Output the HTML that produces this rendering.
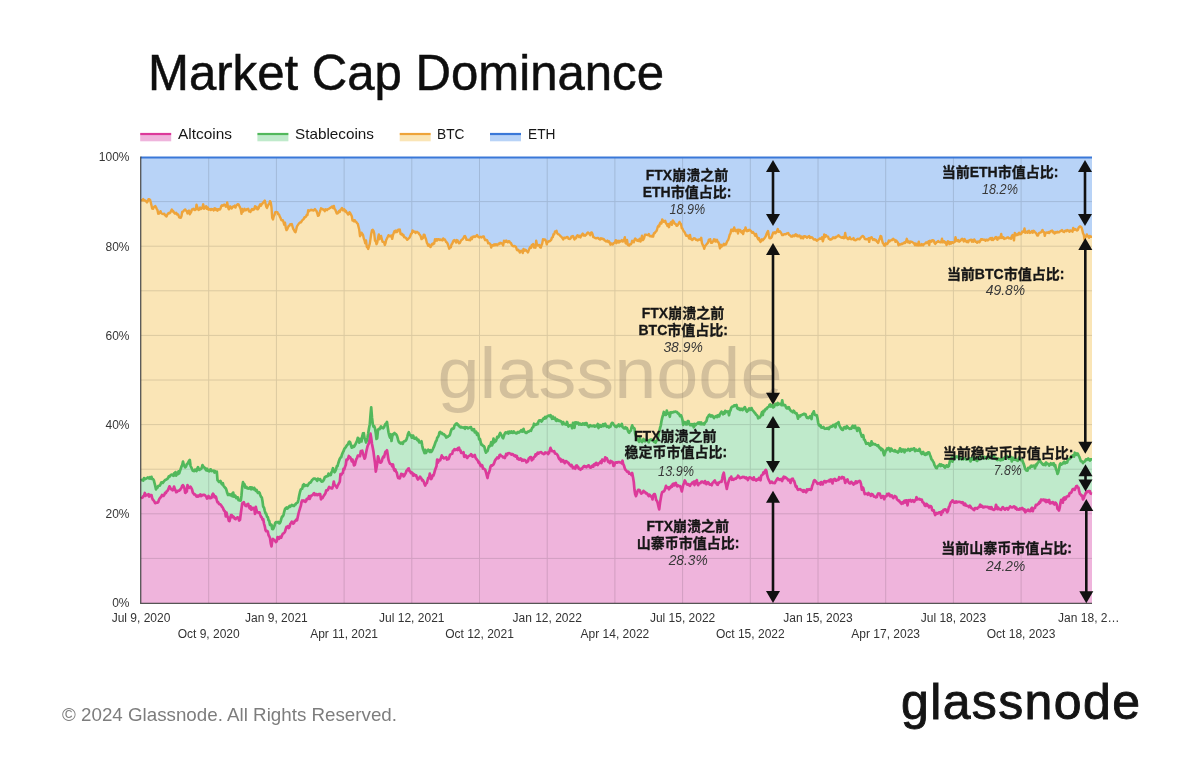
<!DOCTYPE html>
<html><head><meta charset="utf-8"><title>Market Cap Dominance</title>
<style>html,body{margin:0;padding:0;background:#fff;}svg{display:block;}</style></head>
<body><svg width="1200" height="761" viewBox="0 0 1200 761">
<rect width="1200" height="761" fill="#fff"/>
<polygon fill="#b8d3f7" points="141,157 1092,157 1092,236.7 1091.2,236.7 1090.5,236.8 1089.8,235.9 1089,237.8 1088.2,235.9 1087.5,236.3 1086.8,234.4 1086,236.7 1085.2,237.1 1084.5,239.9 1083.8,234.9 1083,233.3 1082.2,229.8 1081.5,227.5 1080.8,226.7 1080,226.3 1079.2,227 1078.5,228 1077.8,230 1077,230.5 1076.2,230 1075.5,229.1 1074.8,229 1074,229.9 1073.2,227.9 1072.5,231.7 1071.8,230.6 1071,231.1 1070.2,230.4 1069.5,231.8 1068.8,230.7 1068,230.4 1067.2,230 1066.5,231.2 1065.8,230.5 1065,230.9 1064.2,232 1063.5,231.9 1062.8,231.3 1062,230 1061.2,230.8 1060.5,231 1059.8,231.6 1059,232.2 1058.2,232.3 1057.5,231.7 1056.8,232.6 1056,232.1 1055.2,233.1 1054.5,233.6 1053.8,232 1053,232.4 1052.2,230.5 1051.5,231.2 1050.8,231 1050,231.9 1049.2,233 1048.5,232.1 1047.8,232.8 1047,232.6 1046.2,232.5 1045.5,233.3 1044.8,235.9 1044,232.1 1043.2,231.9 1042.5,230 1041.8,231.1 1041,232.4 1040.2,232.6 1039.5,232.9 1038.8,233.3 1038,235.6 1037.2,235.5 1036.5,234 1035.8,232.8 1035,232.4 1034.2,231.3 1033.5,230.8 1032.8,232.7 1032,231.1 1031.2,232.4 1030.5,232.4 1029.8,232.9 1029,230.7 1028.2,231.1 1027.5,232.7 1026.8,232.2 1026,231.5 1025.2,232.8 1024.5,228.5 1023.8,231.6 1023,232.1 1022.2,231.6 1021.5,233.4 1020.8,234.2 1020,234.4 1019.2,232.7 1018.5,233.3 1017.8,234.9 1017,234.4 1016.2,235.3 1015.5,234 1014.8,232.9 1014,240.4 1013.2,236.7 1012.5,235 1011.8,236.2 1011,238.7 1010.2,238.1 1009.5,238.3 1008.8,238.2 1008,237.3 1007.2,237.6 1006.5,238.1 1005.8,238.3 1005,238.5 1004.2,238.9 1003.5,237.4 1002.8,237 1002,238 1001.2,234 1000.5,236.9 999.8,238.3 999,237.6 998.2,237.5 997.5,239.8 996.8,239.2 996,237 995.2,237.5 994.5,238.8 993.8,239.1 993,240.1 992.2,238 991.5,239.9 990.8,238.1 990,238.4 989.2,239.2 988.5,239.7 987.8,240.5 987,239.7 986.2,239.7 985.5,240.7 984.8,239.8 984,239.7 983.2,239.7 982.5,239.3 981.8,239.8 981,239.2 980.2,240.9 979.5,242.2 978.8,241.8 978,241.4 977.2,242.8 976.5,241.7 975.8,241.9 975,240.7 974.2,239.5 973.5,241.7 972.8,240 972,241.7 971.2,239.6 970.5,239.8 969.8,240.1 969,240.5 968.2,242.2 967.5,240.9 966.8,242.1 966,241.4 965.2,240 964.5,239.1 963.8,241.4 963,239.7 962.2,238.8 961.5,239.3 960.8,240.3 960,241 959.2,241.7 958.5,240.1 957.8,241 957,241 956.2,239.5 955.5,237.3 954.8,241.9 954,242.3 953.2,242.9 952.5,242.1 951.8,242.2 951,243.6 950.2,242.2 949.5,244.1 948.8,241.7 948,241.3 947.2,243.2 946.5,245 945.8,242.3 945,242.7 944.2,241.2 943.5,241.6 942.8,242.4 942,238.7 941.2,241.9 940.5,242.4 939.8,242.2 939,241.9 938.2,241 937.5,241.9 936.8,241.9 936,243.2 935.2,243.9 934.5,242.9 933.8,240.7 933,240.1 932.2,240.1 931.5,241.7 930.8,241.5 930,240.8 929.2,245.1 928.5,241.3 927.8,242.4 927,243.2 926.2,242.3 925.5,243.1 924.8,243.7 924,244.1 923.2,245.4 922.5,245.2 921.8,244 921,245.3 920.2,245.4 919.5,245.3 918.8,241.6 918,245.4 917.2,243.9 916.5,245.3 915.8,243.6 915,245.2 914.2,243.6 913.5,242.8 912.8,242.5 912,241.9 911.2,241.8 910.5,241.5 909.8,243 909,241.4 908.2,242.5 907.5,240.8 906.8,238.8 906,241.8 905.2,242.9 904.5,242.3 903.8,243.3 903,243.3 902.2,244 901.5,243.7 900.8,244.6 900,244.4 899.2,244.1 898.5,245.3 897.8,242.5 897,241.5 896.2,240.5 895.5,241.8 894.8,239.8 894,239.6 893.2,238.8 892.5,240.1 891.8,239.8 891,240.3 890.2,240.6 889.5,241.5 888.8,240.5 888,242.8 887.2,244.1 886.5,244 885.8,243.3 885,245.8 884.2,245.4 883.5,243.8 882.8,242.9 882,240.2 881.2,236.3 880.5,236 879.8,238.5 879,240.3 878.2,242.9 877.5,242 876.8,241.6 876,239.9 875.2,240.2 874.5,239.2 873.8,239.2 873,239.9 872.2,238.4 871.5,237.2 870.8,237.9 870,237.9 869.2,241.9 868.5,238.3 867.8,239.4 867,239.1 866.2,239.4 865.5,238.9 864.8,239 864,237.1 863.2,236.2 862.5,236 861.8,236.7 861,237.5 860.2,238.3 859.5,239.4 858.8,239.2 858,238.7 857.2,239.3 856.5,239.5 855.8,240.2 855,240.1 854.2,240.1 853.5,238.1 852.8,238.7 852,239.1 851.2,239.2 850.5,239 849.8,237.2 849,238.5 848.2,239.2 847.5,238.7 846.8,237.5 846,237.6 845.2,232.9 844.5,237.4 843.8,238.2 843,237 842.2,237.9 841.5,237.7 840.8,237.3 840,236.7 839.2,236.4 838.5,235.2 837.8,236.2 837,236.6 836.2,236.6 835.5,238 834.8,237.4 834,238.2 833.2,237.3 832.5,238.1 831.8,239.1 831,239.5 830.2,239.7 829.5,238.9 828.8,238.8 828,236.6 827.2,236.4 826.5,235.9 825.8,235.2 825,237.1 824.2,234.4 823.5,239.2 822.8,241.3 822,237.3 821.2,238.6 820.5,238.9 819.8,238.5 819,239.2 818.2,239.6 817.5,240.2 816.8,240.8 816,239.9 815.2,239.3 814.5,239.6 813.8,239.5 813,238.5 812.2,237.5 811.5,237.3 810.8,237.4 810,238 809.2,236 808.5,236.3 807.8,236.9 807,237.7 806.2,236.6 805.5,236.8 804.8,236.2 804,236.2 803.2,238.4 802.5,237.6 801.8,236.5 801,238.2 800.2,236.6 799.5,235.5 798.8,235.9 798,236.5 797.2,235.1 796.5,235.9 795.8,234.3 795,234.7 794.2,236.3 793.5,235.7 792.8,235.4 792,236.7 791.2,236.5 790.5,235.9 789.8,235.1 789,234.9 788.2,232.9 787.5,233.4 786.8,233.4 786,234.1 785.2,234.4 784.5,234.1 783.8,234.3 783,235 782.2,235.1 781.5,233.7 780.8,232.5 780,231.3 779.2,231.7 778.5,231.7 777.8,229 777,231.1 776.2,232.5 775.5,233.3 774.8,232.2 774,233.3 773.2,232.6 772.5,234.4 771.8,236.9 771,238 770.2,238.4 769.5,238.2 768.8,235.2 768,231 767.2,232.6 766.5,234 765.8,236.2 765,237.5 764.2,238.6 763.5,239.3 762.8,240.2 762,239.2 761.2,240.8 760.5,242 759.8,240.7 759,238.3 758.2,239.4 757.5,237.7 756.8,236.5 756,233.9 755.2,235.8 754.5,234.1 753.8,233.2 753,232.1 752.2,232.8 751.5,231.7 750.8,230.8 750,230 749.2,229.8 748.5,230.7 747.8,230.3 747,231.2 746.2,229.7 745.5,227.4 744.8,230.7 744,230.3 743.2,234.1 742.5,231.2 741.8,232.7 741,231.9 740.2,229.9 739.5,230.7 738.8,229.7 738,233.6 737.2,229.8 736.5,230.5 735.8,231.2 735,230.4 734.2,227.5 733.5,231.1 732.8,229.4 732,231.1 731.2,229.7 730.5,233.5 729.8,234.4 729,237.4 728.2,240 727.5,240.8 726.8,242.3 726,244.4 725.2,244 724.5,244.9 723.8,243.8 723,245.5 722.2,245.8 721.5,246.7 720.8,244.6 720,248.4 719.2,244.8 718.5,242.2 717.8,242.2 717,239.8 716.2,241.4 715.5,241.6 714.8,239.5 714,239.3 713.2,241.2 712.5,242.1 711.8,242.9 711,242.8 710.2,239.2 709.5,240.8 708.8,239.7 708,242.8 707.2,243.5 706.5,244.4 705.8,245.4 705,246.2 704.2,248.8 703.5,246.3 702.8,245.1 702,243.2 701.2,237.8 700.5,240 699.8,239.4 699,239.4 698.2,240.2 697.5,240.5 696.8,239.6 696,239.8 695.2,238.7 694.5,238.4 693.8,238.2 693,239.2 692.2,240.1 691.5,239.2 690.8,239 690,234.9 689.2,238.6 688.5,236.8 687.8,235.4 687,235.9 686.2,235.8 685.5,234.2 684.8,232.6 684,231.6 683.2,230.4 682.5,228.6 681.8,228.2 681,224.2 680.2,223.4 679.5,221.9 678.8,223.4 678,224.7 677.2,225.7 676.5,225.7 675.8,224.1 675,223.8 674.2,222.6 673.5,221.5 672.8,220.4 672,224.9 671.2,221.9 670.5,223 669.8,223.9 669,227.2 668.2,224.1 667.5,226 666.8,224.3 666,223.4 665.2,220.7 664.5,221.2 663.8,221.7 663,220.7 662.2,219.4 661.5,223.4 660.8,222.3 660,223.3 659.2,226.4 658.5,225.7 657.8,226.7 657,229.7 656.2,231.5 655.5,231.8 654.8,233.1 654,233.1 653.2,236.6 652.5,235.4 651.8,236.6 651,236.1 650.2,236.3 649.5,235.6 648.8,234.1 648,235.3 647.2,234.9 646.5,234.9 645.8,234.6 645,234.7 644.2,237.7 643.5,239.4 642.8,240.1 642,235.7 641.2,239.6 640.5,241.5 639.8,238.8 639,241.1 638.2,239.7 637.5,240.8 636.8,240.5 636,239.4 635.2,238.5 634.5,239.8 633.8,242.3 633,241.8 632.2,240.8 631.5,243.3 630.8,244.4 630,244.2 629.2,245.5 628.5,245.4 627.8,244.8 627,240 626.2,243.5 625.5,242.9 624.8,237.2 624,240.4 623.2,241.3 622.5,241.6 621.8,240.1 621,240.8 620.2,241.7 619.5,240.9 618.8,242.6 618,240.8 617.2,241.1 616.5,243.2 615.8,240.2 615,242.5 614.2,242.8 613.5,243.1 612.8,244.6 612,244.4 611.2,243.4 610.5,244.7 609.8,242.9 609,241.3 608.2,242 607.5,240.6 606.8,241.4 606,241.5 605.2,240.7 604.5,240.4 603.8,239.1 603,238.8 602.2,239.1 601.5,238.4 600.8,238.3 600,239.6 599.2,239.1 598.5,238.3 597.8,237.9 597,238 596.2,238.4 595.5,238.1 594.8,237.7 594,237.2 593.2,237.1 592.5,234 591.8,232.5 591,232.7 590.2,235.2 589.5,234.1 588.8,233.1 588,232.5 587.2,233.2 586.5,234.4 585.8,235.1 585,235.7 584.2,234.8 583.5,235.5 582.8,233.6 582,234.6 581.2,235.7 580.5,237.4 579.8,235.8 579,236.9 578.2,235.9 577.5,235.2 576.8,236.1 576,238.2 575.2,237.8 574.5,239.4 573.8,238.2 573,235.9 572.2,236.5 571.5,236.4 570.8,238.1 570,239 569.2,238.8 568.5,238.8 567.8,237.3 567,236.9 566.2,237.4 565.5,238.1 564.8,237.7 564,237.6 563.2,239.5 562.5,238.2 561.8,237.3 561,236.5 560.2,235.8 559.5,235 558.8,234.3 558,234.1 557.2,233.2 556.5,230.7 555.8,231.5 555,231.5 554.2,234.4 553.5,234.1 552.8,237.2 552,237.5 551.2,239.9 550.5,240.5 549.8,241.3 549,241.2 548.2,241.9 547.5,241.7 546.8,244.4 546,241.3 545.2,239.6 544.5,239.4 543.8,240.1 543,239.1 542.2,243.7 541.5,245.3 540.8,247.6 540,247.2 539.2,244.9 538.5,245.3 537.8,245.6 537,244.9 536.2,240.7 535.5,247.7 534.8,245.5 534,247.5 533.2,244 532.5,245.8 531.8,245 531,247.9 530.2,247 529.5,248.4 528.8,250.1 528,252.4 527.2,251.4 526.5,251.1 525.8,249.9 525,249.8 524.2,250.8 523.5,249 522.8,253 522,250.8 521.2,250.6 520.5,251.2 519.8,252.6 519,250.8 518.2,249.8 517.5,250.3 516.8,249.6 516,247 515.2,246.4 514.5,245.9 513.8,246.4 513,246.1 512.2,245.6 511.5,244.5 510.8,242.8 510,242.6 509.2,241.2 508.5,241.2 507.8,242.4 507,241.8 506.2,240.5 505.5,241.9 504.8,242.1 504,240.8 503.2,245.4 502.5,243.9 501.8,243.4 501,243 500.2,242.8 499.5,244 498.8,243.5 498,244.5 497.2,245.3 496.5,244.3 495.8,244.1 495,245.3 494.2,244.3 493.5,245.6 492.8,245.1 492,245.6 491.2,247.5 490.5,244.4 489.8,243.5 489,243.2 488.2,243.4 487.5,241.1 486.8,239.9 486,240 485.2,240.2 484.5,238.8 483.8,236.5 483,236.4 482.2,237 481.5,237.5 480.8,236.8 480,237.2 479.2,237.6 478.5,236.7 477.8,236.5 477,234.9 476.2,235.9 475.5,236.4 474.8,236.9 474,236.3 473.2,237.1 472.5,236.8 471.8,239.1 471,237.7 470.2,240.2 469.5,239.7 468.8,240 468,239.9 467.2,239.6 466.5,239.8 465.8,237.6 465,236 464.2,236.4 463.5,238.1 462.8,239 462,239.7 461.2,240.2 460.5,241.5 459.8,243.1 459,243.2 458.2,242.1 457.5,240.3 456.8,240.1 456,242.6 455.2,240.8 454.5,240 453.8,240.3 453,241.7 452.2,243.8 451.5,244.4 450.8,247.4 450,247.6 449.2,248.7 448.5,246.4 447.8,244.1 447,242.6 446.2,242.1 445.5,240.7 444.8,239.4 444,239.5 443.2,238.4 442.5,240.5 441.8,239.8 441,240.1 440.2,239.4 439.5,239.9 438.8,239.2 438,239.1 437.2,240.4 436.5,239.2 435.8,240.7 435,239.2 434.2,243.6 433.5,243 432.8,244.4 432,244 431.2,245.8 430.5,247.1 429.8,246 429,244.6 428.2,245.8 427.5,243.9 426.8,242.6 426,239.2 425.2,237.2 424.5,234.9 423.8,234.6 423,238 422.2,238.7 421.5,239.1 420.8,236.6 420,234.9 419.2,234.3 418.5,232.9 417.8,232.5 417,231.8 416.2,232.2 415.5,232.9 414.8,231.5 414,231.8 413.2,231.5 412.5,230.4 411.8,233.4 411,234 410.2,236.3 409.5,237.8 408.8,238.2 408,239.1 407.2,239.8 406.5,238.8 405.8,237.8 405,237.4 404.2,237.3 403.5,235 402.8,235.6 402,233.7 401.2,234.4 400.5,233.8 399.8,229.5 399,229.8 398.2,229.7 397.5,231.5 396.8,232.1 396,230.6 395.2,232.2 394.5,231.1 393.8,232.8 393,235.1 392.2,238.9 391.5,235.5 390.8,235.6 390,236.5 389.2,235.7 388.5,235.2 387.8,236.8 387,238.4 386.2,240.1 385.5,243.3 384.8,244.9 384,242.2 383.2,241.8 382.5,241.8 381.8,239 381,235.9 380.2,237.3 379.5,239.2 378.8,234.4 378,238.1 377.2,242.8 376.5,244.2 375.8,241.4 375,240.6 374.2,233.4 373.5,230.9 372.8,229.8 372,230.3 371.2,234 370.5,238.9 369.8,243.7 369,246.4 368.2,249 367.5,247.5 366.8,246.8 366,240.4 365.2,243.2 364.5,240.2 363.8,238.5 363,234.9 362.2,233.7 361.5,232.7 360.8,234.9 360,236.2 359.2,229.5 358.5,226.7 357.8,223.8 357,223.1 356.2,221.8 355.5,221.6 354.8,220.2 354,221.3 353.2,219.9 352.5,220.5 351.8,216.3 351,214.5 350.2,213.1 349.5,212.2 348.8,214.2 348,214.6 347.2,212.9 346.5,212.5 345.8,210.8 345,211.4 344.2,209.2 343.5,210.4 342.8,210.3 342,208 341.2,209.3 340.5,209.7 339.8,211.9 339,211 338.2,212.6 337.5,213.4 336.8,213.6 336,211.5 335.2,209.5 334.5,208.8 333.8,205.9 333,208 332.2,206.4 331.5,207.1 330.8,207.3 330,208.1 329.2,208.6 328.5,208.9 327.8,209.1 327,210.2 326.2,209.5 325.5,209.3 324.8,211.2 324,209.8 323.2,209.7 322.5,208.9 321.8,208.9 321,208.3 320.2,211 319.5,212.9 318.8,215.5 318,215.8 317.2,213.1 316.5,211 315.8,210.4 315,209.1 314.2,210 313.5,210.5 312.8,209.9 312,210.4 311.2,209.8 310.5,210 309.8,210.6 309,211.2 308.2,210.3 307.5,214.9 306.8,214.7 306,216.6 305.2,217.3 304.5,217.2 303.8,218.8 303,219.6 302.2,220.3 301.5,221.6 300.8,222.5 300,222.5 299.2,223.1 298.5,224.1 297.8,225.1 297,226.3 296.2,229.6 295.5,232.2 294.8,231.8 294,230 293.2,228.8 292.5,226.5 291.8,224.1 291,224.4 290.2,224.3 289.5,225.8 288.8,225.8 288,227.6 287.2,229.3 286.5,230.1 285.8,227.9 285,222.7 284.2,224.7 283.5,222.1 282.8,220.2 282,220.4 281.2,219.9 280.5,217.9 279.8,216.6 279,214.5 278.2,214.4 277.5,212.4 276.8,212.1 276,212 275.2,212.4 274.5,215 273.8,216.3 273,219.5 272.2,217.8 271.5,207.5 270.8,202.6 270,201.1 269.2,204.1 268.5,204.6 267.8,205.8 267,207.9 266.2,206.6 265.5,203.6 264.8,200.6 264,201.5 263.2,202.5 262.5,203.5 261.8,204.1 261,205.8 260.2,204.3 259.5,205.5 258.8,207.8 258,209.2 257.2,209.2 256.5,206.9 255.8,208.2 255,206.2 254.2,209.4 253.5,209.1 252.8,210.1 252,209 251.2,210.1 250.5,211.9 249.8,211.4 249,211.4 248.2,208.7 247.5,209.2 246.8,209.3 246,210.3 245.2,210.4 244.5,208.8 243.8,210.1 243,211.7 242.2,209 241.5,213.8 240.8,209.5 240,207.4 239.2,205.8 238.5,204.3 237.8,204.1 237,205 236.2,205.7 235.5,207.6 234.8,205.6 234,206.7 233.2,206.5 232.5,207.1 231.8,208.4 231,207.4 230.2,206.3 229.5,208.6 228.8,209.3 228,207.2 227.2,202.4 226.5,206.4 225.8,206.7 225,205.4 224.2,204.5 223.5,205.2 222.8,205.8 222,205.2 221.2,206.2 220.5,208.6 219.8,209.6 219,209.2 218.2,209.3 217.5,210.7 216.8,209.1 216,210 215.2,208.5 214.5,208.3 213.8,210.4 213,209.4 212.2,209.6 211.5,208.9 210.8,210 210,209 209.2,209.5 208.5,209.7 207.8,207.6 207,208.8 206.2,206.3 205.5,206.8 204.8,208.3 204,208.8 203.2,204.3 202.5,207.2 201.8,208.4 201,209 200.2,207.5 199.5,209.2 198.8,210 198,209.3 197.2,207 196.5,204.6 195.8,209.6 195,210.1 194.2,209.9 193.5,208.7 192.8,209.1 192,209.3 191.2,211.9 190.5,213 189.8,214.3 189,210.6 188.2,211.5 187.5,213.4 186.8,211.1 186,210.7 185.2,209.4 184.5,210 183.8,210.6 183,211.7 182.2,211.9 181.5,216 180.8,217.7 180,217.6 179.2,217.5 178.5,215.3 177.8,214.3 177,214.6 176.2,212.8 175.5,213.3 174.8,213.6 174,212.5 173.2,211 172.5,211.4 171.8,209.5 171,211 170.2,212.7 169.5,213.3 168.8,212.9 168,213.7 167.2,214.8 166.5,216.5 165.8,215.9 165,215.1 164.2,213.7 163.5,213.9 162.8,214 162,213.7 161.2,212.8 160.5,211.2 159.8,212.8 159,213.5 158.2,213.7 157.5,210.2 156.8,209.1 156,207.3 155.2,206 154.5,206.8 153.8,207.3 153,208.9 152.2,208.7 151.5,205.6 150.8,202.5 150,199.7 149.2,199.2 148.5,199.3 147.8,201.1 147,202.4 146.2,201.5 145.5,200.6 144.8,200.3 144,200.5 143.2,199.1 142.5,200.3 141.8,200.3 141,200.3"/>
<polygon fill="#fae5b6" points="141,200.3 141.8,200.3 142.5,200.3 143.2,199.1 144,200.5 144.8,200.3 145.5,200.6 146.2,201.5 147,202.4 147.8,201.1 148.5,199.3 149.2,199.2 150,199.7 150.8,202.5 151.5,205.6 152.2,208.7 153,208.9 153.8,207.3 154.5,206.8 155.2,206 156,207.3 156.8,209.1 157.5,210.2 158.2,213.7 159,213.5 159.8,212.8 160.5,211.2 161.2,212.8 162,213.7 162.8,214 163.5,213.9 164.2,213.7 165,215.1 165.8,215.9 166.5,216.5 167.2,214.8 168,213.7 168.8,212.9 169.5,213.3 170.2,212.7 171,211 171.8,209.5 172.5,211.4 173.2,211 174,212.5 174.8,213.6 175.5,213.3 176.2,212.8 177,214.6 177.8,214.3 178.5,215.3 179.2,217.5 180,217.6 180.8,217.7 181.5,216 182.2,211.9 183,211.7 183.8,210.6 184.5,210 185.2,209.4 186,210.7 186.8,211.1 187.5,213.4 188.2,211.5 189,210.6 189.8,214.3 190.5,213 191.2,211.9 192,209.3 192.8,209.1 193.5,208.7 194.2,209.9 195,210.1 195.8,209.6 196.5,204.6 197.2,207 198,209.3 198.8,210 199.5,209.2 200.2,207.5 201,209 201.8,208.4 202.5,207.2 203.2,204.3 204,208.8 204.8,208.3 205.5,206.8 206.2,206.3 207,208.8 207.8,207.6 208.5,209.7 209.2,209.5 210,209 210.8,210 211.5,208.9 212.2,209.6 213,209.4 213.8,210.4 214.5,208.3 215.2,208.5 216,210 216.8,209.1 217.5,210.7 218.2,209.3 219,209.2 219.8,209.6 220.5,208.6 221.2,206.2 222,205.2 222.8,205.8 223.5,205.2 224.2,204.5 225,205.4 225.8,206.7 226.5,206.4 227.2,202.4 228,207.2 228.8,209.3 229.5,208.6 230.2,206.3 231,207.4 231.8,208.4 232.5,207.1 233.2,206.5 234,206.7 234.8,205.6 235.5,207.6 236.2,205.7 237,205 237.8,204.1 238.5,204.3 239.2,205.8 240,207.4 240.8,209.5 241.5,213.8 242.2,209 243,211.7 243.8,210.1 244.5,208.8 245.2,210.4 246,210.3 246.8,209.3 247.5,209.2 248.2,208.7 249,211.4 249.8,211.4 250.5,211.9 251.2,210.1 252,209 252.8,210.1 253.5,209.1 254.2,209.4 255,206.2 255.8,208.2 256.5,206.9 257.2,209.2 258,209.2 258.8,207.8 259.5,205.5 260.2,204.3 261,205.8 261.8,204.1 262.5,203.5 263.2,202.5 264,201.5 264.8,200.6 265.5,203.6 266.2,206.6 267,207.9 267.8,205.8 268.5,204.6 269.2,204.1 270,201.1 270.8,202.6 271.5,207.5 272.2,217.8 273,219.5 273.8,216.3 274.5,215 275.2,212.4 276,212 276.8,212.1 277.5,212.4 278.2,214.4 279,214.5 279.8,216.6 280.5,217.9 281.2,219.9 282,220.4 282.8,220.2 283.5,222.1 284.2,224.7 285,222.7 285.8,227.9 286.5,230.1 287.2,229.3 288,227.6 288.8,225.8 289.5,225.8 290.2,224.3 291,224.4 291.8,224.1 292.5,226.5 293.2,228.8 294,230 294.8,231.8 295.5,232.2 296.2,229.6 297,226.3 297.8,225.1 298.5,224.1 299.2,223.1 300,222.5 300.8,222.5 301.5,221.6 302.2,220.3 303,219.6 303.8,218.8 304.5,217.2 305.2,217.3 306,216.6 306.8,214.7 307.5,214.9 308.2,210.3 309,211.2 309.8,210.6 310.5,210 311.2,209.8 312,210.4 312.8,209.9 313.5,210.5 314.2,210 315,209.1 315.8,210.4 316.5,211 317.2,213.1 318,215.8 318.8,215.5 319.5,212.9 320.2,211 321,208.3 321.8,208.9 322.5,208.9 323.2,209.7 324,209.8 324.8,211.2 325.5,209.3 326.2,209.5 327,210.2 327.8,209.1 328.5,208.9 329.2,208.6 330,208.1 330.8,207.3 331.5,207.1 332.2,206.4 333,208 333.8,205.9 334.5,208.8 335.2,209.5 336,211.5 336.8,213.6 337.5,213.4 338.2,212.6 339,211 339.8,211.9 340.5,209.7 341.2,209.3 342,208 342.8,210.3 343.5,210.4 344.2,209.2 345,211.4 345.8,210.8 346.5,212.5 347.2,212.9 348,214.6 348.8,214.2 349.5,212.2 350.2,213.1 351,214.5 351.8,216.3 352.5,220.5 353.2,219.9 354,221.3 354.8,220.2 355.5,221.6 356.2,221.8 357,223.1 357.8,223.8 358.5,226.7 359.2,229.5 360,236.2 360.8,234.9 361.5,232.7 362.2,233.7 363,234.9 363.8,238.5 364.5,240.2 365.2,243.2 366,240.4 366.8,246.8 367.5,247.5 368.2,249 369,246.4 369.8,243.7 370.5,238.9 371.2,234 372,230.3 372.8,229.8 373.5,230.9 374.2,233.4 375,240.6 375.8,241.4 376.5,244.2 377.2,242.8 378,238.1 378.8,234.4 379.5,239.2 380.2,237.3 381,235.9 381.8,239 382.5,241.8 383.2,241.8 384,242.2 384.8,244.9 385.5,243.3 386.2,240.1 387,238.4 387.8,236.8 388.5,235.2 389.2,235.7 390,236.5 390.8,235.6 391.5,235.5 392.2,238.9 393,235.1 393.8,232.8 394.5,231.1 395.2,232.2 396,230.6 396.8,232.1 397.5,231.5 398.2,229.7 399,229.8 399.8,229.5 400.5,233.8 401.2,234.4 402,233.7 402.8,235.6 403.5,235 404.2,237.3 405,237.4 405.8,237.8 406.5,238.8 407.2,239.8 408,239.1 408.8,238.2 409.5,237.8 410.2,236.3 411,234 411.8,233.4 412.5,230.4 413.2,231.5 414,231.8 414.8,231.5 415.5,232.9 416.2,232.2 417,231.8 417.8,232.5 418.5,232.9 419.2,234.3 420,234.9 420.8,236.6 421.5,239.1 422.2,238.7 423,238 423.8,234.6 424.5,234.9 425.2,237.2 426,239.2 426.8,242.6 427.5,243.9 428.2,245.8 429,244.6 429.8,246 430.5,247.1 431.2,245.8 432,244 432.8,244.4 433.5,243 434.2,243.6 435,239.2 435.8,240.7 436.5,239.2 437.2,240.4 438,239.1 438.8,239.2 439.5,239.9 440.2,239.4 441,240.1 441.8,239.8 442.5,240.5 443.2,238.4 444,239.5 444.8,239.4 445.5,240.7 446.2,242.1 447,242.6 447.8,244.1 448.5,246.4 449.2,248.7 450,247.6 450.8,247.4 451.5,244.4 452.2,243.8 453,241.7 453.8,240.3 454.5,240 455.2,240.8 456,242.6 456.8,240.1 457.5,240.3 458.2,242.1 459,243.2 459.8,243.1 460.5,241.5 461.2,240.2 462,239.7 462.8,239 463.5,238.1 464.2,236.4 465,236 465.8,237.6 466.5,239.8 467.2,239.6 468,239.9 468.8,240 469.5,239.7 470.2,240.2 471,237.7 471.8,239.1 472.5,236.8 473.2,237.1 474,236.3 474.8,236.9 475.5,236.4 476.2,235.9 477,234.9 477.8,236.5 478.5,236.7 479.2,237.6 480,237.2 480.8,236.8 481.5,237.5 482.2,237 483,236.4 483.8,236.5 484.5,238.8 485.2,240.2 486,240 486.8,239.9 487.5,241.1 488.2,243.4 489,243.2 489.8,243.5 490.5,244.4 491.2,247.5 492,245.6 492.8,245.1 493.5,245.6 494.2,244.3 495,245.3 495.8,244.1 496.5,244.3 497.2,245.3 498,244.5 498.8,243.5 499.5,244 500.2,242.8 501,243 501.8,243.4 502.5,243.9 503.2,245.4 504,240.8 504.8,242.1 505.5,241.9 506.2,240.5 507,241.8 507.8,242.4 508.5,241.2 509.2,241.2 510,242.6 510.8,242.8 511.5,244.5 512.2,245.6 513,246.1 513.8,246.4 514.5,245.9 515.2,246.4 516,247 516.8,249.6 517.5,250.3 518.2,249.8 519,250.8 519.8,252.6 520.5,251.2 521.2,250.6 522,250.8 522.8,253 523.5,249 524.2,250.8 525,249.8 525.8,249.9 526.5,251.1 527.2,251.4 528,252.4 528.8,250.1 529.5,248.4 530.2,247 531,247.9 531.8,245 532.5,245.8 533.2,244 534,247.5 534.8,245.5 535.5,247.7 536.2,240.7 537,244.9 537.8,245.6 538.5,245.3 539.2,244.9 540,247.2 540.8,247.6 541.5,245.3 542.2,243.7 543,239.1 543.8,240.1 544.5,239.4 545.2,239.6 546,241.3 546.8,244.4 547.5,241.7 548.2,241.9 549,241.2 549.8,241.3 550.5,240.5 551.2,239.9 552,237.5 552.8,237.2 553.5,234.1 554.2,234.4 555,231.5 555.8,231.5 556.5,230.7 557.2,233.2 558,234.1 558.8,234.3 559.5,235 560.2,235.8 561,236.5 561.8,237.3 562.5,238.2 563.2,239.5 564,237.6 564.8,237.7 565.5,238.1 566.2,237.4 567,236.9 567.8,237.3 568.5,238.8 569.2,238.8 570,239 570.8,238.1 571.5,236.4 572.2,236.5 573,235.9 573.8,238.2 574.5,239.4 575.2,237.8 576,238.2 576.8,236.1 577.5,235.2 578.2,235.9 579,236.9 579.8,235.8 580.5,237.4 581.2,235.7 582,234.6 582.8,233.6 583.5,235.5 584.2,234.8 585,235.7 585.8,235.1 586.5,234.4 587.2,233.2 588,232.5 588.8,233.1 589.5,234.1 590.2,235.2 591,232.7 591.8,232.5 592.5,234 593.2,237.1 594,237.2 594.8,237.7 595.5,238.1 596.2,238.4 597,238 597.8,237.9 598.5,238.3 599.2,239.1 600,239.6 600.8,238.3 601.5,238.4 602.2,239.1 603,238.8 603.8,239.1 604.5,240.4 605.2,240.7 606,241.5 606.8,241.4 607.5,240.6 608.2,242 609,241.3 609.8,242.9 610.5,244.7 611.2,243.4 612,244.4 612.8,244.6 613.5,243.1 614.2,242.8 615,242.5 615.8,240.2 616.5,243.2 617.2,241.1 618,240.8 618.8,242.6 619.5,240.9 620.2,241.7 621,240.8 621.8,240.1 622.5,241.6 623.2,241.3 624,240.4 624.8,237.2 625.5,242.9 626.2,243.5 627,240 627.8,244.8 628.5,245.4 629.2,245.5 630,244.2 630.8,244.4 631.5,243.3 632.2,240.8 633,241.8 633.8,242.3 634.5,239.8 635.2,238.5 636,239.4 636.8,240.5 637.5,240.8 638.2,239.7 639,241.1 639.8,238.8 640.5,241.5 641.2,239.6 642,235.7 642.8,240.1 643.5,239.4 644.2,237.7 645,234.7 645.8,234.6 646.5,234.9 647.2,234.9 648,235.3 648.8,234.1 649.5,235.6 650.2,236.3 651,236.1 651.8,236.6 652.5,235.4 653.2,236.6 654,233.1 654.8,233.1 655.5,231.8 656.2,231.5 657,229.7 657.8,226.7 658.5,225.7 659.2,226.4 660,223.3 660.8,222.3 661.5,223.4 662.2,219.4 663,220.7 663.8,221.7 664.5,221.2 665.2,220.7 666,223.4 666.8,224.3 667.5,226 668.2,224.1 669,227.2 669.8,223.9 670.5,223 671.2,221.9 672,224.9 672.8,220.4 673.5,221.5 674.2,222.6 675,223.8 675.8,224.1 676.5,225.7 677.2,225.7 678,224.7 678.8,223.4 679.5,221.9 680.2,223.4 681,224.2 681.8,228.2 682.5,228.6 683.2,230.4 684,231.6 684.8,232.6 685.5,234.2 686.2,235.8 687,235.9 687.8,235.4 688.5,236.8 689.2,238.6 690,234.9 690.8,239 691.5,239.2 692.2,240.1 693,239.2 693.8,238.2 694.5,238.4 695.2,238.7 696,239.8 696.8,239.6 697.5,240.5 698.2,240.2 699,239.4 699.8,239.4 700.5,240 701.2,237.8 702,243.2 702.8,245.1 703.5,246.3 704.2,248.8 705,246.2 705.8,245.4 706.5,244.4 707.2,243.5 708,242.8 708.8,239.7 709.5,240.8 710.2,239.2 711,242.8 711.8,242.9 712.5,242.1 713.2,241.2 714,239.3 714.8,239.5 715.5,241.6 716.2,241.4 717,239.8 717.8,242.2 718.5,242.2 719.2,244.8 720,248.4 720.8,244.6 721.5,246.7 722.2,245.8 723,245.5 723.8,243.8 724.5,244.9 725.2,244 726,244.4 726.8,242.3 727.5,240.8 728.2,240 729,237.4 729.8,234.4 730.5,233.5 731.2,229.7 732,231.1 732.8,229.4 733.5,231.1 734.2,227.5 735,230.4 735.8,231.2 736.5,230.5 737.2,229.8 738,233.6 738.8,229.7 739.5,230.7 740.2,229.9 741,231.9 741.8,232.7 742.5,231.2 743.2,234.1 744,230.3 744.8,230.7 745.5,227.4 746.2,229.7 747,231.2 747.8,230.3 748.5,230.7 749.2,229.8 750,230 750.8,230.8 751.5,231.7 752.2,232.8 753,232.1 753.8,233.2 754.5,234.1 755.2,235.8 756,233.9 756.8,236.5 757.5,237.7 758.2,239.4 759,238.3 759.8,240.7 760.5,242 761.2,240.8 762,239.2 762.8,240.2 763.5,239.3 764.2,238.6 765,237.5 765.8,236.2 766.5,234 767.2,232.6 768,231 768.8,235.2 769.5,238.2 770.2,238.4 771,238 771.8,236.9 772.5,234.4 773.2,232.6 774,233.3 774.8,232.2 775.5,233.3 776.2,232.5 777,231.1 777.8,229 778.5,231.7 779.2,231.7 780,231.3 780.8,232.5 781.5,233.7 782.2,235.1 783,235 783.8,234.3 784.5,234.1 785.2,234.4 786,234.1 786.8,233.4 787.5,233.4 788.2,232.9 789,234.9 789.8,235.1 790.5,235.9 791.2,236.5 792,236.7 792.8,235.4 793.5,235.7 794.2,236.3 795,234.7 795.8,234.3 796.5,235.9 797.2,235.1 798,236.5 798.8,235.9 799.5,235.5 800.2,236.6 801,238.2 801.8,236.5 802.5,237.6 803.2,238.4 804,236.2 804.8,236.2 805.5,236.8 806.2,236.6 807,237.7 807.8,236.9 808.5,236.3 809.2,236 810,238 810.8,237.4 811.5,237.3 812.2,237.5 813,238.5 813.8,239.5 814.5,239.6 815.2,239.3 816,239.9 816.8,240.8 817.5,240.2 818.2,239.6 819,239.2 819.8,238.5 820.5,238.9 821.2,238.6 822,237.3 822.8,241.3 823.5,239.2 824.2,234.4 825,237.1 825.8,235.2 826.5,235.9 827.2,236.4 828,236.6 828.8,238.8 829.5,238.9 830.2,239.7 831,239.5 831.8,239.1 832.5,238.1 833.2,237.3 834,238.2 834.8,237.4 835.5,238 836.2,236.6 837,236.6 837.8,236.2 838.5,235.2 839.2,236.4 840,236.7 840.8,237.3 841.5,237.7 842.2,237.9 843,237 843.8,238.2 844.5,237.4 845.2,232.9 846,237.6 846.8,237.5 847.5,238.7 848.2,239.2 849,238.5 849.8,237.2 850.5,239 851.2,239.2 852,239.1 852.8,238.7 853.5,238.1 854.2,240.1 855,240.1 855.8,240.2 856.5,239.5 857.2,239.3 858,238.7 858.8,239.2 859.5,239.4 860.2,238.3 861,237.5 861.8,236.7 862.5,236 863.2,236.2 864,237.1 864.8,239 865.5,238.9 866.2,239.4 867,239.1 867.8,239.4 868.5,238.3 869.2,241.9 870,237.9 870.8,237.9 871.5,237.2 872.2,238.4 873,239.9 873.8,239.2 874.5,239.2 875.2,240.2 876,239.9 876.8,241.6 877.5,242 878.2,242.9 879,240.3 879.8,238.5 880.5,236 881.2,236.3 882,240.2 882.8,242.9 883.5,243.8 884.2,245.4 885,245.8 885.8,243.3 886.5,244 887.2,244.1 888,242.8 888.8,240.5 889.5,241.5 890.2,240.6 891,240.3 891.8,239.8 892.5,240.1 893.2,238.8 894,239.6 894.8,239.8 895.5,241.8 896.2,240.5 897,241.5 897.8,242.5 898.5,245.3 899.2,244.1 900,244.4 900.8,244.6 901.5,243.7 902.2,244 903,243.3 903.8,243.3 904.5,242.3 905.2,242.9 906,241.8 906.8,238.8 907.5,240.8 908.2,242.5 909,241.4 909.8,243 910.5,241.5 911.2,241.8 912,241.9 912.8,242.5 913.5,242.8 914.2,243.6 915,245.2 915.8,243.6 916.5,245.3 917.2,243.9 918,245.4 918.8,241.6 919.5,245.3 920.2,245.4 921,245.3 921.8,244 922.5,245.2 923.2,245.4 924,244.1 924.8,243.7 925.5,243.1 926.2,242.3 927,243.2 927.8,242.4 928.5,241.3 929.2,245.1 930,240.8 930.8,241.5 931.5,241.7 932.2,240.1 933,240.1 933.8,240.7 934.5,242.9 935.2,243.9 936,243.2 936.8,241.9 937.5,241.9 938.2,241 939,241.9 939.8,242.2 940.5,242.4 941.2,241.9 942,238.7 942.8,242.4 943.5,241.6 944.2,241.2 945,242.7 945.8,242.3 946.5,245 947.2,243.2 948,241.3 948.8,241.7 949.5,244.1 950.2,242.2 951,243.6 951.8,242.2 952.5,242.1 953.2,242.9 954,242.3 954.8,241.9 955.5,237.3 956.2,239.5 957,241 957.8,241 958.5,240.1 959.2,241.7 960,241 960.8,240.3 961.5,239.3 962.2,238.8 963,239.7 963.8,241.4 964.5,239.1 965.2,240 966,241.4 966.8,242.1 967.5,240.9 968.2,242.2 969,240.5 969.8,240.1 970.5,239.8 971.2,239.6 972,241.7 972.8,240 973.5,241.7 974.2,239.5 975,240.7 975.8,241.9 976.5,241.7 977.2,242.8 978,241.4 978.8,241.8 979.5,242.2 980.2,240.9 981,239.2 981.8,239.8 982.5,239.3 983.2,239.7 984,239.7 984.8,239.8 985.5,240.7 986.2,239.7 987,239.7 987.8,240.5 988.5,239.7 989.2,239.2 990,238.4 990.8,238.1 991.5,239.9 992.2,238 993,240.1 993.8,239.1 994.5,238.8 995.2,237.5 996,237 996.8,239.2 997.5,239.8 998.2,237.5 999,237.6 999.8,238.3 1000.5,236.9 1001.2,234 1002,238 1002.8,237 1003.5,237.4 1004.2,238.9 1005,238.5 1005.8,238.3 1006.5,238.1 1007.2,237.6 1008,237.3 1008.8,238.2 1009.5,238.3 1010.2,238.1 1011,238.7 1011.8,236.2 1012.5,235 1013.2,236.7 1014,240.4 1014.8,232.9 1015.5,234 1016.2,235.3 1017,234.4 1017.8,234.9 1018.5,233.3 1019.2,232.7 1020,234.4 1020.8,234.2 1021.5,233.4 1022.2,231.6 1023,232.1 1023.8,231.6 1024.5,228.5 1025.2,232.8 1026,231.5 1026.8,232.2 1027.5,232.7 1028.2,231.1 1029,230.7 1029.8,232.9 1030.5,232.4 1031.2,232.4 1032,231.1 1032.8,232.7 1033.5,230.8 1034.2,231.3 1035,232.4 1035.8,232.8 1036.5,234 1037.2,235.5 1038,235.6 1038.8,233.3 1039.5,232.9 1040.2,232.6 1041,232.4 1041.8,231.1 1042.5,230 1043.2,231.9 1044,232.1 1044.8,235.9 1045.5,233.3 1046.2,232.5 1047,232.6 1047.8,232.8 1048.5,232.1 1049.2,233 1050,231.9 1050.8,231 1051.5,231.2 1052.2,230.5 1053,232.4 1053.8,232 1054.5,233.6 1055.2,233.1 1056,232.1 1056.8,232.6 1057.5,231.7 1058.2,232.3 1059,232.2 1059.8,231.6 1060.5,231 1061.2,230.8 1062,230 1062.8,231.3 1063.5,231.9 1064.2,232 1065,230.9 1065.8,230.5 1066.5,231.2 1067.2,230 1068,230.4 1068.8,230.7 1069.5,231.8 1070.2,230.4 1071,231.1 1071.8,230.6 1072.5,231.7 1073.2,227.9 1074,229.9 1074.8,229 1075.5,229.1 1076.2,230 1077,230.5 1077.8,230 1078.5,228 1079.2,227 1080,226.3 1080.8,226.7 1081.5,227.5 1082.2,229.8 1083,233.3 1083.8,234.9 1084.5,239.9 1085.2,237.1 1086,236.7 1086.8,234.4 1087.5,236.3 1088.2,235.9 1089,237.8 1089.8,235.9 1090.5,236.8 1091.2,236.7 1092,236.7 1092,459.3 1091.2,459.3 1090.5,459.3 1089.8,460.5 1089,459.8 1088.2,458.5 1087.5,459.4 1086.8,459.8 1086,459.3 1085.2,460.8 1084.5,461.7 1083.8,461.8 1083,463.1 1082.2,461.7 1081.5,461.1 1080.8,461.2 1080,458.7 1079.2,456.6 1078.5,455.5 1077.8,453.8 1077,453.4 1076.2,454.8 1075.5,454.4 1074.8,452.7 1074,456.7 1073.2,455.2 1072.5,455.7 1071.8,456.6 1071,456.5 1070.2,458.4 1069.5,459.1 1068.8,459 1068,459.4 1067.2,462.4 1066.5,462.7 1065.8,462.3 1065,463.4 1064.2,461.7 1063.5,462.4 1062.8,463.7 1062,464.1 1061.2,464.7 1060.5,463.4 1059.8,464.7 1059,468.9 1058.2,472.5 1057.5,474 1056.8,471 1056,469.2 1055.2,465.1 1054.5,466.1 1053.8,463.4 1053,463.4 1052.2,464.6 1051.5,464.5 1050.8,463.3 1050,464.4 1049.2,465.6 1048.5,464.4 1047.8,463.7 1047,463.7 1046.2,462.5 1045.5,465.2 1044.8,463.6 1044,464.6 1043.2,464.9 1042.5,464.1 1041.8,463.2 1041,462.4 1040.2,460.9 1039.5,459.5 1038.8,461.7 1038,462.6 1037.2,463.8 1036.5,465.3 1035.8,464.7 1035,468.3 1034.2,465.9 1033.5,465.7 1032.8,465.8 1032,466.6 1031.2,465.6 1030.5,466.4 1029.8,468.1 1029,467.8 1028.2,467.8 1027.5,470.6 1026.8,470.6 1026,470.2 1025.2,468.8 1024.5,466.5 1023.8,464.1 1023,462.3 1022.2,459.6 1021.5,459.6 1020.8,460.1 1020,459.2 1019.2,457.5 1018.5,459 1017.8,460.8 1017,460.4 1016.2,460.1 1015.5,458.9 1014.8,459.5 1014,459.7 1013.2,457.9 1012.5,457.9 1011.8,461.5 1011,457 1010.2,458.6 1009.5,458.3 1008.8,458.7 1008,457.7 1007.2,455.9 1006.5,456.7 1005.8,456.8 1005,457.4 1004.2,457.7 1003.5,458.5 1002.8,459.7 1002,459.9 1001.2,459.1 1000.5,460.4 999.8,459.9 999,459 998.2,458.6 997.5,460.1 996.8,459.8 996,458 995.2,458 994.5,457.9 993.8,455.9 993,455.4 992.2,455.6 991.5,456.4 990.8,456.9 990,457.6 989.2,457.4 988.5,458.5 987.8,456.7 987,457.1 986.2,457.5 985.5,457.5 984.8,456.9 984,458.6 983.2,457.4 982.5,456.7 981.8,456.7 981,458.4 980.2,457.4 979.5,459 978.8,457.4 978,458.9 977.2,460.9 976.5,460.7 975.8,458 975,459.6 974.2,457.5 973.5,457.7 972.8,459.5 972,458 971.2,459.5 970.5,461.5 969.8,458.2 969,459.1 968.2,458.9 967.5,459.2 966.8,459.4 966,459.3 965.2,458.8 964.5,458.1 963.8,458.3 963,459.3 962.2,459 961.5,459.3 960.8,457.6 960,458.5 959.2,457.1 958.5,457.7 957.8,456.7 957,456.8 956.2,456.4 955.5,457.1 954.8,458.7 954,456.7 953.2,458.1 952.5,461.7 951.8,457.6 951,459.7 950.2,460.2 949.5,462.9 948.8,466.1 948,466.8 947.2,466.5 946.5,465.3 945.8,466.7 945,467.7 944.2,466.8 943.5,465.4 942.8,465.2 942,465.7 941.2,464.5 940.5,466.1 939.8,464.3 939,465.4 938.2,465.8 937.5,466.4 936.8,468.2 936,468 935.2,466.2 934.5,465.1 933.8,462.7 933,461.3 932.2,459.8 931.5,459.4 930.8,457 930,454.9 929.2,452.6 928.5,452.4 927.8,452.6 927,454.2 926.2,453.3 925.5,454.9 924.8,454.7 924,453.9 923.2,451.9 922.5,452.7 921.8,454 921,452.8 920.2,450.9 919.5,448.9 918.8,450.4 918,450.7 917.2,450.6 916.5,449.8 915.8,450.7 915,451.2 914.2,448.3 913.5,448.5 912.8,449 912,449.7 911.2,448.9 910.5,450.3 909.8,450.9 909,449.4 908.2,449 907.5,450.1 906.8,450.5 906,450.2 905.2,449.7 904.5,452.3 903.8,450.4 903,449.4 902.2,450.2 901.5,451.7 900.8,449.1 900,448.3 899.2,451.4 898.5,450.9 897.8,452.5 897,451.8 896.2,451.7 895.5,450.6 894.8,450.2 894,451.3 893.2,450.6 892.5,450.7 891.8,449.3 891,448.6 890.2,451.4 889.5,448.9 888.8,448 888,449.2 887.2,448.5 886.5,450.3 885.8,450.4 885,453.1 884.2,455.2 883.5,453.2 882.8,449.8 882,448.8 881.2,450 880.5,448 879.8,448.4 879,447 878.2,445.3 877.5,446 876.8,445.3 876,444.9 875.2,444.2 874.5,444.4 873.8,444 873,443.4 872.2,444.6 871.5,441.4 870.8,445.3 870,445.7 869.2,444.6 868.5,443.2 867.8,443.6 867,443.1 866.2,443.8 865.5,441.9 864.8,440.1 864,439.4 863.2,435.1 862.5,436.6 861.8,436.6 861,434.1 860.2,431.9 859.5,428.9 858.8,428 858,427.9 857.2,431 856.5,428 855.8,428.1 855,425.8 854.2,427.9 853.5,427.5 852.8,425.8 852,426.7 851.2,428.7 850.5,428.5 849.8,428.9 849,428.4 848.2,427.7 847.5,427 846.8,426.1 846,428.5 845.2,427.4 844.5,427 843.8,427.5 843,429.9 842.2,429.9 841.5,429.1 840.8,428.2 840,426.7 839.2,425 838.5,422.1 837.8,423.5 837,423.4 836.2,423.8 835.5,427.3 834.8,424.6 834,426 833.2,425 832.5,426 831.8,426.6 831,426.4 830.2,427.3 829.5,427.1 828.8,429 828,428.7 827.2,427.9 826.5,428.7 825.8,428.6 825,428.8 824.2,428.4 823.5,427 822.8,427.7 822,427.7 821.2,427.5 820.5,425.2 819.8,426 819,425.3 818.2,422.8 817.5,418.3 816.8,415.3 816,415.1 815.2,415.1 814.5,414.4 813.8,411.3 813,413.2 812.2,414.2 811.5,419 810.8,417.4 810,416.3 809.2,417.3 808.5,418.1 807.8,417.3 807,417.8 806.2,416.3 805.5,414.2 804.8,414.5 804,413.7 803.2,414.4 802.5,414.4 801.8,415 801,415 800.2,416.4 799.5,415.8 798.8,415.7 798,418.7 797.2,415.3 796.5,413.2 795.8,413.4 795,412.9 794.2,411.3 793.5,410.7 792.8,412.2 792,411.5 791.2,411.3 790.5,410.3 789.8,409.4 789,407.4 788.2,407.2 787.5,408.5 786.8,408.4 786,407.4 785.2,405.2 784.5,404.9 783.8,405.2 783,405.2 782.2,400.3 781.5,405.1 780.8,404.2 780,403.8 779.2,403.9 778.5,404.6 777.8,403 777,405.1 776.2,403.8 775.5,403.8 774.8,404.9 774,406.9 773.2,407.4 772.5,405.7 771.8,405.2 771,406.5 770.2,404.5 769.5,404.9 768.8,406.9 768,407 767.2,407.9 766.5,409.2 765.8,408.9 765,409.9 764.2,411.6 763.5,410.8 762.8,415 762,412.2 761.2,414.8 760.5,416.4 759.8,417.5 759,417.3 758.2,418.3 757.5,415.9 756.8,415.2 756,414.7 755.2,413.2 754.5,412.6 753.8,411.6 753,410.7 752.2,409.8 751.5,408.1 750.8,409.7 750,408.9 749.2,408.5 748.5,410.4 747.8,409.9 747,411.7 746.2,410.7 745.5,408.8 744.8,407.1 744,408.1 743.2,409.4 742.5,410.2 741.8,408.9 741,408.7 740.2,409.9 739.5,409.6 738.8,408.2 738,408.8 737.2,408.2 736.5,405 735.8,405.7 735,405.3 734.2,405.3 733.5,406.5 732.8,406.4 732,406.7 731.2,407.8 730.5,410.3 729.8,411.5 729,415.3 728.2,411.4 727.5,412.1 726.8,411.4 726,412.2 725.2,410.8 724.5,413.6 723.8,412.4 723,414.3 722.2,412.7 721.5,411.6 720.8,412.7 720,413.8 719.2,416.3 718.5,416.2 717.8,415.3 717,417.1 716.2,415.9 715.5,416.5 714.8,416.9 714,418.1 713.2,416.9 712.5,415.7 711.8,415.4 711,416.5 710.2,416.1 709.5,414.7 708.8,415.3 708,416.8 707.2,417.9 706.5,421 705.8,421.7 705,422.8 704.2,424.5 703.5,423.5 702.8,424.1 702,424.3 701.2,422.5 700.5,424.2 699.8,422.5 699,423.7 698.2,422.5 697.5,423.4 696.8,423.7 696,424.7 695.2,425.3 694.5,423.9 693.8,427.3 693,424.1 692.2,425.3 691.5,424.2 690.8,425.1 690,425.2 689.2,423.6 688.5,421 687.8,421.1 687,424.5 686.2,424.5 685.5,422.6 684.8,422.1 684,422 683.2,424.9 682.5,420 681.8,417.3 681,415.3 680.2,416.2 679.5,415 678.8,413.5 678,413.4 677.2,412.2 676.5,412.1 675.8,411.7 675,411.7 674.2,412 673.5,411.9 672.8,412.5 672,412.2 671.2,413 670.5,412.3 669.8,416.8 669,413.2 668.2,413.7 667.5,412.7 666.8,410.6 666,415 665.2,415 664.5,414 663.8,412 663,415.1 662.2,417.9 661.5,421 660.8,425.3 660,428.2 659.2,431.5 658.5,434.8 657.8,438.2 657,440.1 656.2,441.2 655.5,442.7 654.8,441.2 654,441.9 653.2,440.4 652.5,440.3 651.8,439.7 651,439.7 650.2,439.7 649.5,440.3 648.8,442.2 648,441.4 647.2,439.8 646.5,439.6 645.8,440 645,441.3 644.2,440.5 643.5,439 642.8,440.9 642,442 641.2,441.3 640.5,439.8 639.8,437.9 639,441.8 638.2,440.1 637.5,439.5 636.8,439 636,436.3 635.2,433.8 634.5,428.5 633.8,427.9 633,427.7 632.2,425.4 631.5,427.5 630.8,430.6 630,431.1 629.2,432.8 628.5,432.1 627.8,430.4 627,428.2 626.2,428.4 625.5,427.1 624.8,428.5 624,428.4 623.2,427.5 622.5,426.9 621.8,423.9 621,425.3 620.2,425.7 619.5,426.3 618.8,424.5 618,425.4 617.2,425.7 616.5,427.1 615.8,426.8 615,426.3 614.2,425.1 613.5,424.4 612.8,423 612,422.8 611.2,424.2 610.5,426.7 609.8,426.7 609,427.5 608.2,426.4 607.5,426.4 606.8,426.9 606,425.6 605.2,423.8 604.5,424.5 603.8,426 603,424.2 602.2,425.3 601.5,426.6 600.8,426.7 600,425 599.2,426.2 598.5,428.1 597.8,424 597,426.2 596.2,425.6 595.5,426 594.8,426.7 594,425.5 593.2,426.1 592.5,425.9 591.8,426.2 591,426 590.2,425.1 589.5,426.4 588.8,427 588,425.6 587.2,425.2 586.5,423 585.8,423 585,424.7 584.2,423.4 583.5,424.2 582.8,423.5 582,424.6 581.2,424.7 580.5,423.7 579.8,423.5 579,424.5 578.2,422.7 577.5,423.3 576.8,422.3 576,423.6 575.2,422.3 574.5,427.7 573.8,427.1 573,422.9 572.2,428.2 571.5,426.1 570.8,425.1 570,425.3 569.2,425.6 568.5,426.6 567.8,424.7 567,422 566.2,424.6 565.5,424.5 564.8,423.8 564,423.8 563.2,422.1 562.5,424.3 561.8,422.5 561,421.4 560.2,421.2 559.5,420.5 558.8,420.8 558,420.3 557.2,419.5 556.5,420.9 555.8,420.4 555,417.8 554.2,418.6 553.5,418.7 552.8,416.6 552,418.8 551.2,416.8 550.5,415.1 549.8,416.2 549,415.5 548.2,415.8 547.5,416.2 546.8,416.8 546,418.1 545.2,417 544.5,418.6 543.8,418.1 543,419 542.2,420.6 541.5,421.5 540.8,420.3 540,420.7 539.2,420.4 538.5,421.5 537.8,424.1 537,423.6 536.2,424.7 535.5,424.8 534.8,424.8 534,423.7 533.2,427.1 532.5,427.4 531.8,428.6 531,430.8 530.2,430.6 529.5,430.9 528.8,431.7 528,431.5 527.2,432.3 526.5,432.9 525.8,432.8 525,431.8 524.2,431.8 523.5,428.9 522.8,429.9 522,431.7 521.2,430.1 520.5,431.2 519.8,431.7 519,432.5 518.2,432 517.5,432.1 516.8,433.4 516,433.3 515.2,432.9 514.5,432.4 513.8,431.4 513,432.9 512.2,432.7 511.5,431.4 510.8,432.7 510,431.7 509.2,431.5 508.5,433.5 507.8,432 507,433.1 506.2,432.5 505.5,432.4 504.8,433.4 504,435.7 503.2,438.2 502.5,437.5 501.8,435.5 501,434.5 500.2,433 499.5,434.3 498.8,436.7 498,437.5 497.2,436.8 496.5,439.5 495.8,441.2 495,440.2 494.2,442.5 493.5,438.6 492.8,443.5 492,445.5 491.2,442.1 490.5,445 489.8,446.3 489,446.1 488.2,448.6 487.5,451.1 486.8,451 486,452.6 485.2,450.8 484.5,447.2 483.8,446 483,445.9 482.2,444.6 481.5,444.8 480.8,442.8 480,439 479.2,439.4 478.5,435.4 477.8,433.4 477,434.8 476.2,431.8 475.5,432.3 474.8,432.5 474,429.1 473.2,429.7 472.5,430.4 471.8,429.7 471,427.1 470.2,427.4 469.5,427.6 468.8,427.9 468,428.4 467.2,427.4 466.5,427.7 465.8,427.1 465,428.8 464.2,427.1 463.5,427.8 462.8,427.5 462,427.4 461.2,426.8 460.5,427.3 459.8,426.5 459,426.2 458.2,424.7 457.5,424.9 456.8,423.4 456,423.8 455.2,424.6 454.5,425.5 453.8,428.4 453,428.8 452.2,428.7 451.5,429.5 450.8,431.5 450,434.5 449.2,435.8 448.5,436 447.8,436.7 447,437.1 446.2,437.6 445.5,435.6 444.8,435.5 444,434.3 443.2,434 442.5,434.2 441.8,432.8 441,433.2 440.2,432 439.5,432.4 438.8,435.2 438,437 437.2,437.8 436.5,440.7 435.8,441.5 435,443.7 434.2,446.1 433.5,447.6 432.8,449.3 432,451 431.2,451.9 430.5,450.2 429.8,451.9 429,450.9 428.2,449.6 427.5,450.8 426.8,451.3 426,453 425.2,449.8 424.5,453 423.8,451.1 423,449.1 422.2,445.5 421.5,441.3 420.8,441.9 420,442.3 419.2,442.4 418.5,439.8 417.8,440.4 417,439.7 416.2,437.7 415.5,438.1 414.8,438.7 414,438.3 413.2,435.6 412.5,435.6 411.8,437.7 411,435.3 410.2,435.2 409.5,434.1 408.8,432.2 408,434 407.2,437.1 406.5,439.3 405.8,440.6 405,441.1 404.2,441.3 403.5,441.8 402.8,443.8 402,443.3 401.2,442.7 400.5,443.5 399.8,442.6 399,442.4 398.2,440.2 397.5,437.5 396.8,435.4 396,434.1 395.2,434.2 394.5,433 393.8,433.7 393,434.2 392.2,436.5 391.5,441 390.8,434.2 390,437.5 389.2,435.3 388.5,432.2 387.8,427.7 387,421.9 386.2,423.6 385.5,424 384.8,425.3 384,427.3 383.2,428.2 382.5,427.6 381.8,427.8 381,426.5 380.2,428 379.5,429.2 378.8,428.9 378,429.7 377.2,438.1 376.5,439 375.8,433.2 375,428.5 374.2,426.1 373.5,426.7 372.8,424.2 372,417.7 371.2,407.4 370.5,415.1 369.8,424.2 369,428.2 368.2,433.5 367.5,437.5 366.8,440.8 366,442.5 365.2,439.6 364.5,437.9 363.8,433.2 363,433.4 362.2,436.5 361.5,441.5 360.8,441.4 360,438.9 359.2,442.6 358.5,439.3 357.8,437.8 357,440.8 356.2,442.5 355.5,444.2 354.8,445.5 354,446.7 353.2,445.9 352.5,447.3 351.8,447.7 351,445.5 350.2,442.4 349.5,441.6 348.8,442.1 348,444.3 347.2,445 346.5,445.8 345.8,447.2 345,447.9 344.2,449.2 343.5,451.3 342.8,452.4 342,454.4 341.2,457.3 340.5,457.6 339.8,458.7 339,461 338.2,463.5 337.5,466.2 336.8,466.2 336,469.5 335.2,471.3 334.5,472.2 333.8,471.4 333,468.2 332.2,470.7 331.5,472.2 330.8,474.9 330,475.1 329.2,475.1 328.5,473.6 327.8,476 327,476.4 326.2,476.3 325.5,477 324.8,477.1 324,479.5 323.2,480.8 322.5,481.5 321.8,481.6 321,481.1 320.2,479.2 319.5,479.6 318.8,479.1 318,478.7 317.2,480.9 316.5,479.7 315.8,479.1 315,478.5 314.2,478.8 313.5,478.7 312.8,479.4 312,480.1 311.2,481.5 310.5,482.6 309.8,482.7 309,483.3 308.2,484.7 307.5,485.8 306.8,485.4 306,485.1 305.2,485.7 304.5,486.1 303.8,484.3 303,485.2 302.2,488.7 301.5,488.9 300.8,489.5 300,492 299.2,495.6 298.5,499.3 297.8,502.2 297,502.8 296.2,503.3 295.5,504.5 294.8,504.6 294,506 293.2,505.9 292.5,505.4 291.8,504.9 291,505.9 290.2,506.7 289.5,505.9 288.8,506.9 288,508 287.2,508.7 286.5,507.5 285.8,508 285,509.1 284.2,511.8 283.5,515 282.8,516.5 282,516.6 281.2,519.1 280.5,521.8 279.8,523.3 279,523.2 278.2,522 277.5,522.4 276.8,522.3 276,522 275.2,523.1 274.5,525.8 273.8,527.6 273,529.2 272.2,529 271.5,524.7 270.8,525.2 270,524.9 269.2,520.7 268.5,520.3 267.8,517.1 267,516.7 266.2,513.7 265.5,513.3 264.8,510.8 264,507.6 263.2,506.6 262.5,501.3 261.8,497.5 261,496.8 260.2,494.7 259.5,492.7 258.8,492.1 258,492.9 257.2,491.7 256.5,489.8 255.8,490.9 255,489.4 254.2,487.8 253.5,489.3 252.8,488.7 252,487.4 251.2,489.3 250.5,487.4 249.8,487.3 249,488.7 248.2,488.5 247.5,488.5 246.8,487.3 246,486.7 245.2,487.7 244.5,484.4 243.8,483.9 243,482.2 242.2,487 241.5,495.2 240.8,500.4 240,500.7 239.2,499.8 238.5,500.1 237.8,497.3 237,497.4 236.2,498.2 235.5,496 234.8,495.3 234,496.7 233.2,492.5 232.5,496.3 231.8,494 231,495.4 230.2,495.2 229.5,494.2 228.8,494.8 228,494.9 227.2,492.8 226.5,490.2 225.8,488.3 225,487.7 224.2,486.7 223.5,485.7 222.8,483.2 222,484.3 221.2,483 220.5,481 219.8,481.8 219,482 218.2,480.7 217.5,480.1 216.8,471.7 216,471.9 215.2,471.2 214.5,472.5 213.8,470.6 213,471 212.2,470.7 211.5,471 210.8,469.3 210,469.7 209.2,471.3 208.5,470.9 207.8,470.7 207,468.6 206.2,470.3 205.5,469.2 204.8,467.7 204,467.4 203.2,466.3 202.5,465.1 201.8,467.7 201,468.9 200.2,468.9 199.5,469.9 198.8,469.7 198,467.1 197.2,468.8 196.5,471.1 195.8,469.8 195,469.7 194.2,471.1 193.5,471 192.8,470.8 192,468.9 191.2,467.2 190.5,465.7 189.8,460 189,460.9 188.2,462.3 187.5,463.9 186.8,464.2 186,466.5 185.2,467.3 184.5,466 183.8,465 183,461.6 182.2,465.2 181.5,466.5 180.8,468.6 180,470.9 179.2,473.4 178.5,471.3 177.8,474.1 177,473.5 176.2,475.6 175.5,472 174.8,475.4 174,473.5 173.2,475.7 172.5,475.2 171.8,474.7 171,474.8 170.2,475.7 169.5,476.7 168.8,476.3 168,478.2 167.2,478.9 166.5,479.4 165.8,479.7 165,480.2 164.2,480.9 163.5,482 162.8,482.9 162,482.3 161.2,482.5 160.5,484.4 159.8,485.6 159,485.8 158.2,486 157.5,487.6 156.8,487.7 156,489.4 155.2,485.6 154.5,483 153.8,480.2 153,479.1 152.2,479 151.5,476.8 150.8,478.6 150,477.2 149.2,478.5 148.5,477.8 147.8,477.4 147,478.1 146.2,478.5 145.5,478.9 144.8,479.1 144,478.1 143.2,480.6 142.5,479.6 141.8,480 141,480.5"/>
<polygon fill="#bfeacb" points="141,480.5 141.8,480 142.5,479.6 143.2,480.6 144,478.1 144.8,479.1 145.5,478.9 146.2,478.5 147,478.1 147.8,477.4 148.5,477.8 149.2,478.5 150,477.2 150.8,478.6 151.5,476.8 152.2,479 153,479.1 153.8,480.2 154.5,483 155.2,485.6 156,489.4 156.8,487.7 157.5,487.6 158.2,486 159,485.8 159.8,485.6 160.5,484.4 161.2,482.5 162,482.3 162.8,482.9 163.5,482 164.2,480.9 165,480.2 165.8,479.7 166.5,479.4 167.2,478.9 168,478.2 168.8,476.3 169.5,476.7 170.2,475.7 171,474.8 171.8,474.7 172.5,475.2 173.2,475.7 174,473.5 174.8,475.4 175.5,472 176.2,475.6 177,473.5 177.8,474.1 178.5,471.3 179.2,473.4 180,470.9 180.8,468.6 181.5,466.5 182.2,465.2 183,461.6 183.8,465 184.5,466 185.2,467.3 186,466.5 186.8,464.2 187.5,463.9 188.2,462.3 189,460.9 189.8,460 190.5,465.7 191.2,467.2 192,468.9 192.8,470.8 193.5,471 194.2,471.1 195,469.7 195.8,469.8 196.5,471.1 197.2,468.8 198,467.1 198.8,469.7 199.5,469.9 200.2,468.9 201,468.9 201.8,467.7 202.5,465.1 203.2,466.3 204,467.4 204.8,467.7 205.5,469.2 206.2,470.3 207,468.6 207.8,470.7 208.5,470.9 209.2,471.3 210,469.7 210.8,469.3 211.5,471 212.2,470.7 213,471 213.8,470.6 214.5,472.5 215.2,471.2 216,471.9 216.8,471.7 217.5,480.1 218.2,480.7 219,482 219.8,481.8 220.5,481 221.2,483 222,484.3 222.8,483.2 223.5,485.7 224.2,486.7 225,487.7 225.8,488.3 226.5,490.2 227.2,492.8 228,494.9 228.8,494.8 229.5,494.2 230.2,495.2 231,495.4 231.8,494 232.5,496.3 233.2,492.5 234,496.7 234.8,495.3 235.5,496 236.2,498.2 237,497.4 237.8,497.3 238.5,500.1 239.2,499.8 240,500.7 240.8,500.4 241.5,495.2 242.2,487 243,482.2 243.8,483.9 244.5,484.4 245.2,487.7 246,486.7 246.8,487.3 247.5,488.5 248.2,488.5 249,488.7 249.8,487.3 250.5,487.4 251.2,489.3 252,487.4 252.8,488.7 253.5,489.3 254.2,487.8 255,489.4 255.8,490.9 256.5,489.8 257.2,491.7 258,492.9 258.8,492.1 259.5,492.7 260.2,494.7 261,496.8 261.8,497.5 262.5,501.3 263.2,506.6 264,507.6 264.8,510.8 265.5,513.3 266.2,513.7 267,516.7 267.8,517.1 268.5,520.3 269.2,520.7 270,524.9 270.8,525.2 271.5,524.7 272.2,529 273,529.2 273.8,527.6 274.5,525.8 275.2,523.1 276,522 276.8,522.3 277.5,522.4 278.2,522 279,523.2 279.8,523.3 280.5,521.8 281.2,519.1 282,516.6 282.8,516.5 283.5,515 284.2,511.8 285,509.1 285.8,508 286.5,507.5 287.2,508.7 288,508 288.8,506.9 289.5,505.9 290.2,506.7 291,505.9 291.8,504.9 292.5,505.4 293.2,505.9 294,506 294.8,504.6 295.5,504.5 296.2,503.3 297,502.8 297.8,502.2 298.5,499.3 299.2,495.6 300,492 300.8,489.5 301.5,488.9 302.2,488.7 303,485.2 303.8,484.3 304.5,486.1 305.2,485.7 306,485.1 306.8,485.4 307.5,485.8 308.2,484.7 309,483.3 309.8,482.7 310.5,482.6 311.2,481.5 312,480.1 312.8,479.4 313.5,478.7 314.2,478.8 315,478.5 315.8,479.1 316.5,479.7 317.2,480.9 318,478.7 318.8,479.1 319.5,479.6 320.2,479.2 321,481.1 321.8,481.6 322.5,481.5 323.2,480.8 324,479.5 324.8,477.1 325.5,477 326.2,476.3 327,476.4 327.8,476 328.5,473.6 329.2,475.1 330,475.1 330.8,474.9 331.5,472.2 332.2,470.7 333,468.2 333.8,471.4 334.5,472.2 335.2,471.3 336,469.5 336.8,466.2 337.5,466.2 338.2,463.5 339,461 339.8,458.7 340.5,457.6 341.2,457.3 342,454.4 342.8,452.4 343.5,451.3 344.2,449.2 345,447.9 345.8,447.2 346.5,445.8 347.2,445 348,444.3 348.8,442.1 349.5,441.6 350.2,442.4 351,445.5 351.8,447.7 352.5,447.3 353.2,445.9 354,446.7 354.8,445.5 355.5,444.2 356.2,442.5 357,440.8 357.8,437.8 358.5,439.3 359.2,442.6 360,438.9 360.8,441.4 361.5,441.5 362.2,436.5 363,433.4 363.8,433.2 364.5,437.9 365.2,439.6 366,442.5 366.8,440.8 367.5,437.5 368.2,433.5 369,428.2 369.8,424.2 370.5,415.1 371.2,407.4 372,417.7 372.8,424.2 373.5,426.7 374.2,426.1 375,428.5 375.8,433.2 376.5,439 377.2,438.1 378,429.7 378.8,428.9 379.5,429.2 380.2,428 381,426.5 381.8,427.8 382.5,427.6 383.2,428.2 384,427.3 384.8,425.3 385.5,424 386.2,423.6 387,421.9 387.8,427.7 388.5,432.2 389.2,435.3 390,437.5 390.8,434.2 391.5,441 392.2,436.5 393,434.2 393.8,433.7 394.5,433 395.2,434.2 396,434.1 396.8,435.4 397.5,437.5 398.2,440.2 399,442.4 399.8,442.6 400.5,443.5 401.2,442.7 402,443.3 402.8,443.8 403.5,441.8 404.2,441.3 405,441.1 405.8,440.6 406.5,439.3 407.2,437.1 408,434 408.8,432.2 409.5,434.1 410.2,435.2 411,435.3 411.8,437.7 412.5,435.6 413.2,435.6 414,438.3 414.8,438.7 415.5,438.1 416.2,437.7 417,439.7 417.8,440.4 418.5,439.8 419.2,442.4 420,442.3 420.8,441.9 421.5,441.3 422.2,445.5 423,449.1 423.8,451.1 424.5,453 425.2,449.8 426,453 426.8,451.3 427.5,450.8 428.2,449.6 429,450.9 429.8,451.9 430.5,450.2 431.2,451.9 432,451 432.8,449.3 433.5,447.6 434.2,446.1 435,443.7 435.8,441.5 436.5,440.7 437.2,437.8 438,437 438.8,435.2 439.5,432.4 440.2,432 441,433.2 441.8,432.8 442.5,434.2 443.2,434 444,434.3 444.8,435.5 445.5,435.6 446.2,437.6 447,437.1 447.8,436.7 448.5,436 449.2,435.8 450,434.5 450.8,431.5 451.5,429.5 452.2,428.7 453,428.8 453.8,428.4 454.5,425.5 455.2,424.6 456,423.8 456.8,423.4 457.5,424.9 458.2,424.7 459,426.2 459.8,426.5 460.5,427.3 461.2,426.8 462,427.4 462.8,427.5 463.5,427.8 464.2,427.1 465,428.8 465.8,427.1 466.5,427.7 467.2,427.4 468,428.4 468.8,427.9 469.5,427.6 470.2,427.4 471,427.1 471.8,429.7 472.5,430.4 473.2,429.7 474,429.1 474.8,432.5 475.5,432.3 476.2,431.8 477,434.8 477.8,433.4 478.5,435.4 479.2,439.4 480,439 480.8,442.8 481.5,444.8 482.2,444.6 483,445.9 483.8,446 484.5,447.2 485.2,450.8 486,452.6 486.8,451 487.5,451.1 488.2,448.6 489,446.1 489.8,446.3 490.5,445 491.2,442.1 492,445.5 492.8,443.5 493.5,438.6 494.2,442.5 495,440.2 495.8,441.2 496.5,439.5 497.2,436.8 498,437.5 498.8,436.7 499.5,434.3 500.2,433 501,434.5 501.8,435.5 502.5,437.5 503.2,438.2 504,435.7 504.8,433.4 505.5,432.4 506.2,432.5 507,433.1 507.8,432 508.5,433.5 509.2,431.5 510,431.7 510.8,432.7 511.5,431.4 512.2,432.7 513,432.9 513.8,431.4 514.5,432.4 515.2,432.9 516,433.3 516.8,433.4 517.5,432.1 518.2,432 519,432.5 519.8,431.7 520.5,431.2 521.2,430.1 522,431.7 522.8,429.9 523.5,428.9 524.2,431.8 525,431.8 525.8,432.8 526.5,432.9 527.2,432.3 528,431.5 528.8,431.7 529.5,430.9 530.2,430.6 531,430.8 531.8,428.6 532.5,427.4 533.2,427.1 534,423.7 534.8,424.8 535.5,424.8 536.2,424.7 537,423.6 537.8,424.1 538.5,421.5 539.2,420.4 540,420.7 540.8,420.3 541.5,421.5 542.2,420.6 543,419 543.8,418.1 544.5,418.6 545.2,417 546,418.1 546.8,416.8 547.5,416.2 548.2,415.8 549,415.5 549.8,416.2 550.5,415.1 551.2,416.8 552,418.8 552.8,416.6 553.5,418.7 554.2,418.6 555,417.8 555.8,420.4 556.5,420.9 557.2,419.5 558,420.3 558.8,420.8 559.5,420.5 560.2,421.2 561,421.4 561.8,422.5 562.5,424.3 563.2,422.1 564,423.8 564.8,423.8 565.5,424.5 566.2,424.6 567,422 567.8,424.7 568.5,426.6 569.2,425.6 570,425.3 570.8,425.1 571.5,426.1 572.2,428.2 573,422.9 573.8,427.1 574.5,427.7 575.2,422.3 576,423.6 576.8,422.3 577.5,423.3 578.2,422.7 579,424.5 579.8,423.5 580.5,423.7 581.2,424.7 582,424.6 582.8,423.5 583.5,424.2 584.2,423.4 585,424.7 585.8,423 586.5,423 587.2,425.2 588,425.6 588.8,427 589.5,426.4 590.2,425.1 591,426 591.8,426.2 592.5,425.9 593.2,426.1 594,425.5 594.8,426.7 595.5,426 596.2,425.6 597,426.2 597.8,424 598.5,428.1 599.2,426.2 600,425 600.8,426.7 601.5,426.6 602.2,425.3 603,424.2 603.8,426 604.5,424.5 605.2,423.8 606,425.6 606.8,426.9 607.5,426.4 608.2,426.4 609,427.5 609.8,426.7 610.5,426.7 611.2,424.2 612,422.8 612.8,423 613.5,424.4 614.2,425.1 615,426.3 615.8,426.8 616.5,427.1 617.2,425.7 618,425.4 618.8,424.5 619.5,426.3 620.2,425.7 621,425.3 621.8,423.9 622.5,426.9 623.2,427.5 624,428.4 624.8,428.5 625.5,427.1 626.2,428.4 627,428.2 627.8,430.4 628.5,432.1 629.2,432.8 630,431.1 630.8,430.6 631.5,427.5 632.2,425.4 633,427.7 633.8,427.9 634.5,428.5 635.2,433.8 636,436.3 636.8,439 637.5,439.5 638.2,440.1 639,441.8 639.8,437.9 640.5,439.8 641.2,441.3 642,442 642.8,440.9 643.5,439 644.2,440.5 645,441.3 645.8,440 646.5,439.6 647.2,439.8 648,441.4 648.8,442.2 649.5,440.3 650.2,439.7 651,439.7 651.8,439.7 652.5,440.3 653.2,440.4 654,441.9 654.8,441.2 655.5,442.7 656.2,441.2 657,440.1 657.8,438.2 658.5,434.8 659.2,431.5 660,428.2 660.8,425.3 661.5,421 662.2,417.9 663,415.1 663.8,412 664.5,414 665.2,415 666,415 666.8,410.6 667.5,412.7 668.2,413.7 669,413.2 669.8,416.8 670.5,412.3 671.2,413 672,412.2 672.8,412.5 673.5,411.9 674.2,412 675,411.7 675.8,411.7 676.5,412.1 677.2,412.2 678,413.4 678.8,413.5 679.5,415 680.2,416.2 681,415.3 681.8,417.3 682.5,420 683.2,424.9 684,422 684.8,422.1 685.5,422.6 686.2,424.5 687,424.5 687.8,421.1 688.5,421 689.2,423.6 690,425.2 690.8,425.1 691.5,424.2 692.2,425.3 693,424.1 693.8,427.3 694.5,423.9 695.2,425.3 696,424.7 696.8,423.7 697.5,423.4 698.2,422.5 699,423.7 699.8,422.5 700.5,424.2 701.2,422.5 702,424.3 702.8,424.1 703.5,423.5 704.2,424.5 705,422.8 705.8,421.7 706.5,421 707.2,417.9 708,416.8 708.8,415.3 709.5,414.7 710.2,416.1 711,416.5 711.8,415.4 712.5,415.7 713.2,416.9 714,418.1 714.8,416.9 715.5,416.5 716.2,415.9 717,417.1 717.8,415.3 718.5,416.2 719.2,416.3 720,413.8 720.8,412.7 721.5,411.6 722.2,412.7 723,414.3 723.8,412.4 724.5,413.6 725.2,410.8 726,412.2 726.8,411.4 727.5,412.1 728.2,411.4 729,415.3 729.8,411.5 730.5,410.3 731.2,407.8 732,406.7 732.8,406.4 733.5,406.5 734.2,405.3 735,405.3 735.8,405.7 736.5,405 737.2,408.2 738,408.8 738.8,408.2 739.5,409.6 740.2,409.9 741,408.7 741.8,408.9 742.5,410.2 743.2,409.4 744,408.1 744.8,407.1 745.5,408.8 746.2,410.7 747,411.7 747.8,409.9 748.5,410.4 749.2,408.5 750,408.9 750.8,409.7 751.5,408.1 752.2,409.8 753,410.7 753.8,411.6 754.5,412.6 755.2,413.2 756,414.7 756.8,415.2 757.5,415.9 758.2,418.3 759,417.3 759.8,417.5 760.5,416.4 761.2,414.8 762,412.2 762.8,415 763.5,410.8 764.2,411.6 765,409.9 765.8,408.9 766.5,409.2 767.2,407.9 768,407 768.8,406.9 769.5,404.9 770.2,404.5 771,406.5 771.8,405.2 772.5,405.7 773.2,407.4 774,406.9 774.8,404.9 775.5,403.8 776.2,403.8 777,405.1 777.8,403 778.5,404.6 779.2,403.9 780,403.8 780.8,404.2 781.5,405.1 782.2,400.3 783,405.2 783.8,405.2 784.5,404.9 785.2,405.2 786,407.4 786.8,408.4 787.5,408.5 788.2,407.2 789,407.4 789.8,409.4 790.5,410.3 791.2,411.3 792,411.5 792.8,412.2 793.5,410.7 794.2,411.3 795,412.9 795.8,413.4 796.5,413.2 797.2,415.3 798,418.7 798.8,415.7 799.5,415.8 800.2,416.4 801,415 801.8,415 802.5,414.4 803.2,414.4 804,413.7 804.8,414.5 805.5,414.2 806.2,416.3 807,417.8 807.8,417.3 808.5,418.1 809.2,417.3 810,416.3 810.8,417.4 811.5,419 812.2,414.2 813,413.2 813.8,411.3 814.5,414.4 815.2,415.1 816,415.1 816.8,415.3 817.5,418.3 818.2,422.8 819,425.3 819.8,426 820.5,425.2 821.2,427.5 822,427.7 822.8,427.7 823.5,427 824.2,428.4 825,428.8 825.8,428.6 826.5,428.7 827.2,427.9 828,428.7 828.8,429 829.5,427.1 830.2,427.3 831,426.4 831.8,426.6 832.5,426 833.2,425 834,426 834.8,424.6 835.5,427.3 836.2,423.8 837,423.4 837.8,423.5 838.5,422.1 839.2,425 840,426.7 840.8,428.2 841.5,429.1 842.2,429.9 843,429.9 843.8,427.5 844.5,427 845.2,427.4 846,428.5 846.8,426.1 847.5,427 848.2,427.7 849,428.4 849.8,428.9 850.5,428.5 851.2,428.7 852,426.7 852.8,425.8 853.5,427.5 854.2,427.9 855,425.8 855.8,428.1 856.5,428 857.2,431 858,427.9 858.8,428 859.5,428.9 860.2,431.9 861,434.1 861.8,436.6 862.5,436.6 863.2,435.1 864,439.4 864.8,440.1 865.5,441.9 866.2,443.8 867,443.1 867.8,443.6 868.5,443.2 869.2,444.6 870,445.7 870.8,445.3 871.5,441.4 872.2,444.6 873,443.4 873.8,444 874.5,444.4 875.2,444.2 876,444.9 876.8,445.3 877.5,446 878.2,445.3 879,447 879.8,448.4 880.5,448 881.2,450 882,448.8 882.8,449.8 883.5,453.2 884.2,455.2 885,453.1 885.8,450.4 886.5,450.3 887.2,448.5 888,449.2 888.8,448 889.5,448.9 890.2,451.4 891,448.6 891.8,449.3 892.5,450.7 893.2,450.6 894,451.3 894.8,450.2 895.5,450.6 896.2,451.7 897,451.8 897.8,452.5 898.5,450.9 899.2,451.4 900,448.3 900.8,449.1 901.5,451.7 902.2,450.2 903,449.4 903.8,450.4 904.5,452.3 905.2,449.7 906,450.2 906.8,450.5 907.5,450.1 908.2,449 909,449.4 909.8,450.9 910.5,450.3 911.2,448.9 912,449.7 912.8,449 913.5,448.5 914.2,448.3 915,451.2 915.8,450.7 916.5,449.8 917.2,450.6 918,450.7 918.8,450.4 919.5,448.9 920.2,450.9 921,452.8 921.8,454 922.5,452.7 923.2,451.9 924,453.9 924.8,454.7 925.5,454.9 926.2,453.3 927,454.2 927.8,452.6 928.5,452.4 929.2,452.6 930,454.9 930.8,457 931.5,459.4 932.2,459.8 933,461.3 933.8,462.7 934.5,465.1 935.2,466.2 936,468 936.8,468.2 937.5,466.4 938.2,465.8 939,465.4 939.8,464.3 940.5,466.1 941.2,464.5 942,465.7 942.8,465.2 943.5,465.4 944.2,466.8 945,467.7 945.8,466.7 946.5,465.3 947.2,466.5 948,466.8 948.8,466.1 949.5,462.9 950.2,460.2 951,459.7 951.8,457.6 952.5,461.7 953.2,458.1 954,456.7 954.8,458.7 955.5,457.1 956.2,456.4 957,456.8 957.8,456.7 958.5,457.7 959.2,457.1 960,458.5 960.8,457.6 961.5,459.3 962.2,459 963,459.3 963.8,458.3 964.5,458.1 965.2,458.8 966,459.3 966.8,459.4 967.5,459.2 968.2,458.9 969,459.1 969.8,458.2 970.5,461.5 971.2,459.5 972,458 972.8,459.5 973.5,457.7 974.2,457.5 975,459.6 975.8,458 976.5,460.7 977.2,460.9 978,458.9 978.8,457.4 979.5,459 980.2,457.4 981,458.4 981.8,456.7 982.5,456.7 983.2,457.4 984,458.6 984.8,456.9 985.5,457.5 986.2,457.5 987,457.1 987.8,456.7 988.5,458.5 989.2,457.4 990,457.6 990.8,456.9 991.5,456.4 992.2,455.6 993,455.4 993.8,455.9 994.5,457.9 995.2,458 996,458 996.8,459.8 997.5,460.1 998.2,458.6 999,459 999.8,459.9 1000.5,460.4 1001.2,459.1 1002,459.9 1002.8,459.7 1003.5,458.5 1004.2,457.7 1005,457.4 1005.8,456.8 1006.5,456.7 1007.2,455.9 1008,457.7 1008.8,458.7 1009.5,458.3 1010.2,458.6 1011,457 1011.8,461.5 1012.5,457.9 1013.2,457.9 1014,459.7 1014.8,459.5 1015.5,458.9 1016.2,460.1 1017,460.4 1017.8,460.8 1018.5,459 1019.2,457.5 1020,459.2 1020.8,460.1 1021.5,459.6 1022.2,459.6 1023,462.3 1023.8,464.1 1024.5,466.5 1025.2,468.8 1026,470.2 1026.8,470.6 1027.5,470.6 1028.2,467.8 1029,467.8 1029.8,468.1 1030.5,466.4 1031.2,465.6 1032,466.6 1032.8,465.8 1033.5,465.7 1034.2,465.9 1035,468.3 1035.8,464.7 1036.5,465.3 1037.2,463.8 1038,462.6 1038.8,461.7 1039.5,459.5 1040.2,460.9 1041,462.4 1041.8,463.2 1042.5,464.1 1043.2,464.9 1044,464.6 1044.8,463.6 1045.5,465.2 1046.2,462.5 1047,463.7 1047.8,463.7 1048.5,464.4 1049.2,465.6 1050,464.4 1050.8,463.3 1051.5,464.5 1052.2,464.6 1053,463.4 1053.8,463.4 1054.5,466.1 1055.2,465.1 1056,469.2 1056.8,471 1057.5,474 1058.2,472.5 1059,468.9 1059.8,464.7 1060.5,463.4 1061.2,464.7 1062,464.1 1062.8,463.7 1063.5,462.4 1064.2,461.7 1065,463.4 1065.8,462.3 1066.5,462.7 1067.2,462.4 1068,459.4 1068.8,459 1069.5,459.1 1070.2,458.4 1071,456.5 1071.8,456.6 1072.5,455.7 1073.2,455.2 1074,456.7 1074.8,452.7 1075.5,454.4 1076.2,454.8 1077,453.4 1077.8,453.8 1078.5,455.5 1079.2,456.6 1080,458.7 1080.8,461.2 1081.5,461.1 1082.2,461.7 1083,463.1 1083.8,461.8 1084.5,461.7 1085.2,460.8 1086,459.3 1086.8,459.8 1087.5,459.4 1088.2,458.5 1089,459.8 1089.8,460.5 1090.5,459.3 1091.2,459.3 1092,459.3 1092,493.9 1091.2,493.7 1090.5,493.4 1089.8,491 1089,491 1088.2,491.2 1087.5,492 1086.8,491.5 1086,492.5 1085.2,494.6 1084.5,495.7 1083.8,498 1083,499.4 1082.2,495.6 1081.5,495.7 1080.8,494.5 1080,494.1 1079.2,491.4 1078.5,487.6 1077.8,487.6 1077,485.9 1076.2,486.3 1075.5,488.1 1074.8,489.8 1074,489.3 1073.2,488.9 1072.5,489.5 1071.8,491.5 1071,492.9 1070.2,492.8 1069.5,493.3 1068.8,496.1 1068,495.8 1067.2,496.7 1066.5,496.7 1065.8,498.7 1065,499.5 1064.2,497.5 1063.5,498 1062.8,502.7 1062,500 1061.2,499.8 1060.5,502.6 1059.8,507.3 1059,510.5 1058.2,509.4 1057.5,508.9 1056.8,504.4 1056,503.2 1055.2,502.6 1054.5,504.6 1053.8,503.9 1053,502.2 1052.2,502.2 1051.5,503 1050.8,503.2 1050,503.5 1049.2,500 1048.5,502.1 1047.8,501.5 1047,500.2 1046.2,502 1045.5,500 1044.8,501.1 1044,499.6 1043.2,499.7 1042.5,500.2 1041.8,499.7 1041,499.5 1040.2,502.5 1039.5,501.8 1038.8,503.7 1038,503.7 1037.2,504.9 1036.5,505.2 1035.8,505 1035,507.8 1034.2,508.2 1033.5,508.5 1032.8,511.2 1032,507.8 1031.2,508.7 1030.5,511.1 1029.8,511.1 1029,511 1028.2,509.6 1027.5,510 1026.8,510.8 1026,511.4 1025.2,512.3 1024.5,509.3 1023.8,510.3 1023,508.8 1022.2,507.9 1021.5,508.6 1020.8,509.2 1020,508.3 1019.2,509.7 1018.5,509.4 1017.8,509.3 1017,509.6 1016.2,507.6 1015.5,508.5 1014.8,506.9 1014,506.3 1013.2,506.9 1012.5,507.5 1011.8,507.3 1011,507.2 1010.2,506.4 1009.5,507.3 1008.8,508.1 1008,509.6 1007.2,508.2 1006.5,508.2 1005.8,508.7 1005,509.6 1004.2,509 1003.5,507.9 1002.8,507.1 1002,508 1001.2,509.8 1000.5,509.3 999.8,509.4 999,509 998.2,507.6 997.5,509.2 996.8,507 996,504.8 995.2,509.1 994.5,509 993.8,509.9 993,509.5 992.2,509.1 991.5,507.2 990.8,508.8 990,507.1 989.2,508.3 988.5,507.9 987.8,506.8 987,507 986.2,506.9 985.5,506.9 984.8,506.6 984,507.4 983.2,507.5 982.5,506.3 981.8,505.7 981,506.7 980.2,504.7 979.5,506.1 978.8,507.3 978,507.5 977.2,508.7 976.5,508.3 975.8,508.1 975,508.2 974.2,510.1 973.5,509.7 972.8,508.8 972,508.4 971.2,507.9 970.5,506.4 969.8,505.7 969,507.1 968.2,506.2 967.5,505.8 966.8,505.8 966,505.6 965.2,503.7 964.5,505.2 963.8,504.8 963,502.5 962.2,502.1 961.5,502.9 960.8,502.1 960,502.1 959.2,501.8 958.5,501.9 957.8,501.8 957,502.3 956.2,501.3 955.5,502.5 954.8,502.7 954,502.4 953.2,500.9 952.5,500.4 951.8,501.8 951,502.1 950.2,503.6 949.5,506.4 948.8,507.2 948,510.9 947.2,512.3 946.5,510.7 945.8,509.6 945,509.3 944.2,510.1 943.5,509.9 942.8,512 942,511.3 941.2,514.8 940.5,512.2 939.8,512.7 939,512.3 938.2,513.3 937.5,513.6 936.8,512.9 936,513.8 935.2,515 934.5,513.1 933.8,510.3 933,510.7 932.2,510.1 931.5,507 930.8,506 930,506.1 929.2,507.4 928.5,505.7 927.8,505.9 927,504.2 926.2,503.8 925.5,505.9 924.8,505.6 924,503.5 923.2,502.3 922.5,502.1 921.8,499.5 921,499.5 920.2,499.7 919.5,498.8 918.8,499 918,499.3 917.2,499.5 916.5,497.2 915.8,499.8 915,500.4 914.2,501.8 913.5,501 912.8,500.2 912,501 911.2,501.5 910.5,500 909.8,500.9 909,500.2 908.2,500.8 907.5,505.4 906.8,500.4 906,500.4 905.2,502.6 904.5,500.7 903.8,501.5 903,503.4 902.2,502.5 901.5,503.9 900.8,502.5 900,502.3 899.2,500.7 898.5,500.6 897.8,500 897,499.4 896.2,496.8 895.5,496.7 894.8,496 894,497.1 893.2,498.1 892.5,497.1 891.8,495.4 891,496 890.2,496.3 889.5,494.5 888.8,493.7 888,495.1 887.2,494 886.5,496.2 885.8,496 885,497.2 884.2,499.3 883.5,496.3 882.8,496 882,496.2 881.2,497.8 880.5,495.9 879.8,493.6 879,493.8 878.2,493.5 877.5,494.6 876.8,497 876,497.4 875.2,496.7 874.5,496.7 873.8,496.4 873,494.8 872.2,494.2 871.5,493.9 870.8,495.8 870,494.2 869.2,494 868.5,492.9 867.8,494.7 867,493.8 866.2,494 865.5,493.4 864.8,494 864,491.4 863.2,487.9 862.5,487.3 861.8,489.6 861,483.9 860.2,481.5 859.5,480.8 858.8,481.2 858,481.5 857.2,482.7 856.5,483 855.8,481.3 855,483.4 854.2,483.2 853.5,484.6 852.8,483.5 852,482.6 851.2,481.8 850.5,483.3 849.8,483.4 849,482.8 848.2,481.7 847.5,479.5 846.8,479.9 846,480.7 845.2,483 844.5,479.8 843.8,477.5 843,477.9 842.2,477 841.5,478.4 840.8,477.9 840,478.4 839.2,477.2 838.5,479.8 837.8,479.8 837,479.9 836.2,480.7 835.5,480.6 834.8,478.8 834,480.1 833.2,479.6 832.5,483.4 831.8,480.8 831,479.5 830.2,481.4 829.5,479.9 828.8,481.3 828,481 827.2,481.4 826.5,481.4 825.8,482.4 825,481.2 824.2,481.2 823.5,482.2 822.8,484.4 822,484.1 821.2,482.1 820.5,484.5 819.8,482.9 819,483.4 818.2,483.3 817.5,483.8 816.8,482.6 816,481.6 815.2,480.7 814.5,480.1 813.8,481 813,484 812.2,485.7 811.5,488.9 810.8,489.8 810,489.7 809.2,489.2 808.5,489.6 807.8,490.2 807,489.3 806.2,492.3 805.5,491.8 804.8,491 804,490.1 803.2,491.7 802.5,491 801.8,490.1 801,490 800.2,489.1 799.5,489.4 798.8,489.4 798,489.8 797.2,488.6 796.5,486.1 795.8,486.5 795,483.9 794.2,481.1 793.5,480.6 792.8,478.7 792,478.9 791.2,479.9 790.5,483 789.8,480.1 789,479.9 788.2,480.4 787.5,479 786.8,478.4 786,477.8 785.2,477.1 784.5,478.1 783.8,476.6 783,478.2 782.2,481 781.5,479.2 780.8,479.2 780,479.8 779.2,479.7 778.5,479.2 777.8,478.2 777,479.2 776.2,480.6 775.5,481.5 774.8,483.1 774,482.9 773.2,482.9 772.5,482.9 771.8,481.6 771,482.2 770.2,482.9 769.5,481.3 768.8,480 768,478.2 767.2,475.7 766.5,471.4 765.8,469.8 765,471 764.2,473.4 763.5,472.3 762.8,474.4 762,475.1 761.2,475.6 760.5,480.3 759.8,479.6 759,478 758.2,479.5 757.5,479.9 756.8,479.4 756,480.5 755.2,479.8 754.5,479.6 753.8,477.4 753,479.8 752.2,479.1 751.5,478.5 750.8,477.7 750,477.4 749.2,477.6 748.5,478.7 747.8,480 747,478.2 746.2,477.3 745.5,478.3 744.8,477.7 744,476.9 743.2,477.2 742.5,476.9 741.8,477.7 741,477.7 740.2,478.2 739.5,477.5 738.8,476.5 738,475.7 737.2,477.6 736.5,477.7 735.8,478.8 735,478.6 734.2,479.1 733.5,479.7 732.8,478.8 732,479.8 731.2,476.6 730.5,478.5 729.8,478.1 729,480.4 728.2,482.8 727.5,485.6 726.8,489 726,484.7 725.2,482.2 724.5,477.1 723.8,472.7 723,474.7 722.2,478.7 721.5,481.8 720.8,481.6 720,482 719.2,482.6 718.5,482.7 717.8,484.8 717,484.5 716.2,482.5 715.5,482.7 714.8,480.5 714,481.2 713.2,482.4 712.5,482.9 711.8,485.2 711,484.3 710.2,484.6 709.5,484.4 708.8,483 708,482.2 707.2,482.5 706.5,484.2 705.8,483 705,481.1 704.2,483 703.5,482.7 702.8,481.9 702,481.5 701.2,481.7 700.5,483.2 699.8,483.1 699,483.5 698.2,485.1 697.5,484.2 696.8,480.1 696,483 695.2,481.3 694.5,485.1 693.8,481.7 693,483.2 692.2,482.7 691.5,484 690.8,484 690,485.8 689.2,485.4 688.5,484.2 687.8,484.7 687,484.4 686.2,483.2 685.5,481.7 684.8,480.5 684,483.2 683.2,485 682.5,488.3 681.8,491.4 681,488.3 680.2,486.1 679.5,486.1 678.8,486 678,485.4 677.2,486.4 676.5,485.1 675.8,482.8 675,483.3 674.2,485.4 673.5,483.7 672.8,484 672,486.6 671.2,486 670.5,487.7 669.8,487.1 669,489.3 668.2,487.4 667.5,488 666.8,487.7 666,485.8 665.2,488.6 664.5,490.4 663.8,491.4 663,491.6 662.2,492.1 661.5,494.4 660.8,498.3 660,503 659.2,509.4 658.5,506.6 657.8,503.4 657,500.8 656.2,500.2 655.5,496.5 654.8,494.1 654,494.2 653.2,495.3 652.5,499.5 651.8,496.5 651,496.6 650.2,495.4 649.5,494.7 648.8,496.1 648,495.2 647.2,493.7 646.5,493.2 645.8,493.4 645,492 644.2,491.6 643.5,490.8 642.8,492.6 642,493 641.2,493.5 640.5,492.4 639.8,490.4 639,489.8 638.2,489.9 637.5,491.1 636.8,493.9 636,496.1 635.2,494.3 634.5,490 633.8,482.1 633,477.2 632.2,473 631.5,475.1 630.8,473.9 630,473.6 629.2,473.7 628.5,471.6 627.8,472 627,471.7 626.2,470.3 625.5,469.9 624.8,468.4 624,465.6 623.2,464 622.5,460.7 621.8,463.4 621,462.5 620.2,462.5 619.5,462.2 618.8,462.2 618,462.1 617.2,462.6 616.5,462.4 615.8,462.3 615,462.9 614.2,465.5 613.5,466 612.8,462.3 612,461.6 611.2,462.2 610.5,460.9 609.8,463.1 609,461.7 608.2,461.8 607.5,459.9 606.8,458.3 606,457.9 605.2,457.3 604.5,461 603.8,460.6 603,459.9 602.2,459.6 601.5,463 600.8,461.3 600,462.5 599.2,463.3 598.5,463.6 597.8,465 597,464.6 596.2,462.8 595.5,465 594.8,464 594,464.5 593.2,466.7 592.5,465.6 591.8,466.1 591,467.5 590.2,467.7 589.5,466.9 588.8,465.4 588,465.6 587.2,466.4 586.5,467.2 585.8,466.4 585,466.9 584.2,466 583.5,466.6 582.8,467.4 582,468.7 581.2,468.5 580.5,469.7 579.8,468.8 579,468.9 578.2,467 577.5,467.4 576.8,465.4 576,465.7 575.2,468.7 574.5,467.9 573.8,467.5 573,468.2 572.2,466.1 571.5,464.9 570.8,466 570,464.5 569.2,464.5 568.5,462.9 567.8,462.5 567,462 566.2,461 565.5,461.2 564.8,463.1 564,462 563.2,460.2 562.5,461.4 561.8,459.9 561,461.5 560.2,458.7 559.5,459.4 558.8,458.2 558,456 557.2,454.6 556.5,453.8 555.8,453.7 555,453.5 554.2,451.2 553.5,451.4 552.8,451.2 552,451.1 551.2,449.7 550.5,447.9 549.8,450.3 549,453 548.2,454 547.5,452.7 546.8,452.8 546,452.8 545.2,452.5 544.5,453.8 543.8,454.2 543,453.6 542.2,453.3 541.5,452.4 540.8,452.1 540,452.5 539.2,452.6 538.5,453.7 537.8,452.6 537,453.8 536.2,455.4 535.5,454.4 534.8,456.8 534,457 533.2,459 532.5,458.6 531.8,460.3 531,457.1 530.2,457.1 529.5,458.1 528.8,458.4 528,461.2 527.2,461.8 526.5,462.4 525.8,460.9 525,460 524.2,459.9 523.5,460.6 522.8,459.6 522,460.8 521.2,458.9 520.5,458.5 519.8,459.5 519,459.7 518.2,458.3 517.5,459 516.8,455.9 516,456.7 515.2,455.5 514.5,456 513.8,455.4 513,454.3 512.2,454.1 511.5,454.7 510.8,453.7 510,453.5 509.2,453.1 508.5,453.3 507.8,453.3 507,455.2 506.2,454 505.5,456.3 504.8,458 504,457.2 503.2,457.5 502.5,456.5 501.8,456.1 501,455.7 500.2,454.6 499.5,455.3 498.8,457.8 498,458.3 497.2,457.5 496.5,458.5 495.8,459.4 495,460.5 494.2,462.9 493.5,464.4 492.8,465 492,465.7 491.2,465.3 490.5,466.6 489.8,469.9 489,472.6 488.2,474.2 487.5,478 486.8,475.4 486,472.2 485.2,469.8 484.5,469.2 483.8,468.7 483,468.6 482.2,465.4 481.5,465 480.8,466.1 480,464.7 479.2,462.2 478.5,462.5 477.8,460.6 477,459.7 476.2,458.7 475.5,457.6 474.8,455 474,455.6 473.2,456.4 472.5,456.6 471.8,455 471,454.1 470.2,455.4 469.5,455.8 468.8,456 468,456.6 467.2,458 466.5,457.1 465.8,455.4 465,456.1 464.2,456.9 463.5,452.3 462.8,452.8 462,453 461.2,452.9 460.5,450.3 459.8,450.3 459,447.7 458.2,448 457.5,450 456.8,449.1 456,449.8 455.2,450.1 454.5,449.1 453.8,450.5 453,450.7 452.2,453.8 451.5,454 450.8,454.2 450,455 449.2,457.5 448.5,459.1 447.8,459.1 447,459.5 446.2,457.1 445.5,457.8 444.8,458 444,458.4 443.2,457.2 442.5,457.6 441.8,455.5 441,457.9 440.2,460.2 439.5,460.5 438.8,460.1 438,462.7 437.2,459.5 436.5,466.2 435.8,468 435,470.2 434.2,473.4 433.5,475.4 432.8,475.1 432,477.5 431.2,479 430.5,478.2 429.8,473.7 429,478.3 428.2,477.9 427.5,480.5 426.8,483.1 426,483.6 425.2,485.6 424.5,483.9 423.8,481.9 423,480.2 422.2,480.4 421.5,478.7 420.8,477.8 420,476.6 419.2,478 418.5,478.9 417.8,479.5 417,477.9 416.2,475.3 415.5,475.6 414.8,475 414,474.1 413.2,475.6 412.5,473.2 411.8,472.4 411,473.2 410.2,471.5 409.5,471.1 408.8,468.5 408,468.8 407.2,470.2 406.5,470.8 405.8,472.9 405,474.4 404.2,475.8 403.5,476.4 402.8,474.3 402,474.9 401.2,473.9 400.5,476.3 399.8,478.3 399,478.2 398.2,477.9 397.5,476.1 396.8,472.6 396,471.6 395.2,469.3 394.5,470.5 393.8,468.9 393,464.5 392.2,466.3 391.5,464.3 390.8,464.1 390,463.8 389.2,461.9 388.5,459.8 387.8,455.2 387,450.3 386.2,451.4 385.5,451.7 384.8,454.2 384,457.3 383.2,456.7 382.5,458.3 381.8,461.2 381,462.4 380.2,462.7 379.5,461.9 378.8,458.6 378,456.3 377.2,463.8 376.5,467.7 375.8,471.6 375,463.1 374.2,457.4 373.5,451.8 372.8,447.9 372,443.9 371.2,437.8 370.5,433.7 369.8,438.1 369,443.2 368.2,444.5 367.5,446.5 366.8,449.3 366,453.2 365.2,457.6 364.5,458.7 363.8,456.3 363,453.7 362.2,450.6 361.5,451.4 360.8,451.2 360,456.2 359.2,455.5 358.5,455.9 357.8,455.6 357,458.2 356.2,459.3 355.5,462.1 354.8,464.9 354,465.4 353.2,461.8 352.5,459.6 351.8,461.4 351,458.9 350.2,457.3 349.5,457 348.8,456 348,458.8 347.2,459.8 346.5,459.5 345.8,464.7 345,466.9 344.2,469.6 343.5,468.9 342.8,473 342,473.6 341.2,475 340.5,474 339.8,481.6 339,483.3 338.2,484.6 337.5,486 336.8,487.8 336,486.1 335.2,485.5 334.5,484.7 333.8,481.6 333,485.8 332.2,488.3 331.5,488.4 330.8,487.8 330,487.9 329.2,486.9 328.5,488.3 327.8,489.9 327,490.6 326.2,490.3 325.5,493.1 324.8,494.4 324,495.4 323.2,496.7 322.5,498 321.8,498 321,499.4 320.2,494.1 319.5,494.2 318.8,494 318,494.9 317.2,495.2 316.5,494.2 315.8,494.1 315,495.1 314.2,493.2 313.5,493.7 312.8,494.7 312,495.4 311.2,495.5 310.5,496.9 309.8,498.9 309,496.1 308.2,498.5 307.5,499.1 306.8,498.8 306,501.2 305.2,501.9 304.5,501.2 303.8,500.5 303,501.2 302.2,500.4 301.5,502.1 300.8,505.9 300,508.3 299.2,511 298.5,513.5 297.8,516.8 297,520.4 296.2,519.6 295.5,521 294.8,521.1 294,523.1 293.2,523.6 292.5,523.1 291.8,521.6 291,522.9 290.2,524.1 289.5,526.9 288.8,528.1 288,526.1 287.2,527.6 286.5,526.8 285.8,529 285,531.7 284.2,532.8 283.5,533.3 282.8,533.7 282,535.5 281.2,537.6 280.5,537.1 279.8,536.8 279,538.9 278.2,538.5 277.5,537 276.8,541 276,542.1 275.2,541.2 274.5,540.4 273.8,539.7 273,538.9 272.2,540.6 271.5,546.4 270.8,543.5 270,538 269.2,536.2 268.5,535 267.8,531.5 267,530.9 266.2,531.2 265.5,530 264.8,526.3 264,523.5 263.2,519.1 262.5,519.6 261.8,517.4 261,516.8 260.2,514.6 259.5,512.4 258.8,512.6 258,512.4 257.2,512.2 256.5,510.2 255.8,506.8 255,513.8 254.2,508.1 253.5,508.7 252.8,507.8 252,509.3 251.2,509.7 250.5,506.3 249.8,508.4 249,507.3 248.2,503.8 247.5,504.2 246.8,504.8 246,506.1 245.2,505.4 244.5,504 243.8,502.2 243,502.6 242.2,503.5 241.5,508.5 240.8,513.5 240,519.8 239.2,520.5 238.5,518.8 237.8,517.3 237,517.7 236.2,518.1 235.5,519.2 234.8,518.8 234,517.3 233.2,516.5 232.5,517.2 231.8,515.1 231,515.2 230.2,517.7 229.5,521.2 228.8,520.8 228,517.5 227.2,515.8 226.5,512.6 225.8,516.5 225,511.3 224.2,510.7 223.5,509.5 222.8,507.6 222,506.8 221.2,505.4 220.5,504.6 219.8,504 219,504.1 218.2,502.2 217.5,502.2 216.8,500.2 216,497 215.2,496.2 214.5,497.3 213.8,495 213,493.6 212.2,495.2 211.5,497.8 210.8,498.1 210,498.2 209.2,497.2 208.5,496 207.8,498 207,498.5 206.2,496.6 205.5,495.9 204.8,495.1 204,494.9 203.2,494.8 202.5,495.4 201.8,495 201,496.1 200.2,494.5 199.5,495 198.8,496.2 198,496.6 197.2,495.6 196.5,496.5 195.8,495.5 195,494.4 194.2,494.5 193.5,493.4 192.8,492.6 192,489.3 191.2,487.8 190.5,486.7 189.8,487.2 189,487.8 188.2,487.5 187.5,485.2 186.8,491.6 186,492.3 185.2,492.9 184.5,488.4 183.8,486.4 183,485.2 182.2,485.8 181.5,487.9 180.8,488.6 180,490 179.2,490.6 178.5,490.6 177.8,490.9 177,492 176.2,492.2 175.5,490.2 174.8,489 174,486.5 173.2,490 172.5,490.3 171.8,489.3 171,489.1 170.2,487.6 169.5,486.3 168.8,488 168,490.1 167.2,491 166.5,491.6 165.8,493.1 165,492.9 164.2,495 163.5,495.9 162.8,495.8 162,495 161.2,496.6 160.5,497.5 159.8,498.3 159,499.6 158.2,502.2 157.5,502.7 156.8,502.7 156,502.8 155.2,503.2 154.5,501.7 153.8,500.6 153,499.8 152.2,498.3 151.5,495.1 150.8,495.2 150,495.1 149.2,496.5 148.5,494.2 147.8,494.8 147,495.2 146.2,494.8 145.5,495.9 144.8,493 144,495.9 143.2,496.3 142.5,497.5 141.8,497.9 141,498.3"/>
<polygon fill="#efb4dc" points="141,498.3 141.8,497.9 142.5,497.5 143.2,496.3 144,495.9 144.8,493 145.5,495.9 146.2,494.8 147,495.2 147.8,494.8 148.5,494.2 149.2,496.5 150,495.1 150.8,495.2 151.5,495.1 152.2,498.3 153,499.8 153.8,500.6 154.5,501.7 155.2,503.2 156,502.8 156.8,502.7 157.5,502.7 158.2,502.2 159,499.6 159.8,498.3 160.5,497.5 161.2,496.6 162,495 162.8,495.8 163.5,495.9 164.2,495 165,492.9 165.8,493.1 166.5,491.6 167.2,491 168,490.1 168.8,488 169.5,486.3 170.2,487.6 171,489.1 171.8,489.3 172.5,490.3 173.2,490 174,486.5 174.8,489 175.5,490.2 176.2,492.2 177,492 177.8,490.9 178.5,490.6 179.2,490.6 180,490 180.8,488.6 181.5,487.9 182.2,485.8 183,485.2 183.8,486.4 184.5,488.4 185.2,492.9 186,492.3 186.8,491.6 187.5,485.2 188.2,487.5 189,487.8 189.8,487.2 190.5,486.7 191.2,487.8 192,489.3 192.8,492.6 193.5,493.4 194.2,494.5 195,494.4 195.8,495.5 196.5,496.5 197.2,495.6 198,496.6 198.8,496.2 199.5,495 200.2,494.5 201,496.1 201.8,495 202.5,495.4 203.2,494.8 204,494.9 204.8,495.1 205.5,495.9 206.2,496.6 207,498.5 207.8,498 208.5,496 209.2,497.2 210,498.2 210.8,498.1 211.5,497.8 212.2,495.2 213,493.6 213.8,495 214.5,497.3 215.2,496.2 216,497 216.8,500.2 217.5,502.2 218.2,502.2 219,504.1 219.8,504 220.5,504.6 221.2,505.4 222,506.8 222.8,507.6 223.5,509.5 224.2,510.7 225,511.3 225.8,516.5 226.5,512.6 227.2,515.8 228,517.5 228.8,520.8 229.5,521.2 230.2,517.7 231,515.2 231.8,515.1 232.5,517.2 233.2,516.5 234,517.3 234.8,518.8 235.5,519.2 236.2,518.1 237,517.7 237.8,517.3 238.5,518.8 239.2,520.5 240,519.8 240.8,513.5 241.5,508.5 242.2,503.5 243,502.6 243.8,502.2 244.5,504 245.2,505.4 246,506.1 246.8,504.8 247.5,504.2 248.2,503.8 249,507.3 249.8,508.4 250.5,506.3 251.2,509.7 252,509.3 252.8,507.8 253.5,508.7 254.2,508.1 255,513.8 255.8,506.8 256.5,510.2 257.2,512.2 258,512.4 258.8,512.6 259.5,512.4 260.2,514.6 261,516.8 261.8,517.4 262.5,519.6 263.2,519.1 264,523.5 264.8,526.3 265.5,530 266.2,531.2 267,530.9 267.8,531.5 268.5,535 269.2,536.2 270,538 270.8,543.5 271.5,546.4 272.2,540.6 273,538.9 273.8,539.7 274.5,540.4 275.2,541.2 276,542.1 276.8,541 277.5,537 278.2,538.5 279,538.9 279.8,536.8 280.5,537.1 281.2,537.6 282,535.5 282.8,533.7 283.5,533.3 284.2,532.8 285,531.7 285.8,529 286.5,526.8 287.2,527.6 288,526.1 288.8,528.1 289.5,526.9 290.2,524.1 291,522.9 291.8,521.6 292.5,523.1 293.2,523.6 294,523.1 294.8,521.1 295.5,521 296.2,519.6 297,520.4 297.8,516.8 298.5,513.5 299.2,511 300,508.3 300.8,505.9 301.5,502.1 302.2,500.4 303,501.2 303.8,500.5 304.5,501.2 305.2,501.9 306,501.2 306.8,498.8 307.5,499.1 308.2,498.5 309,496.1 309.8,498.9 310.5,496.9 311.2,495.5 312,495.4 312.8,494.7 313.5,493.7 314.2,493.2 315,495.1 315.8,494.1 316.5,494.2 317.2,495.2 318,494.9 318.8,494 319.5,494.2 320.2,494.1 321,499.4 321.8,498 322.5,498 323.2,496.7 324,495.4 324.8,494.4 325.5,493.1 326.2,490.3 327,490.6 327.8,489.9 328.5,488.3 329.2,486.9 330,487.9 330.8,487.8 331.5,488.4 332.2,488.3 333,485.8 333.8,481.6 334.5,484.7 335.2,485.5 336,486.1 336.8,487.8 337.5,486 338.2,484.6 339,483.3 339.8,481.6 340.5,474 341.2,475 342,473.6 342.8,473 343.5,468.9 344.2,469.6 345,466.9 345.8,464.7 346.5,459.5 347.2,459.8 348,458.8 348.8,456 349.5,457 350.2,457.3 351,458.9 351.8,461.4 352.5,459.6 353.2,461.8 354,465.4 354.8,464.9 355.5,462.1 356.2,459.3 357,458.2 357.8,455.6 358.5,455.9 359.2,455.5 360,456.2 360.8,451.2 361.5,451.4 362.2,450.6 363,453.7 363.8,456.3 364.5,458.7 365.2,457.6 366,453.2 366.8,449.3 367.5,446.5 368.2,444.5 369,443.2 369.8,438.1 370.5,433.7 371.2,437.8 372,443.9 372.8,447.9 373.5,451.8 374.2,457.4 375,463.1 375.8,471.6 376.5,467.7 377.2,463.8 378,456.3 378.8,458.6 379.5,461.9 380.2,462.7 381,462.4 381.8,461.2 382.5,458.3 383.2,456.7 384,457.3 384.8,454.2 385.5,451.7 386.2,451.4 387,450.3 387.8,455.2 388.5,459.8 389.2,461.9 390,463.8 390.8,464.1 391.5,464.3 392.2,466.3 393,464.5 393.8,468.9 394.5,470.5 395.2,469.3 396,471.6 396.8,472.6 397.5,476.1 398.2,477.9 399,478.2 399.8,478.3 400.5,476.3 401.2,473.9 402,474.9 402.8,474.3 403.5,476.4 404.2,475.8 405,474.4 405.8,472.9 406.5,470.8 407.2,470.2 408,468.8 408.8,468.5 409.5,471.1 410.2,471.5 411,473.2 411.8,472.4 412.5,473.2 413.2,475.6 414,474.1 414.8,475 415.5,475.6 416.2,475.3 417,477.9 417.8,479.5 418.5,478.9 419.2,478 420,476.6 420.8,477.8 421.5,478.7 422.2,480.4 423,480.2 423.8,481.9 424.5,483.9 425.2,485.6 426,483.6 426.8,483.1 427.5,480.5 428.2,477.9 429,478.3 429.8,473.7 430.5,478.2 431.2,479 432,477.5 432.8,475.1 433.5,475.4 434.2,473.4 435,470.2 435.8,468 436.5,466.2 437.2,459.5 438,462.7 438.8,460.1 439.5,460.5 440.2,460.2 441,457.9 441.8,455.5 442.5,457.6 443.2,457.2 444,458.4 444.8,458 445.5,457.8 446.2,457.1 447,459.5 447.8,459.1 448.5,459.1 449.2,457.5 450,455 450.8,454.2 451.5,454 452.2,453.8 453,450.7 453.8,450.5 454.5,449.1 455.2,450.1 456,449.8 456.8,449.1 457.5,450 458.2,448 459,447.7 459.8,450.3 460.5,450.3 461.2,452.9 462,453 462.8,452.8 463.5,452.3 464.2,456.9 465,456.1 465.8,455.4 466.5,457.1 467.2,458 468,456.6 468.8,456 469.5,455.8 470.2,455.4 471,454.1 471.8,455 472.5,456.6 473.2,456.4 474,455.6 474.8,455 475.5,457.6 476.2,458.7 477,459.7 477.8,460.6 478.5,462.5 479.2,462.2 480,464.7 480.8,466.1 481.5,465 482.2,465.4 483,468.6 483.8,468.7 484.5,469.2 485.2,469.8 486,472.2 486.8,475.4 487.5,478 488.2,474.2 489,472.6 489.8,469.9 490.5,466.6 491.2,465.3 492,465.7 492.8,465 493.5,464.4 494.2,462.9 495,460.5 495.8,459.4 496.5,458.5 497.2,457.5 498,458.3 498.8,457.8 499.5,455.3 500.2,454.6 501,455.7 501.8,456.1 502.5,456.5 503.2,457.5 504,457.2 504.8,458 505.5,456.3 506.2,454 507,455.2 507.8,453.3 508.5,453.3 509.2,453.1 510,453.5 510.8,453.7 511.5,454.7 512.2,454.1 513,454.3 513.8,455.4 514.5,456 515.2,455.5 516,456.7 516.8,455.9 517.5,459 518.2,458.3 519,459.7 519.8,459.5 520.5,458.5 521.2,458.9 522,460.8 522.8,459.6 523.5,460.6 524.2,459.9 525,460 525.8,460.9 526.5,462.4 527.2,461.8 528,461.2 528.8,458.4 529.5,458.1 530.2,457.1 531,457.1 531.8,460.3 532.5,458.6 533.2,459 534,457 534.8,456.8 535.5,454.4 536.2,455.4 537,453.8 537.8,452.6 538.5,453.7 539.2,452.6 540,452.5 540.8,452.1 541.5,452.4 542.2,453.3 543,453.6 543.8,454.2 544.5,453.8 545.2,452.5 546,452.8 546.8,452.8 547.5,452.7 548.2,454 549,453 549.8,450.3 550.5,447.9 551.2,449.7 552,451.1 552.8,451.2 553.5,451.4 554.2,451.2 555,453.5 555.8,453.7 556.5,453.8 557.2,454.6 558,456 558.8,458.2 559.5,459.4 560.2,458.7 561,461.5 561.8,459.9 562.5,461.4 563.2,460.2 564,462 564.8,463.1 565.5,461.2 566.2,461 567,462 567.8,462.5 568.5,462.9 569.2,464.5 570,464.5 570.8,466 571.5,464.9 572.2,466.1 573,468.2 573.8,467.5 574.5,467.9 575.2,468.7 576,465.7 576.8,465.4 577.5,467.4 578.2,467 579,468.9 579.8,468.8 580.5,469.7 581.2,468.5 582,468.7 582.8,467.4 583.5,466.6 584.2,466 585,466.9 585.8,466.4 586.5,467.2 587.2,466.4 588,465.6 588.8,465.4 589.5,466.9 590.2,467.7 591,467.5 591.8,466.1 592.5,465.6 593.2,466.7 594,464.5 594.8,464 595.5,465 596.2,462.8 597,464.6 597.8,465 598.5,463.6 599.2,463.3 600,462.5 600.8,461.3 601.5,463 602.2,459.6 603,459.9 603.8,460.6 604.5,461 605.2,457.3 606,457.9 606.8,458.3 607.5,459.9 608.2,461.8 609,461.7 609.8,463.1 610.5,460.9 611.2,462.2 612,461.6 612.8,462.3 613.5,466 614.2,465.5 615,462.9 615.8,462.3 616.5,462.4 617.2,462.6 618,462.1 618.8,462.2 619.5,462.2 620.2,462.5 621,462.5 621.8,463.4 622.5,460.7 623.2,464 624,465.6 624.8,468.4 625.5,469.9 626.2,470.3 627,471.7 627.8,472 628.5,471.6 629.2,473.7 630,473.6 630.8,473.9 631.5,475.1 632.2,473 633,477.2 633.8,482.1 634.5,490 635.2,494.3 636,496.1 636.8,493.9 637.5,491.1 638.2,489.9 639,489.8 639.8,490.4 640.5,492.4 641.2,493.5 642,493 642.8,492.6 643.5,490.8 644.2,491.6 645,492 645.8,493.4 646.5,493.2 647.2,493.7 648,495.2 648.8,496.1 649.5,494.7 650.2,495.4 651,496.6 651.8,496.5 652.5,499.5 653.2,495.3 654,494.2 654.8,494.1 655.5,496.5 656.2,500.2 657,500.8 657.8,503.4 658.5,506.6 659.2,509.4 660,503 660.8,498.3 661.5,494.4 662.2,492.1 663,491.6 663.8,491.4 664.5,490.4 665.2,488.6 666,485.8 666.8,487.7 667.5,488 668.2,487.4 669,489.3 669.8,487.1 670.5,487.7 671.2,486 672,486.6 672.8,484 673.5,483.7 674.2,485.4 675,483.3 675.8,482.8 676.5,485.1 677.2,486.4 678,485.4 678.8,486 679.5,486.1 680.2,486.1 681,488.3 681.8,491.4 682.5,488.3 683.2,485 684,483.2 684.8,480.5 685.5,481.7 686.2,483.2 687,484.4 687.8,484.7 688.5,484.2 689.2,485.4 690,485.8 690.8,484 691.5,484 692.2,482.7 693,483.2 693.8,481.7 694.5,485.1 695.2,481.3 696,483 696.8,480.1 697.5,484.2 698.2,485.1 699,483.5 699.8,483.1 700.5,483.2 701.2,481.7 702,481.5 702.8,481.9 703.5,482.7 704.2,483 705,481.1 705.8,483 706.5,484.2 707.2,482.5 708,482.2 708.8,483 709.5,484.4 710.2,484.6 711,484.3 711.8,485.2 712.5,482.9 713.2,482.4 714,481.2 714.8,480.5 715.5,482.7 716.2,482.5 717,484.5 717.8,484.8 718.5,482.7 719.2,482.6 720,482 720.8,481.6 721.5,481.8 722.2,478.7 723,474.7 723.8,472.7 724.5,477.1 725.2,482.2 726,484.7 726.8,489 727.5,485.6 728.2,482.8 729,480.4 729.8,478.1 730.5,478.5 731.2,476.6 732,479.8 732.8,478.8 733.5,479.7 734.2,479.1 735,478.6 735.8,478.8 736.5,477.7 737.2,477.6 738,475.7 738.8,476.5 739.5,477.5 740.2,478.2 741,477.7 741.8,477.7 742.5,476.9 743.2,477.2 744,476.9 744.8,477.7 745.5,478.3 746.2,477.3 747,478.2 747.8,480 748.5,478.7 749.2,477.6 750,477.4 750.8,477.7 751.5,478.5 752.2,479.1 753,479.8 753.8,477.4 754.5,479.6 755.2,479.8 756,480.5 756.8,479.4 757.5,479.9 758.2,479.5 759,478 759.8,479.6 760.5,480.3 761.2,475.6 762,475.1 762.8,474.4 763.5,472.3 764.2,473.4 765,471 765.8,469.8 766.5,471.4 767.2,475.7 768,478.2 768.8,480 769.5,481.3 770.2,482.9 771,482.2 771.8,481.6 772.5,482.9 773.2,482.9 774,482.9 774.8,483.1 775.5,481.5 776.2,480.6 777,479.2 777.8,478.2 778.5,479.2 779.2,479.7 780,479.8 780.8,479.2 781.5,479.2 782.2,481 783,478.2 783.8,476.6 784.5,478.1 785.2,477.1 786,477.8 786.8,478.4 787.5,479 788.2,480.4 789,479.9 789.8,480.1 790.5,483 791.2,479.9 792,478.9 792.8,478.7 793.5,480.6 794.2,481.1 795,483.9 795.8,486.5 796.5,486.1 797.2,488.6 798,489.8 798.8,489.4 799.5,489.4 800.2,489.1 801,490 801.8,490.1 802.5,491 803.2,491.7 804,490.1 804.8,491 805.5,491.8 806.2,492.3 807,489.3 807.8,490.2 808.5,489.6 809.2,489.2 810,489.7 810.8,489.8 811.5,488.9 812.2,485.7 813,484 813.8,481 814.5,480.1 815.2,480.7 816,481.6 816.8,482.6 817.5,483.8 818.2,483.3 819,483.4 819.8,482.9 820.5,484.5 821.2,482.1 822,484.1 822.8,484.4 823.5,482.2 824.2,481.2 825,481.2 825.8,482.4 826.5,481.4 827.2,481.4 828,481 828.8,481.3 829.5,479.9 830.2,481.4 831,479.5 831.8,480.8 832.5,483.4 833.2,479.6 834,480.1 834.8,478.8 835.5,480.6 836.2,480.7 837,479.9 837.8,479.8 838.5,479.8 839.2,477.2 840,478.4 840.8,477.9 841.5,478.4 842.2,477 843,477.9 843.8,477.5 844.5,479.8 845.2,483 846,480.7 846.8,479.9 847.5,479.5 848.2,481.7 849,482.8 849.8,483.4 850.5,483.3 851.2,481.8 852,482.6 852.8,483.5 853.5,484.6 854.2,483.2 855,483.4 855.8,481.3 856.5,483 857.2,482.7 858,481.5 858.8,481.2 859.5,480.8 860.2,481.5 861,483.9 861.8,489.6 862.5,487.3 863.2,487.9 864,491.4 864.8,494 865.5,493.4 866.2,494 867,493.8 867.8,494.7 868.5,492.9 869.2,494 870,494.2 870.8,495.8 871.5,493.9 872.2,494.2 873,494.8 873.8,496.4 874.5,496.7 875.2,496.7 876,497.4 876.8,497 877.5,494.6 878.2,493.5 879,493.8 879.8,493.6 880.5,495.9 881.2,497.8 882,496.2 882.8,496 883.5,496.3 884.2,499.3 885,497.2 885.8,496 886.5,496.2 887.2,494 888,495.1 888.8,493.7 889.5,494.5 890.2,496.3 891,496 891.8,495.4 892.5,497.1 893.2,498.1 894,497.1 894.8,496 895.5,496.7 896.2,496.8 897,499.4 897.8,500 898.5,500.6 899.2,500.7 900,502.3 900.8,502.5 901.5,503.9 902.2,502.5 903,503.4 903.8,501.5 904.5,500.7 905.2,502.6 906,500.4 906.8,500.4 907.5,505.4 908.2,500.8 909,500.2 909.8,500.9 910.5,500 911.2,501.5 912,501 912.8,500.2 913.5,501 914.2,501.8 915,500.4 915.8,499.8 916.5,497.2 917.2,499.5 918,499.3 918.8,499 919.5,498.8 920.2,499.7 921,499.5 921.8,499.5 922.5,502.1 923.2,502.3 924,503.5 924.8,505.6 925.5,505.9 926.2,503.8 927,504.2 927.8,505.9 928.5,505.7 929.2,507.4 930,506.1 930.8,506 931.5,507 932.2,510.1 933,510.7 933.8,510.3 934.5,513.1 935.2,515 936,513.8 936.8,512.9 937.5,513.6 938.2,513.3 939,512.3 939.8,512.7 940.5,512.2 941.2,514.8 942,511.3 942.8,512 943.5,509.9 944.2,510.1 945,509.3 945.8,509.6 946.5,510.7 947.2,512.3 948,510.9 948.8,507.2 949.5,506.4 950.2,503.6 951,502.1 951.8,501.8 952.5,500.4 953.2,500.9 954,502.4 954.8,502.7 955.5,502.5 956.2,501.3 957,502.3 957.8,501.8 958.5,501.9 959.2,501.8 960,502.1 960.8,502.1 961.5,502.9 962.2,502.1 963,502.5 963.8,504.8 964.5,505.2 965.2,503.7 966,505.6 966.8,505.8 967.5,505.8 968.2,506.2 969,507.1 969.8,505.7 970.5,506.4 971.2,507.9 972,508.4 972.8,508.8 973.5,509.7 974.2,510.1 975,508.2 975.8,508.1 976.5,508.3 977.2,508.7 978,507.5 978.8,507.3 979.5,506.1 980.2,504.7 981,506.7 981.8,505.7 982.5,506.3 983.2,507.5 984,507.4 984.8,506.6 985.5,506.9 986.2,506.9 987,507 987.8,506.8 988.5,507.9 989.2,508.3 990,507.1 990.8,508.8 991.5,507.2 992.2,509.1 993,509.5 993.8,509.9 994.5,509 995.2,509.1 996,504.8 996.8,507 997.5,509.2 998.2,507.6 999,509 999.8,509.4 1000.5,509.3 1001.2,509.8 1002,508 1002.8,507.1 1003.5,507.9 1004.2,509 1005,509.6 1005.8,508.7 1006.5,508.2 1007.2,508.2 1008,509.6 1008.8,508.1 1009.5,507.3 1010.2,506.4 1011,507.2 1011.8,507.3 1012.5,507.5 1013.2,506.9 1014,506.3 1014.8,506.9 1015.5,508.5 1016.2,507.6 1017,509.6 1017.8,509.3 1018.5,509.4 1019.2,509.7 1020,508.3 1020.8,509.2 1021.5,508.6 1022.2,507.9 1023,508.8 1023.8,510.3 1024.5,509.3 1025.2,512.3 1026,511.4 1026.8,510.8 1027.5,510 1028.2,509.6 1029,511 1029.8,511.1 1030.5,511.1 1031.2,508.7 1032,507.8 1032.8,511.2 1033.5,508.5 1034.2,508.2 1035,507.8 1035.8,505 1036.5,505.2 1037.2,504.9 1038,503.7 1038.8,503.7 1039.5,501.8 1040.2,502.5 1041,499.5 1041.8,499.7 1042.5,500.2 1043.2,499.7 1044,499.6 1044.8,501.1 1045.5,500 1046.2,502 1047,500.2 1047.8,501.5 1048.5,502.1 1049.2,500 1050,503.5 1050.8,503.2 1051.5,503 1052.2,502.2 1053,502.2 1053.8,503.9 1054.5,504.6 1055.2,502.6 1056,503.2 1056.8,504.4 1057.5,508.9 1058.2,509.4 1059,510.5 1059.8,507.3 1060.5,502.6 1061.2,499.8 1062,500 1062.8,502.7 1063.5,498 1064.2,497.5 1065,499.5 1065.8,498.7 1066.5,496.7 1067.2,496.7 1068,495.8 1068.8,496.1 1069.5,493.3 1070.2,492.8 1071,492.9 1071.8,491.5 1072.5,489.5 1073.2,488.9 1074,489.3 1074.8,489.8 1075.5,488.1 1076.2,486.3 1077,485.9 1077.8,487.6 1078.5,487.6 1079.2,491.4 1080,494.1 1080.8,494.5 1081.5,495.7 1082.2,495.6 1083,499.4 1083.8,498 1084.5,495.7 1085.2,494.6 1086,492.5 1086.8,491.5 1087.5,492 1088.2,491.2 1089,491 1089.8,491 1090.5,493.4 1091.2,493.7 1092,493.9 1092,603 141,603"/>
<path d="M141.0,201.6H1092.0M141.0,246.2H1092.0M141.0,290.8H1092.0M141.0,335.4H1092.0M141.0,380H1092.0M141.0,424.6H1092.0M141.0,469.2H1092.0M141.0,513.8H1092.0M141.0,558.4H1092.0M208.7,157.0V603.0M276.4,157.0V603.0M344.1,157.0V603.0M411.8,157.0V603.0M479.5,157.0V603.0M547.2,157.0V603.0M614.9,157.0V603.0M682.6,157.0V603.0M750.3,157.0V603.0M818,157.0V603.0M885.7,157.0V603.0M953.4,157.0V603.0M1021.1,157.0V603.0" stroke="#e0e0e0" stroke-width="1" fill="none" style="mix-blend-mode:multiply"/>
<text x="610" y="397.5" text-anchor="middle" font-family="Liberation Sans, sans-serif" font-size="72" fill="#857766" fill-opacity="0.33" textLength="345" lengthAdjust="spacingAndGlyphs">glassnode</text>
<path d="M141,498.3 L141.8,497.9 L142.5,497.5 L143.2,496.3 L144,495.9 L144.8,493 L145.5,495.9 L146.2,494.8 L147,495.2 L147.8,494.8 L148.5,494.2 L149.2,496.5 L150,495.1 L150.8,495.2 L151.5,495.1 L152.2,498.3 L153,499.8 L153.8,500.6 L154.5,501.7 L155.2,503.2 L156,502.8 L156.8,502.7 L157.5,502.7 L158.2,502.2 L159,499.6 L159.8,498.3 L160.5,497.5 L161.2,496.6 L162,495 L162.8,495.8 L163.5,495.9 L164.2,495 L165,492.9 L165.8,493.1 L166.5,491.6 L167.2,491 L168,490.1 L168.8,488 L169.5,486.3 L170.2,487.6 L171,489.1 L171.8,489.3 L172.5,490.3 L173.2,490 L174,486.5 L174.8,489 L175.5,490.2 L176.2,492.2 L177,492 L177.8,490.9 L178.5,490.6 L179.2,490.6 L180,490 L180.8,488.6 L181.5,487.9 L182.2,485.8 L183,485.2 L183.8,486.4 L184.5,488.4 L185.2,492.9 L186,492.3 L186.8,491.6 L187.5,485.2 L188.2,487.5 L189,487.8 L189.8,487.2 L190.5,486.7 L191.2,487.8 L192,489.3 L192.8,492.6 L193.5,493.4 L194.2,494.5 L195,494.4 L195.8,495.5 L196.5,496.5 L197.2,495.6 L198,496.6 L198.8,496.2 L199.5,495 L200.2,494.5 L201,496.1 L201.8,495 L202.5,495.4 L203.2,494.8 L204,494.9 L204.8,495.1 L205.5,495.9 L206.2,496.6 L207,498.5 L207.8,498 L208.5,496 L209.2,497.2 L210,498.2 L210.8,498.1 L211.5,497.8 L212.2,495.2 L213,493.6 L213.8,495 L214.5,497.3 L215.2,496.2 L216,497 L216.8,500.2 L217.5,502.2 L218.2,502.2 L219,504.1 L219.8,504 L220.5,504.6 L221.2,505.4 L222,506.8 L222.8,507.6 L223.5,509.5 L224.2,510.7 L225,511.3 L225.8,516.5 L226.5,512.6 L227.2,515.8 L228,517.5 L228.8,520.8 L229.5,521.2 L230.2,517.7 L231,515.2 L231.8,515.1 L232.5,517.2 L233.2,516.5 L234,517.3 L234.8,518.8 L235.5,519.2 L236.2,518.1 L237,517.7 L237.8,517.3 L238.5,518.8 L239.2,520.5 L240,519.8 L240.8,513.5 L241.5,508.5 L242.2,503.5 L243,502.6 L243.8,502.2 L244.5,504 L245.2,505.4 L246,506.1 L246.8,504.8 L247.5,504.2 L248.2,503.8 L249,507.3 L249.8,508.4 L250.5,506.3 L251.2,509.7 L252,509.3 L252.8,507.8 L253.5,508.7 L254.2,508.1 L255,513.8 L255.8,506.8 L256.5,510.2 L257.2,512.2 L258,512.4 L258.8,512.6 L259.5,512.4 L260.2,514.6 L261,516.8 L261.8,517.4 L262.5,519.6 L263.2,519.1 L264,523.5 L264.8,526.3 L265.5,530 L266.2,531.2 L267,530.9 L267.8,531.5 L268.5,535 L269.2,536.2 L270,538 L270.8,543.5 L271.5,546.4 L272.2,540.6 L273,538.9 L273.8,539.7 L274.5,540.4 L275.2,541.2 L276,542.1 L276.8,541 L277.5,537 L278.2,538.5 L279,538.9 L279.8,536.8 L280.5,537.1 L281.2,537.6 L282,535.5 L282.8,533.7 L283.5,533.3 L284.2,532.8 L285,531.7 L285.8,529 L286.5,526.8 L287.2,527.6 L288,526.1 L288.8,528.1 L289.5,526.9 L290.2,524.1 L291,522.9 L291.8,521.6 L292.5,523.1 L293.2,523.6 L294,523.1 L294.8,521.1 L295.5,521 L296.2,519.6 L297,520.4 L297.8,516.8 L298.5,513.5 L299.2,511 L300,508.3 L300.8,505.9 L301.5,502.1 L302.2,500.4 L303,501.2 L303.8,500.5 L304.5,501.2 L305.2,501.9 L306,501.2 L306.8,498.8 L307.5,499.1 L308.2,498.5 L309,496.1 L309.8,498.9 L310.5,496.9 L311.2,495.5 L312,495.4 L312.8,494.7 L313.5,493.7 L314.2,493.2 L315,495.1 L315.8,494.1 L316.5,494.2 L317.2,495.2 L318,494.9 L318.8,494 L319.5,494.2 L320.2,494.1 L321,499.4 L321.8,498 L322.5,498 L323.2,496.7 L324,495.4 L324.8,494.4 L325.5,493.1 L326.2,490.3 L327,490.6 L327.8,489.9 L328.5,488.3 L329.2,486.9 L330,487.9 L330.8,487.8 L331.5,488.4 L332.2,488.3 L333,485.8 L333.8,481.6 L334.5,484.7 L335.2,485.5 L336,486.1 L336.8,487.8 L337.5,486 L338.2,484.6 L339,483.3 L339.8,481.6 L340.5,474 L341.2,475 L342,473.6 L342.8,473 L343.5,468.9 L344.2,469.6 L345,466.9 L345.8,464.7 L346.5,459.5 L347.2,459.8 L348,458.8 L348.8,456 L349.5,457 L350.2,457.3 L351,458.9 L351.8,461.4 L352.5,459.6 L353.2,461.8 L354,465.4 L354.8,464.9 L355.5,462.1 L356.2,459.3 L357,458.2 L357.8,455.6 L358.5,455.9 L359.2,455.5 L360,456.2 L360.8,451.2 L361.5,451.4 L362.2,450.6 L363,453.7 L363.8,456.3 L364.5,458.7 L365.2,457.6 L366,453.2 L366.8,449.3 L367.5,446.5 L368.2,444.5 L369,443.2 L369.8,438.1 L370.5,433.7 L371.2,437.8 L372,443.9 L372.8,447.9 L373.5,451.8 L374.2,457.4 L375,463.1 L375.8,471.6 L376.5,467.7 L377.2,463.8 L378,456.3 L378.8,458.6 L379.5,461.9 L380.2,462.7 L381,462.4 L381.8,461.2 L382.5,458.3 L383.2,456.7 L384,457.3 L384.8,454.2 L385.5,451.7 L386.2,451.4 L387,450.3 L387.8,455.2 L388.5,459.8 L389.2,461.9 L390,463.8 L390.8,464.1 L391.5,464.3 L392.2,466.3 L393,464.5 L393.8,468.9 L394.5,470.5 L395.2,469.3 L396,471.6 L396.8,472.6 L397.5,476.1 L398.2,477.9 L399,478.2 L399.8,478.3 L400.5,476.3 L401.2,473.9 L402,474.9 L402.8,474.3 L403.5,476.4 L404.2,475.8 L405,474.4 L405.8,472.9 L406.5,470.8 L407.2,470.2 L408,468.8 L408.8,468.5 L409.5,471.1 L410.2,471.5 L411,473.2 L411.8,472.4 L412.5,473.2 L413.2,475.6 L414,474.1 L414.8,475 L415.5,475.6 L416.2,475.3 L417,477.9 L417.8,479.5 L418.5,478.9 L419.2,478 L420,476.6 L420.8,477.8 L421.5,478.7 L422.2,480.4 L423,480.2 L423.8,481.9 L424.5,483.9 L425.2,485.6 L426,483.6 L426.8,483.1 L427.5,480.5 L428.2,477.9 L429,478.3 L429.8,473.7 L430.5,478.2 L431.2,479 L432,477.5 L432.8,475.1 L433.5,475.4 L434.2,473.4 L435,470.2 L435.8,468 L436.5,466.2 L437.2,459.5 L438,462.7 L438.8,460.1 L439.5,460.5 L440.2,460.2 L441,457.9 L441.8,455.5 L442.5,457.6 L443.2,457.2 L444,458.4 L444.8,458 L445.5,457.8 L446.2,457.1 L447,459.5 L447.8,459.1 L448.5,459.1 L449.2,457.5 L450,455 L450.8,454.2 L451.5,454 L452.2,453.8 L453,450.7 L453.8,450.5 L454.5,449.1 L455.2,450.1 L456,449.8 L456.8,449.1 L457.5,450 L458.2,448 L459,447.7 L459.8,450.3 L460.5,450.3 L461.2,452.9 L462,453 L462.8,452.8 L463.5,452.3 L464.2,456.9 L465,456.1 L465.8,455.4 L466.5,457.1 L467.2,458 L468,456.6 L468.8,456 L469.5,455.8 L470.2,455.4 L471,454.1 L471.8,455 L472.5,456.6 L473.2,456.4 L474,455.6 L474.8,455 L475.5,457.6 L476.2,458.7 L477,459.7 L477.8,460.6 L478.5,462.5 L479.2,462.2 L480,464.7 L480.8,466.1 L481.5,465 L482.2,465.4 L483,468.6 L483.8,468.7 L484.5,469.2 L485.2,469.8 L486,472.2 L486.8,475.4 L487.5,478 L488.2,474.2 L489,472.6 L489.8,469.9 L490.5,466.6 L491.2,465.3 L492,465.7 L492.8,465 L493.5,464.4 L494.2,462.9 L495,460.5 L495.8,459.4 L496.5,458.5 L497.2,457.5 L498,458.3 L498.8,457.8 L499.5,455.3 L500.2,454.6 L501,455.7 L501.8,456.1 L502.5,456.5 L503.2,457.5 L504,457.2 L504.8,458 L505.5,456.3 L506.2,454 L507,455.2 L507.8,453.3 L508.5,453.3 L509.2,453.1 L510,453.5 L510.8,453.7 L511.5,454.7 L512.2,454.1 L513,454.3 L513.8,455.4 L514.5,456 L515.2,455.5 L516,456.7 L516.8,455.9 L517.5,459 L518.2,458.3 L519,459.7 L519.8,459.5 L520.5,458.5 L521.2,458.9 L522,460.8 L522.8,459.6 L523.5,460.6 L524.2,459.9 L525,460 L525.8,460.9 L526.5,462.4 L527.2,461.8 L528,461.2 L528.8,458.4 L529.5,458.1 L530.2,457.1 L531,457.1 L531.8,460.3 L532.5,458.6 L533.2,459 L534,457 L534.8,456.8 L535.5,454.4 L536.2,455.4 L537,453.8 L537.8,452.6 L538.5,453.7 L539.2,452.6 L540,452.5 L540.8,452.1 L541.5,452.4 L542.2,453.3 L543,453.6 L543.8,454.2 L544.5,453.8 L545.2,452.5 L546,452.8 L546.8,452.8 L547.5,452.7 L548.2,454 L549,453 L549.8,450.3 L550.5,447.9 L551.2,449.7 L552,451.1 L552.8,451.2 L553.5,451.4 L554.2,451.2 L555,453.5 L555.8,453.7 L556.5,453.8 L557.2,454.6 L558,456 L558.8,458.2 L559.5,459.4 L560.2,458.7 L561,461.5 L561.8,459.9 L562.5,461.4 L563.2,460.2 L564,462 L564.8,463.1 L565.5,461.2 L566.2,461 L567,462 L567.8,462.5 L568.5,462.9 L569.2,464.5 L570,464.5 L570.8,466 L571.5,464.9 L572.2,466.1 L573,468.2 L573.8,467.5 L574.5,467.9 L575.2,468.7 L576,465.7 L576.8,465.4 L577.5,467.4 L578.2,467 L579,468.9 L579.8,468.8 L580.5,469.7 L581.2,468.5 L582,468.7 L582.8,467.4 L583.5,466.6 L584.2,466 L585,466.9 L585.8,466.4 L586.5,467.2 L587.2,466.4 L588,465.6 L588.8,465.4 L589.5,466.9 L590.2,467.7 L591,467.5 L591.8,466.1 L592.5,465.6 L593.2,466.7 L594,464.5 L594.8,464 L595.5,465 L596.2,462.8 L597,464.6 L597.8,465 L598.5,463.6 L599.2,463.3 L600,462.5 L600.8,461.3 L601.5,463 L602.2,459.6 L603,459.9 L603.8,460.6 L604.5,461 L605.2,457.3 L606,457.9 L606.8,458.3 L607.5,459.9 L608.2,461.8 L609,461.7 L609.8,463.1 L610.5,460.9 L611.2,462.2 L612,461.6 L612.8,462.3 L613.5,466 L614.2,465.5 L615,462.9 L615.8,462.3 L616.5,462.4 L617.2,462.6 L618,462.1 L618.8,462.2 L619.5,462.2 L620.2,462.5 L621,462.5 L621.8,463.4 L622.5,460.7 L623.2,464 L624,465.6 L624.8,468.4 L625.5,469.9 L626.2,470.3 L627,471.7 L627.8,472 L628.5,471.6 L629.2,473.7 L630,473.6 L630.8,473.9 L631.5,475.1 L632.2,473 L633,477.2 L633.8,482.1 L634.5,490 L635.2,494.3 L636,496.1 L636.8,493.9 L637.5,491.1 L638.2,489.9 L639,489.8 L639.8,490.4 L640.5,492.4 L641.2,493.5 L642,493 L642.8,492.6 L643.5,490.8 L644.2,491.6 L645,492 L645.8,493.4 L646.5,493.2 L647.2,493.7 L648,495.2 L648.8,496.1 L649.5,494.7 L650.2,495.4 L651,496.6 L651.8,496.5 L652.5,499.5 L653.2,495.3 L654,494.2 L654.8,494.1 L655.5,496.5 L656.2,500.2 L657,500.8 L657.8,503.4 L658.5,506.6 L659.2,509.4 L660,503 L660.8,498.3 L661.5,494.4 L662.2,492.1 L663,491.6 L663.8,491.4 L664.5,490.4 L665.2,488.6 L666,485.8 L666.8,487.7 L667.5,488 L668.2,487.4 L669,489.3 L669.8,487.1 L670.5,487.7 L671.2,486 L672,486.6 L672.8,484 L673.5,483.7 L674.2,485.4 L675,483.3 L675.8,482.8 L676.5,485.1 L677.2,486.4 L678,485.4 L678.8,486 L679.5,486.1 L680.2,486.1 L681,488.3 L681.8,491.4 L682.5,488.3 L683.2,485 L684,483.2 L684.8,480.5 L685.5,481.7 L686.2,483.2 L687,484.4 L687.8,484.7 L688.5,484.2 L689.2,485.4 L690,485.8 L690.8,484 L691.5,484 L692.2,482.7 L693,483.2 L693.8,481.7 L694.5,485.1 L695.2,481.3 L696,483 L696.8,480.1 L697.5,484.2 L698.2,485.1 L699,483.5 L699.8,483.1 L700.5,483.2 L701.2,481.7 L702,481.5 L702.8,481.9 L703.5,482.7 L704.2,483 L705,481.1 L705.8,483 L706.5,484.2 L707.2,482.5 L708,482.2 L708.8,483 L709.5,484.4 L710.2,484.6 L711,484.3 L711.8,485.2 L712.5,482.9 L713.2,482.4 L714,481.2 L714.8,480.5 L715.5,482.7 L716.2,482.5 L717,484.5 L717.8,484.8 L718.5,482.7 L719.2,482.6 L720,482 L720.8,481.6 L721.5,481.8 L722.2,478.7 L723,474.7 L723.8,472.7 L724.5,477.1 L725.2,482.2 L726,484.7 L726.8,489 L727.5,485.6 L728.2,482.8 L729,480.4 L729.8,478.1 L730.5,478.5 L731.2,476.6 L732,479.8 L732.8,478.8 L733.5,479.7 L734.2,479.1 L735,478.6 L735.8,478.8 L736.5,477.7 L737.2,477.6 L738,475.7 L738.8,476.5 L739.5,477.5 L740.2,478.2 L741,477.7 L741.8,477.7 L742.5,476.9 L743.2,477.2 L744,476.9 L744.8,477.7 L745.5,478.3 L746.2,477.3 L747,478.2 L747.8,480 L748.5,478.7 L749.2,477.6 L750,477.4 L750.8,477.7 L751.5,478.5 L752.2,479.1 L753,479.8 L753.8,477.4 L754.5,479.6 L755.2,479.8 L756,480.5 L756.8,479.4 L757.5,479.9 L758.2,479.5 L759,478 L759.8,479.6 L760.5,480.3 L761.2,475.6 L762,475.1 L762.8,474.4 L763.5,472.3 L764.2,473.4 L765,471 L765.8,469.8 L766.5,471.4 L767.2,475.7 L768,478.2 L768.8,480 L769.5,481.3 L770.2,482.9 L771,482.2 L771.8,481.6 L772.5,482.9 L773.2,482.9 L774,482.9 L774.8,483.1 L775.5,481.5 L776.2,480.6 L777,479.2 L777.8,478.2 L778.5,479.2 L779.2,479.7 L780,479.8 L780.8,479.2 L781.5,479.2 L782.2,481 L783,478.2 L783.8,476.6 L784.5,478.1 L785.2,477.1 L786,477.8 L786.8,478.4 L787.5,479 L788.2,480.4 L789,479.9 L789.8,480.1 L790.5,483 L791.2,479.9 L792,478.9 L792.8,478.7 L793.5,480.6 L794.2,481.1 L795,483.9 L795.8,486.5 L796.5,486.1 L797.2,488.6 L798,489.8 L798.8,489.4 L799.5,489.4 L800.2,489.1 L801,490 L801.8,490.1 L802.5,491 L803.2,491.7 L804,490.1 L804.8,491 L805.5,491.8 L806.2,492.3 L807,489.3 L807.8,490.2 L808.5,489.6 L809.2,489.2 L810,489.7 L810.8,489.8 L811.5,488.9 L812.2,485.7 L813,484 L813.8,481 L814.5,480.1 L815.2,480.7 L816,481.6 L816.8,482.6 L817.5,483.8 L818.2,483.3 L819,483.4 L819.8,482.9 L820.5,484.5 L821.2,482.1 L822,484.1 L822.8,484.4 L823.5,482.2 L824.2,481.2 L825,481.2 L825.8,482.4 L826.5,481.4 L827.2,481.4 L828,481 L828.8,481.3 L829.5,479.9 L830.2,481.4 L831,479.5 L831.8,480.8 L832.5,483.4 L833.2,479.6 L834,480.1 L834.8,478.8 L835.5,480.6 L836.2,480.7 L837,479.9 L837.8,479.8 L838.5,479.8 L839.2,477.2 L840,478.4 L840.8,477.9 L841.5,478.4 L842.2,477 L843,477.9 L843.8,477.5 L844.5,479.8 L845.2,483 L846,480.7 L846.8,479.9 L847.5,479.5 L848.2,481.7 L849,482.8 L849.8,483.4 L850.5,483.3 L851.2,481.8 L852,482.6 L852.8,483.5 L853.5,484.6 L854.2,483.2 L855,483.4 L855.8,481.3 L856.5,483 L857.2,482.7 L858,481.5 L858.8,481.2 L859.5,480.8 L860.2,481.5 L861,483.9 L861.8,489.6 L862.5,487.3 L863.2,487.9 L864,491.4 L864.8,494 L865.5,493.4 L866.2,494 L867,493.8 L867.8,494.7 L868.5,492.9 L869.2,494 L870,494.2 L870.8,495.8 L871.5,493.9 L872.2,494.2 L873,494.8 L873.8,496.4 L874.5,496.7 L875.2,496.7 L876,497.4 L876.8,497 L877.5,494.6 L878.2,493.5 L879,493.8 L879.8,493.6 L880.5,495.9 L881.2,497.8 L882,496.2 L882.8,496 L883.5,496.3 L884.2,499.3 L885,497.2 L885.8,496 L886.5,496.2 L887.2,494 L888,495.1 L888.8,493.7 L889.5,494.5 L890.2,496.3 L891,496 L891.8,495.4 L892.5,497.1 L893.2,498.1 L894,497.1 L894.8,496 L895.5,496.7 L896.2,496.8 L897,499.4 L897.8,500 L898.5,500.6 L899.2,500.7 L900,502.3 L900.8,502.5 L901.5,503.9 L902.2,502.5 L903,503.4 L903.8,501.5 L904.5,500.7 L905.2,502.6 L906,500.4 L906.8,500.4 L907.5,505.4 L908.2,500.8 L909,500.2 L909.8,500.9 L910.5,500 L911.2,501.5 L912,501 L912.8,500.2 L913.5,501 L914.2,501.8 L915,500.4 L915.8,499.8 L916.5,497.2 L917.2,499.5 L918,499.3 L918.8,499 L919.5,498.8 L920.2,499.7 L921,499.5 L921.8,499.5 L922.5,502.1 L923.2,502.3 L924,503.5 L924.8,505.6 L925.5,505.9 L926.2,503.8 L927,504.2 L927.8,505.9 L928.5,505.7 L929.2,507.4 L930,506.1 L930.8,506 L931.5,507 L932.2,510.1 L933,510.7 L933.8,510.3 L934.5,513.1 L935.2,515 L936,513.8 L936.8,512.9 L937.5,513.6 L938.2,513.3 L939,512.3 L939.8,512.7 L940.5,512.2 L941.2,514.8 L942,511.3 L942.8,512 L943.5,509.9 L944.2,510.1 L945,509.3 L945.8,509.6 L946.5,510.7 L947.2,512.3 L948,510.9 L948.8,507.2 L949.5,506.4 L950.2,503.6 L951,502.1 L951.8,501.8 L952.5,500.4 L953.2,500.9 L954,502.4 L954.8,502.7 L955.5,502.5 L956.2,501.3 L957,502.3 L957.8,501.8 L958.5,501.9 L959.2,501.8 L960,502.1 L960.8,502.1 L961.5,502.9 L962.2,502.1 L963,502.5 L963.8,504.8 L964.5,505.2 L965.2,503.7 L966,505.6 L966.8,505.8 L967.5,505.8 L968.2,506.2 L969,507.1 L969.8,505.7 L970.5,506.4 L971.2,507.9 L972,508.4 L972.8,508.8 L973.5,509.7 L974.2,510.1 L975,508.2 L975.8,508.1 L976.5,508.3 L977.2,508.7 L978,507.5 L978.8,507.3 L979.5,506.1 L980.2,504.7 L981,506.7 L981.8,505.7 L982.5,506.3 L983.2,507.5 L984,507.4 L984.8,506.6 L985.5,506.9 L986.2,506.9 L987,507 L987.8,506.8 L988.5,507.9 L989.2,508.3 L990,507.1 L990.8,508.8 L991.5,507.2 L992.2,509.1 L993,509.5 L993.8,509.9 L994.5,509 L995.2,509.1 L996,504.8 L996.8,507 L997.5,509.2 L998.2,507.6 L999,509 L999.8,509.4 L1000.5,509.3 L1001.2,509.8 L1002,508 L1002.8,507.1 L1003.5,507.9 L1004.2,509 L1005,509.6 L1005.8,508.7 L1006.5,508.2 L1007.2,508.2 L1008,509.6 L1008.8,508.1 L1009.5,507.3 L1010.2,506.4 L1011,507.2 L1011.8,507.3 L1012.5,507.5 L1013.2,506.9 L1014,506.3 L1014.8,506.9 L1015.5,508.5 L1016.2,507.6 L1017,509.6 L1017.8,509.3 L1018.5,509.4 L1019.2,509.7 L1020,508.3 L1020.8,509.2 L1021.5,508.6 L1022.2,507.9 L1023,508.8 L1023.8,510.3 L1024.5,509.3 L1025.2,512.3 L1026,511.4 L1026.8,510.8 L1027.5,510 L1028.2,509.6 L1029,511 L1029.8,511.1 L1030.5,511.1 L1031.2,508.7 L1032,507.8 L1032.8,511.2 L1033.5,508.5 L1034.2,508.2 L1035,507.8 L1035.8,505 L1036.5,505.2 L1037.2,504.9 L1038,503.7 L1038.8,503.7 L1039.5,501.8 L1040.2,502.5 L1041,499.5 L1041.8,499.7 L1042.5,500.2 L1043.2,499.7 L1044,499.6 L1044.8,501.1 L1045.5,500 L1046.2,502 L1047,500.2 L1047.8,501.5 L1048.5,502.1 L1049.2,500 L1050,503.5 L1050.8,503.2 L1051.5,503 L1052.2,502.2 L1053,502.2 L1053.8,503.9 L1054.5,504.6 L1055.2,502.6 L1056,503.2 L1056.8,504.4 L1057.5,508.9 L1058.2,509.4 L1059,510.5 L1059.8,507.3 L1060.5,502.6 L1061.2,499.8 L1062,500 L1062.8,502.7 L1063.5,498 L1064.2,497.5 L1065,499.5 L1065.8,498.7 L1066.5,496.7 L1067.2,496.7 L1068,495.8 L1068.8,496.1 L1069.5,493.3 L1070.2,492.8 L1071,492.9 L1071.8,491.5 L1072.5,489.5 L1073.2,488.9 L1074,489.3 L1074.8,489.8 L1075.5,488.1 L1076.2,486.3 L1077,485.9 L1077.8,487.6 L1078.5,487.6 L1079.2,491.4 L1080,494.1 L1080.8,494.5 L1081.5,495.7 L1082.2,495.6 L1083,499.4 L1083.8,498 L1084.5,495.7 L1085.2,494.6 L1086,492.5 L1086.8,491.5 L1087.5,492 L1088.2,491.2 L1089,491 L1089.8,491 L1090.5,493.4 L1091.2,493.7 L1092,493.9" stroke="#dc3a9a" stroke-width="2.7" fill="none" stroke-linejoin="round"/>
<path d="M141,480.5 L141.8,480 L142.5,479.6 L143.2,480.6 L144,478.1 L144.8,479.1 L145.5,478.9 L146.2,478.5 L147,478.1 L147.8,477.4 L148.5,477.8 L149.2,478.5 L150,477.2 L150.8,478.6 L151.5,476.8 L152.2,479 L153,479.1 L153.8,480.2 L154.5,483 L155.2,485.6 L156,489.4 L156.8,487.7 L157.5,487.6 L158.2,486 L159,485.8 L159.8,485.6 L160.5,484.4 L161.2,482.5 L162,482.3 L162.8,482.9 L163.5,482 L164.2,480.9 L165,480.2 L165.8,479.7 L166.5,479.4 L167.2,478.9 L168,478.2 L168.8,476.3 L169.5,476.7 L170.2,475.7 L171,474.8 L171.8,474.7 L172.5,475.2 L173.2,475.7 L174,473.5 L174.8,475.4 L175.5,472 L176.2,475.6 L177,473.5 L177.8,474.1 L178.5,471.3 L179.2,473.4 L180,470.9 L180.8,468.6 L181.5,466.5 L182.2,465.2 L183,461.6 L183.8,465 L184.5,466 L185.2,467.3 L186,466.5 L186.8,464.2 L187.5,463.9 L188.2,462.3 L189,460.9 L189.8,460 L190.5,465.7 L191.2,467.2 L192,468.9 L192.8,470.8 L193.5,471 L194.2,471.1 L195,469.7 L195.8,469.8 L196.5,471.1 L197.2,468.8 L198,467.1 L198.8,469.7 L199.5,469.9 L200.2,468.9 L201,468.9 L201.8,467.7 L202.5,465.1 L203.2,466.3 L204,467.4 L204.8,467.7 L205.5,469.2 L206.2,470.3 L207,468.6 L207.8,470.7 L208.5,470.9 L209.2,471.3 L210,469.7 L210.8,469.3 L211.5,471 L212.2,470.7 L213,471 L213.8,470.6 L214.5,472.5 L215.2,471.2 L216,471.9 L216.8,471.7 L217.5,480.1 L218.2,480.7 L219,482 L219.8,481.8 L220.5,481 L221.2,483 L222,484.3 L222.8,483.2 L223.5,485.7 L224.2,486.7 L225,487.7 L225.8,488.3 L226.5,490.2 L227.2,492.8 L228,494.9 L228.8,494.8 L229.5,494.2 L230.2,495.2 L231,495.4 L231.8,494 L232.5,496.3 L233.2,492.5 L234,496.7 L234.8,495.3 L235.5,496 L236.2,498.2 L237,497.4 L237.8,497.3 L238.5,500.1 L239.2,499.8 L240,500.7 L240.8,500.4 L241.5,495.2 L242.2,487 L243,482.2 L243.8,483.9 L244.5,484.4 L245.2,487.7 L246,486.7 L246.8,487.3 L247.5,488.5 L248.2,488.5 L249,488.7 L249.8,487.3 L250.5,487.4 L251.2,489.3 L252,487.4 L252.8,488.7 L253.5,489.3 L254.2,487.8 L255,489.4 L255.8,490.9 L256.5,489.8 L257.2,491.7 L258,492.9 L258.8,492.1 L259.5,492.7 L260.2,494.7 L261,496.8 L261.8,497.5 L262.5,501.3 L263.2,506.6 L264,507.6 L264.8,510.8 L265.5,513.3 L266.2,513.7 L267,516.7 L267.8,517.1 L268.5,520.3 L269.2,520.7 L270,524.9 L270.8,525.2 L271.5,524.7 L272.2,529 L273,529.2 L273.8,527.6 L274.5,525.8 L275.2,523.1 L276,522 L276.8,522.3 L277.5,522.4 L278.2,522 L279,523.2 L279.8,523.3 L280.5,521.8 L281.2,519.1 L282,516.6 L282.8,516.5 L283.5,515 L284.2,511.8 L285,509.1 L285.8,508 L286.5,507.5 L287.2,508.7 L288,508 L288.8,506.9 L289.5,505.9 L290.2,506.7 L291,505.9 L291.8,504.9 L292.5,505.4 L293.2,505.9 L294,506 L294.8,504.6 L295.5,504.5 L296.2,503.3 L297,502.8 L297.8,502.2 L298.5,499.3 L299.2,495.6 L300,492 L300.8,489.5 L301.5,488.9 L302.2,488.7 L303,485.2 L303.8,484.3 L304.5,486.1 L305.2,485.7 L306,485.1 L306.8,485.4 L307.5,485.8 L308.2,484.7 L309,483.3 L309.8,482.7 L310.5,482.6 L311.2,481.5 L312,480.1 L312.8,479.4 L313.5,478.7 L314.2,478.8 L315,478.5 L315.8,479.1 L316.5,479.7 L317.2,480.9 L318,478.7 L318.8,479.1 L319.5,479.6 L320.2,479.2 L321,481.1 L321.8,481.6 L322.5,481.5 L323.2,480.8 L324,479.5 L324.8,477.1 L325.5,477 L326.2,476.3 L327,476.4 L327.8,476 L328.5,473.6 L329.2,475.1 L330,475.1 L330.8,474.9 L331.5,472.2 L332.2,470.7 L333,468.2 L333.8,471.4 L334.5,472.2 L335.2,471.3 L336,469.5 L336.8,466.2 L337.5,466.2 L338.2,463.5 L339,461 L339.8,458.7 L340.5,457.6 L341.2,457.3 L342,454.4 L342.8,452.4 L343.5,451.3 L344.2,449.2 L345,447.9 L345.8,447.2 L346.5,445.8 L347.2,445 L348,444.3 L348.8,442.1 L349.5,441.6 L350.2,442.4 L351,445.5 L351.8,447.7 L352.5,447.3 L353.2,445.9 L354,446.7 L354.8,445.5 L355.5,444.2 L356.2,442.5 L357,440.8 L357.8,437.8 L358.5,439.3 L359.2,442.6 L360,438.9 L360.8,441.4 L361.5,441.5 L362.2,436.5 L363,433.4 L363.8,433.2 L364.5,437.9 L365.2,439.6 L366,442.5 L366.8,440.8 L367.5,437.5 L368.2,433.5 L369,428.2 L369.8,424.2 L370.5,415.1 L371.2,407.4 L372,417.7 L372.8,424.2 L373.5,426.7 L374.2,426.1 L375,428.5 L375.8,433.2 L376.5,439 L377.2,438.1 L378,429.7 L378.8,428.9 L379.5,429.2 L380.2,428 L381,426.5 L381.8,427.8 L382.5,427.6 L383.2,428.2 L384,427.3 L384.8,425.3 L385.5,424 L386.2,423.6 L387,421.9 L387.8,427.7 L388.5,432.2 L389.2,435.3 L390,437.5 L390.8,434.2 L391.5,441 L392.2,436.5 L393,434.2 L393.8,433.7 L394.5,433 L395.2,434.2 L396,434.1 L396.8,435.4 L397.5,437.5 L398.2,440.2 L399,442.4 L399.8,442.6 L400.5,443.5 L401.2,442.7 L402,443.3 L402.8,443.8 L403.5,441.8 L404.2,441.3 L405,441.1 L405.8,440.6 L406.5,439.3 L407.2,437.1 L408,434 L408.8,432.2 L409.5,434.1 L410.2,435.2 L411,435.3 L411.8,437.7 L412.5,435.6 L413.2,435.6 L414,438.3 L414.8,438.7 L415.5,438.1 L416.2,437.7 L417,439.7 L417.8,440.4 L418.5,439.8 L419.2,442.4 L420,442.3 L420.8,441.9 L421.5,441.3 L422.2,445.5 L423,449.1 L423.8,451.1 L424.5,453 L425.2,449.8 L426,453 L426.8,451.3 L427.5,450.8 L428.2,449.6 L429,450.9 L429.8,451.9 L430.5,450.2 L431.2,451.9 L432,451 L432.8,449.3 L433.5,447.6 L434.2,446.1 L435,443.7 L435.8,441.5 L436.5,440.7 L437.2,437.8 L438,437 L438.8,435.2 L439.5,432.4 L440.2,432 L441,433.2 L441.8,432.8 L442.5,434.2 L443.2,434 L444,434.3 L444.8,435.5 L445.5,435.6 L446.2,437.6 L447,437.1 L447.8,436.7 L448.5,436 L449.2,435.8 L450,434.5 L450.8,431.5 L451.5,429.5 L452.2,428.7 L453,428.8 L453.8,428.4 L454.5,425.5 L455.2,424.6 L456,423.8 L456.8,423.4 L457.5,424.9 L458.2,424.7 L459,426.2 L459.8,426.5 L460.5,427.3 L461.2,426.8 L462,427.4 L462.8,427.5 L463.5,427.8 L464.2,427.1 L465,428.8 L465.8,427.1 L466.5,427.7 L467.2,427.4 L468,428.4 L468.8,427.9 L469.5,427.6 L470.2,427.4 L471,427.1 L471.8,429.7 L472.5,430.4 L473.2,429.7 L474,429.1 L474.8,432.5 L475.5,432.3 L476.2,431.8 L477,434.8 L477.8,433.4 L478.5,435.4 L479.2,439.4 L480,439 L480.8,442.8 L481.5,444.8 L482.2,444.6 L483,445.9 L483.8,446 L484.5,447.2 L485.2,450.8 L486,452.6 L486.8,451 L487.5,451.1 L488.2,448.6 L489,446.1 L489.8,446.3 L490.5,445 L491.2,442.1 L492,445.5 L492.8,443.5 L493.5,438.6 L494.2,442.5 L495,440.2 L495.8,441.2 L496.5,439.5 L497.2,436.8 L498,437.5 L498.8,436.7 L499.5,434.3 L500.2,433 L501,434.5 L501.8,435.5 L502.5,437.5 L503.2,438.2 L504,435.7 L504.8,433.4 L505.5,432.4 L506.2,432.5 L507,433.1 L507.8,432 L508.5,433.5 L509.2,431.5 L510,431.7 L510.8,432.7 L511.5,431.4 L512.2,432.7 L513,432.9 L513.8,431.4 L514.5,432.4 L515.2,432.9 L516,433.3 L516.8,433.4 L517.5,432.1 L518.2,432 L519,432.5 L519.8,431.7 L520.5,431.2 L521.2,430.1 L522,431.7 L522.8,429.9 L523.5,428.9 L524.2,431.8 L525,431.8 L525.8,432.8 L526.5,432.9 L527.2,432.3 L528,431.5 L528.8,431.7 L529.5,430.9 L530.2,430.6 L531,430.8 L531.8,428.6 L532.5,427.4 L533.2,427.1 L534,423.7 L534.8,424.8 L535.5,424.8 L536.2,424.7 L537,423.6 L537.8,424.1 L538.5,421.5 L539.2,420.4 L540,420.7 L540.8,420.3 L541.5,421.5 L542.2,420.6 L543,419 L543.8,418.1 L544.5,418.6 L545.2,417 L546,418.1 L546.8,416.8 L547.5,416.2 L548.2,415.8 L549,415.5 L549.8,416.2 L550.5,415.1 L551.2,416.8 L552,418.8 L552.8,416.6 L553.5,418.7 L554.2,418.6 L555,417.8 L555.8,420.4 L556.5,420.9 L557.2,419.5 L558,420.3 L558.8,420.8 L559.5,420.5 L560.2,421.2 L561,421.4 L561.8,422.5 L562.5,424.3 L563.2,422.1 L564,423.8 L564.8,423.8 L565.5,424.5 L566.2,424.6 L567,422 L567.8,424.7 L568.5,426.6 L569.2,425.6 L570,425.3 L570.8,425.1 L571.5,426.1 L572.2,428.2 L573,422.9 L573.8,427.1 L574.5,427.7 L575.2,422.3 L576,423.6 L576.8,422.3 L577.5,423.3 L578.2,422.7 L579,424.5 L579.8,423.5 L580.5,423.7 L581.2,424.7 L582,424.6 L582.8,423.5 L583.5,424.2 L584.2,423.4 L585,424.7 L585.8,423 L586.5,423 L587.2,425.2 L588,425.6 L588.8,427 L589.5,426.4 L590.2,425.1 L591,426 L591.8,426.2 L592.5,425.9 L593.2,426.1 L594,425.5 L594.8,426.7 L595.5,426 L596.2,425.6 L597,426.2 L597.8,424 L598.5,428.1 L599.2,426.2 L600,425 L600.8,426.7 L601.5,426.6 L602.2,425.3 L603,424.2 L603.8,426 L604.5,424.5 L605.2,423.8 L606,425.6 L606.8,426.9 L607.5,426.4 L608.2,426.4 L609,427.5 L609.8,426.7 L610.5,426.7 L611.2,424.2 L612,422.8 L612.8,423 L613.5,424.4 L614.2,425.1 L615,426.3 L615.8,426.8 L616.5,427.1 L617.2,425.7 L618,425.4 L618.8,424.5 L619.5,426.3 L620.2,425.7 L621,425.3 L621.8,423.9 L622.5,426.9 L623.2,427.5 L624,428.4 L624.8,428.5 L625.5,427.1 L626.2,428.4 L627,428.2 L627.8,430.4 L628.5,432.1 L629.2,432.8 L630,431.1 L630.8,430.6 L631.5,427.5 L632.2,425.4 L633,427.7 L633.8,427.9 L634.5,428.5 L635.2,433.8 L636,436.3 L636.8,439 L637.5,439.5 L638.2,440.1 L639,441.8 L639.8,437.9 L640.5,439.8 L641.2,441.3 L642,442 L642.8,440.9 L643.5,439 L644.2,440.5 L645,441.3 L645.8,440 L646.5,439.6 L647.2,439.8 L648,441.4 L648.8,442.2 L649.5,440.3 L650.2,439.7 L651,439.7 L651.8,439.7 L652.5,440.3 L653.2,440.4 L654,441.9 L654.8,441.2 L655.5,442.7 L656.2,441.2 L657,440.1 L657.8,438.2 L658.5,434.8 L659.2,431.5 L660,428.2 L660.8,425.3 L661.5,421 L662.2,417.9 L663,415.1 L663.8,412 L664.5,414 L665.2,415 L666,415 L666.8,410.6 L667.5,412.7 L668.2,413.7 L669,413.2 L669.8,416.8 L670.5,412.3 L671.2,413 L672,412.2 L672.8,412.5 L673.5,411.9 L674.2,412 L675,411.7 L675.8,411.7 L676.5,412.1 L677.2,412.2 L678,413.4 L678.8,413.5 L679.5,415 L680.2,416.2 L681,415.3 L681.8,417.3 L682.5,420 L683.2,424.9 L684,422 L684.8,422.1 L685.5,422.6 L686.2,424.5 L687,424.5 L687.8,421.1 L688.5,421 L689.2,423.6 L690,425.2 L690.8,425.1 L691.5,424.2 L692.2,425.3 L693,424.1 L693.8,427.3 L694.5,423.9 L695.2,425.3 L696,424.7 L696.8,423.7 L697.5,423.4 L698.2,422.5 L699,423.7 L699.8,422.5 L700.5,424.2 L701.2,422.5 L702,424.3 L702.8,424.1 L703.5,423.5 L704.2,424.5 L705,422.8 L705.8,421.7 L706.5,421 L707.2,417.9 L708,416.8 L708.8,415.3 L709.5,414.7 L710.2,416.1 L711,416.5 L711.8,415.4 L712.5,415.7 L713.2,416.9 L714,418.1 L714.8,416.9 L715.5,416.5 L716.2,415.9 L717,417.1 L717.8,415.3 L718.5,416.2 L719.2,416.3 L720,413.8 L720.8,412.7 L721.5,411.6 L722.2,412.7 L723,414.3 L723.8,412.4 L724.5,413.6 L725.2,410.8 L726,412.2 L726.8,411.4 L727.5,412.1 L728.2,411.4 L729,415.3 L729.8,411.5 L730.5,410.3 L731.2,407.8 L732,406.7 L732.8,406.4 L733.5,406.5 L734.2,405.3 L735,405.3 L735.8,405.7 L736.5,405 L737.2,408.2 L738,408.8 L738.8,408.2 L739.5,409.6 L740.2,409.9 L741,408.7 L741.8,408.9 L742.5,410.2 L743.2,409.4 L744,408.1 L744.8,407.1 L745.5,408.8 L746.2,410.7 L747,411.7 L747.8,409.9 L748.5,410.4 L749.2,408.5 L750,408.9 L750.8,409.7 L751.5,408.1 L752.2,409.8 L753,410.7 L753.8,411.6 L754.5,412.6 L755.2,413.2 L756,414.7 L756.8,415.2 L757.5,415.9 L758.2,418.3 L759,417.3 L759.8,417.5 L760.5,416.4 L761.2,414.8 L762,412.2 L762.8,415 L763.5,410.8 L764.2,411.6 L765,409.9 L765.8,408.9 L766.5,409.2 L767.2,407.9 L768,407 L768.8,406.9 L769.5,404.9 L770.2,404.5 L771,406.5 L771.8,405.2 L772.5,405.7 L773.2,407.4 L774,406.9 L774.8,404.9 L775.5,403.8 L776.2,403.8 L777,405.1 L777.8,403 L778.5,404.6 L779.2,403.9 L780,403.8 L780.8,404.2 L781.5,405.1 L782.2,400.3 L783,405.2 L783.8,405.2 L784.5,404.9 L785.2,405.2 L786,407.4 L786.8,408.4 L787.5,408.5 L788.2,407.2 L789,407.4 L789.8,409.4 L790.5,410.3 L791.2,411.3 L792,411.5 L792.8,412.2 L793.5,410.7 L794.2,411.3 L795,412.9 L795.8,413.4 L796.5,413.2 L797.2,415.3 L798,418.7 L798.8,415.7 L799.5,415.8 L800.2,416.4 L801,415 L801.8,415 L802.5,414.4 L803.2,414.4 L804,413.7 L804.8,414.5 L805.5,414.2 L806.2,416.3 L807,417.8 L807.8,417.3 L808.5,418.1 L809.2,417.3 L810,416.3 L810.8,417.4 L811.5,419 L812.2,414.2 L813,413.2 L813.8,411.3 L814.5,414.4 L815.2,415.1 L816,415.1 L816.8,415.3 L817.5,418.3 L818.2,422.8 L819,425.3 L819.8,426 L820.5,425.2 L821.2,427.5 L822,427.7 L822.8,427.7 L823.5,427 L824.2,428.4 L825,428.8 L825.8,428.6 L826.5,428.7 L827.2,427.9 L828,428.7 L828.8,429 L829.5,427.1 L830.2,427.3 L831,426.4 L831.8,426.6 L832.5,426 L833.2,425 L834,426 L834.8,424.6 L835.5,427.3 L836.2,423.8 L837,423.4 L837.8,423.5 L838.5,422.1 L839.2,425 L840,426.7 L840.8,428.2 L841.5,429.1 L842.2,429.9 L843,429.9 L843.8,427.5 L844.5,427 L845.2,427.4 L846,428.5 L846.8,426.1 L847.5,427 L848.2,427.7 L849,428.4 L849.8,428.9 L850.5,428.5 L851.2,428.7 L852,426.7 L852.8,425.8 L853.5,427.5 L854.2,427.9 L855,425.8 L855.8,428.1 L856.5,428 L857.2,431 L858,427.9 L858.8,428 L859.5,428.9 L860.2,431.9 L861,434.1 L861.8,436.6 L862.5,436.6 L863.2,435.1 L864,439.4 L864.8,440.1 L865.5,441.9 L866.2,443.8 L867,443.1 L867.8,443.6 L868.5,443.2 L869.2,444.6 L870,445.7 L870.8,445.3 L871.5,441.4 L872.2,444.6 L873,443.4 L873.8,444 L874.5,444.4 L875.2,444.2 L876,444.9 L876.8,445.3 L877.5,446 L878.2,445.3 L879,447 L879.8,448.4 L880.5,448 L881.2,450 L882,448.8 L882.8,449.8 L883.5,453.2 L884.2,455.2 L885,453.1 L885.8,450.4 L886.5,450.3 L887.2,448.5 L888,449.2 L888.8,448 L889.5,448.9 L890.2,451.4 L891,448.6 L891.8,449.3 L892.5,450.7 L893.2,450.6 L894,451.3 L894.8,450.2 L895.5,450.6 L896.2,451.7 L897,451.8 L897.8,452.5 L898.5,450.9 L899.2,451.4 L900,448.3 L900.8,449.1 L901.5,451.7 L902.2,450.2 L903,449.4 L903.8,450.4 L904.5,452.3 L905.2,449.7 L906,450.2 L906.8,450.5 L907.5,450.1 L908.2,449 L909,449.4 L909.8,450.9 L910.5,450.3 L911.2,448.9 L912,449.7 L912.8,449 L913.5,448.5 L914.2,448.3 L915,451.2 L915.8,450.7 L916.5,449.8 L917.2,450.6 L918,450.7 L918.8,450.4 L919.5,448.9 L920.2,450.9 L921,452.8 L921.8,454 L922.5,452.7 L923.2,451.9 L924,453.9 L924.8,454.7 L925.5,454.9 L926.2,453.3 L927,454.2 L927.8,452.6 L928.5,452.4 L929.2,452.6 L930,454.9 L930.8,457 L931.5,459.4 L932.2,459.8 L933,461.3 L933.8,462.7 L934.5,465.1 L935.2,466.2 L936,468 L936.8,468.2 L937.5,466.4 L938.2,465.8 L939,465.4 L939.8,464.3 L940.5,466.1 L941.2,464.5 L942,465.7 L942.8,465.2 L943.5,465.4 L944.2,466.8 L945,467.7 L945.8,466.7 L946.5,465.3 L947.2,466.5 L948,466.8 L948.8,466.1 L949.5,462.9 L950.2,460.2 L951,459.7 L951.8,457.6 L952.5,461.7 L953.2,458.1 L954,456.7 L954.8,458.7 L955.5,457.1 L956.2,456.4 L957,456.8 L957.8,456.7 L958.5,457.7 L959.2,457.1 L960,458.5 L960.8,457.6 L961.5,459.3 L962.2,459 L963,459.3 L963.8,458.3 L964.5,458.1 L965.2,458.8 L966,459.3 L966.8,459.4 L967.5,459.2 L968.2,458.9 L969,459.1 L969.8,458.2 L970.5,461.5 L971.2,459.5 L972,458 L972.8,459.5 L973.5,457.7 L974.2,457.5 L975,459.6 L975.8,458 L976.5,460.7 L977.2,460.9 L978,458.9 L978.8,457.4 L979.5,459 L980.2,457.4 L981,458.4 L981.8,456.7 L982.5,456.7 L983.2,457.4 L984,458.6 L984.8,456.9 L985.5,457.5 L986.2,457.5 L987,457.1 L987.8,456.7 L988.5,458.5 L989.2,457.4 L990,457.6 L990.8,456.9 L991.5,456.4 L992.2,455.6 L993,455.4 L993.8,455.9 L994.5,457.9 L995.2,458 L996,458 L996.8,459.8 L997.5,460.1 L998.2,458.6 L999,459 L999.8,459.9 L1000.5,460.4 L1001.2,459.1 L1002,459.9 L1002.8,459.7 L1003.5,458.5 L1004.2,457.7 L1005,457.4 L1005.8,456.8 L1006.5,456.7 L1007.2,455.9 L1008,457.7 L1008.8,458.7 L1009.5,458.3 L1010.2,458.6 L1011,457 L1011.8,461.5 L1012.5,457.9 L1013.2,457.9 L1014,459.7 L1014.8,459.5 L1015.5,458.9 L1016.2,460.1 L1017,460.4 L1017.8,460.8 L1018.5,459 L1019.2,457.5 L1020,459.2 L1020.8,460.1 L1021.5,459.6 L1022.2,459.6 L1023,462.3 L1023.8,464.1 L1024.5,466.5 L1025.2,468.8 L1026,470.2 L1026.8,470.6 L1027.5,470.6 L1028.2,467.8 L1029,467.8 L1029.8,468.1 L1030.5,466.4 L1031.2,465.6 L1032,466.6 L1032.8,465.8 L1033.5,465.7 L1034.2,465.9 L1035,468.3 L1035.8,464.7 L1036.5,465.3 L1037.2,463.8 L1038,462.6 L1038.8,461.7 L1039.5,459.5 L1040.2,460.9 L1041,462.4 L1041.8,463.2 L1042.5,464.1 L1043.2,464.9 L1044,464.6 L1044.8,463.6 L1045.5,465.2 L1046.2,462.5 L1047,463.7 L1047.8,463.7 L1048.5,464.4 L1049.2,465.6 L1050,464.4 L1050.8,463.3 L1051.5,464.5 L1052.2,464.6 L1053,463.4 L1053.8,463.4 L1054.5,466.1 L1055.2,465.1 L1056,469.2 L1056.8,471 L1057.5,474 L1058.2,472.5 L1059,468.9 L1059.8,464.7 L1060.5,463.4 L1061.2,464.7 L1062,464.1 L1062.8,463.7 L1063.5,462.4 L1064.2,461.7 L1065,463.4 L1065.8,462.3 L1066.5,462.7 L1067.2,462.4 L1068,459.4 L1068.8,459 L1069.5,459.1 L1070.2,458.4 L1071,456.5 L1071.8,456.6 L1072.5,455.7 L1073.2,455.2 L1074,456.7 L1074.8,452.7 L1075.5,454.4 L1076.2,454.8 L1077,453.4 L1077.8,453.8 L1078.5,455.5 L1079.2,456.6 L1080,458.7 L1080.8,461.2 L1081.5,461.1 L1082.2,461.7 L1083,463.1 L1083.8,461.8 L1084.5,461.7 L1085.2,460.8 L1086,459.3 L1086.8,459.8 L1087.5,459.4 L1088.2,458.5 L1089,459.8 L1089.8,460.5 L1090.5,459.3 L1091.2,459.3 L1092,459.3" stroke="#52b85c" stroke-width="2.7" fill="none" stroke-linejoin="round"/>
<path d="M141,200.3 L141.8,200.3 L142.5,200.3 L143.2,199.1 L144,200.5 L144.8,200.3 L145.5,200.6 L146.2,201.5 L147,202.4 L147.8,201.1 L148.5,199.3 L149.2,199.2 L150,199.7 L150.8,202.5 L151.5,205.6 L152.2,208.7 L153,208.9 L153.8,207.3 L154.5,206.8 L155.2,206 L156,207.3 L156.8,209.1 L157.5,210.2 L158.2,213.7 L159,213.5 L159.8,212.8 L160.5,211.2 L161.2,212.8 L162,213.7 L162.8,214 L163.5,213.9 L164.2,213.7 L165,215.1 L165.8,215.9 L166.5,216.5 L167.2,214.8 L168,213.7 L168.8,212.9 L169.5,213.3 L170.2,212.7 L171,211 L171.8,209.5 L172.5,211.4 L173.2,211 L174,212.5 L174.8,213.6 L175.5,213.3 L176.2,212.8 L177,214.6 L177.8,214.3 L178.5,215.3 L179.2,217.5 L180,217.6 L180.8,217.7 L181.5,216 L182.2,211.9 L183,211.7 L183.8,210.6 L184.5,210 L185.2,209.4 L186,210.7 L186.8,211.1 L187.5,213.4 L188.2,211.5 L189,210.6 L189.8,214.3 L190.5,213 L191.2,211.9 L192,209.3 L192.8,209.1 L193.5,208.7 L194.2,209.9 L195,210.1 L195.8,209.6 L196.5,204.6 L197.2,207 L198,209.3 L198.8,210 L199.5,209.2 L200.2,207.5 L201,209 L201.8,208.4 L202.5,207.2 L203.2,204.3 L204,208.8 L204.8,208.3 L205.5,206.8 L206.2,206.3 L207,208.8 L207.8,207.6 L208.5,209.7 L209.2,209.5 L210,209 L210.8,210 L211.5,208.9 L212.2,209.6 L213,209.4 L213.8,210.4 L214.5,208.3 L215.2,208.5 L216,210 L216.8,209.1 L217.5,210.7 L218.2,209.3 L219,209.2 L219.8,209.6 L220.5,208.6 L221.2,206.2 L222,205.2 L222.8,205.8 L223.5,205.2 L224.2,204.5 L225,205.4 L225.8,206.7 L226.5,206.4 L227.2,202.4 L228,207.2 L228.8,209.3 L229.5,208.6 L230.2,206.3 L231,207.4 L231.8,208.4 L232.5,207.1 L233.2,206.5 L234,206.7 L234.8,205.6 L235.5,207.6 L236.2,205.7 L237,205 L237.8,204.1 L238.5,204.3 L239.2,205.8 L240,207.4 L240.8,209.5 L241.5,213.8 L242.2,209 L243,211.7 L243.8,210.1 L244.5,208.8 L245.2,210.4 L246,210.3 L246.8,209.3 L247.5,209.2 L248.2,208.7 L249,211.4 L249.8,211.4 L250.5,211.9 L251.2,210.1 L252,209 L252.8,210.1 L253.5,209.1 L254.2,209.4 L255,206.2 L255.8,208.2 L256.5,206.9 L257.2,209.2 L258,209.2 L258.8,207.8 L259.5,205.5 L260.2,204.3 L261,205.8 L261.8,204.1 L262.5,203.5 L263.2,202.5 L264,201.5 L264.8,200.6 L265.5,203.6 L266.2,206.6 L267,207.9 L267.8,205.8 L268.5,204.6 L269.2,204.1 L270,201.1 L270.8,202.6 L271.5,207.5 L272.2,217.8 L273,219.5 L273.8,216.3 L274.5,215 L275.2,212.4 L276,212 L276.8,212.1 L277.5,212.4 L278.2,214.4 L279,214.5 L279.8,216.6 L280.5,217.9 L281.2,219.9 L282,220.4 L282.8,220.2 L283.5,222.1 L284.2,224.7 L285,222.7 L285.8,227.9 L286.5,230.1 L287.2,229.3 L288,227.6 L288.8,225.8 L289.5,225.8 L290.2,224.3 L291,224.4 L291.8,224.1 L292.5,226.5 L293.2,228.8 L294,230 L294.8,231.8 L295.5,232.2 L296.2,229.6 L297,226.3 L297.8,225.1 L298.5,224.1 L299.2,223.1 L300,222.5 L300.8,222.5 L301.5,221.6 L302.2,220.3 L303,219.6 L303.8,218.8 L304.5,217.2 L305.2,217.3 L306,216.6 L306.8,214.7 L307.5,214.9 L308.2,210.3 L309,211.2 L309.8,210.6 L310.5,210 L311.2,209.8 L312,210.4 L312.8,209.9 L313.5,210.5 L314.2,210 L315,209.1 L315.8,210.4 L316.5,211 L317.2,213.1 L318,215.8 L318.8,215.5 L319.5,212.9 L320.2,211 L321,208.3 L321.8,208.9 L322.5,208.9 L323.2,209.7 L324,209.8 L324.8,211.2 L325.5,209.3 L326.2,209.5 L327,210.2 L327.8,209.1 L328.5,208.9 L329.2,208.6 L330,208.1 L330.8,207.3 L331.5,207.1 L332.2,206.4 L333,208 L333.8,205.9 L334.5,208.8 L335.2,209.5 L336,211.5 L336.8,213.6 L337.5,213.4 L338.2,212.6 L339,211 L339.8,211.9 L340.5,209.7 L341.2,209.3 L342,208 L342.8,210.3 L343.5,210.4 L344.2,209.2 L345,211.4 L345.8,210.8 L346.5,212.5 L347.2,212.9 L348,214.6 L348.8,214.2 L349.5,212.2 L350.2,213.1 L351,214.5 L351.8,216.3 L352.5,220.5 L353.2,219.9 L354,221.3 L354.8,220.2 L355.5,221.6 L356.2,221.8 L357,223.1 L357.8,223.8 L358.5,226.7 L359.2,229.5 L360,236.2 L360.8,234.9 L361.5,232.7 L362.2,233.7 L363,234.9 L363.8,238.5 L364.5,240.2 L365.2,243.2 L366,240.4 L366.8,246.8 L367.5,247.5 L368.2,249 L369,246.4 L369.8,243.7 L370.5,238.9 L371.2,234 L372,230.3 L372.8,229.8 L373.5,230.9 L374.2,233.4 L375,240.6 L375.8,241.4 L376.5,244.2 L377.2,242.8 L378,238.1 L378.8,234.4 L379.5,239.2 L380.2,237.3 L381,235.9 L381.8,239 L382.5,241.8 L383.2,241.8 L384,242.2 L384.8,244.9 L385.5,243.3 L386.2,240.1 L387,238.4 L387.8,236.8 L388.5,235.2 L389.2,235.7 L390,236.5 L390.8,235.6 L391.5,235.5 L392.2,238.9 L393,235.1 L393.8,232.8 L394.5,231.1 L395.2,232.2 L396,230.6 L396.8,232.1 L397.5,231.5 L398.2,229.7 L399,229.8 L399.8,229.5 L400.5,233.8 L401.2,234.4 L402,233.7 L402.8,235.6 L403.5,235 L404.2,237.3 L405,237.4 L405.8,237.8 L406.5,238.8 L407.2,239.8 L408,239.1 L408.8,238.2 L409.5,237.8 L410.2,236.3 L411,234 L411.8,233.4 L412.5,230.4 L413.2,231.5 L414,231.8 L414.8,231.5 L415.5,232.9 L416.2,232.2 L417,231.8 L417.8,232.5 L418.5,232.9 L419.2,234.3 L420,234.9 L420.8,236.6 L421.5,239.1 L422.2,238.7 L423,238 L423.8,234.6 L424.5,234.9 L425.2,237.2 L426,239.2 L426.8,242.6 L427.5,243.9 L428.2,245.8 L429,244.6 L429.8,246 L430.5,247.1 L431.2,245.8 L432,244 L432.8,244.4 L433.5,243 L434.2,243.6 L435,239.2 L435.8,240.7 L436.5,239.2 L437.2,240.4 L438,239.1 L438.8,239.2 L439.5,239.9 L440.2,239.4 L441,240.1 L441.8,239.8 L442.5,240.5 L443.2,238.4 L444,239.5 L444.8,239.4 L445.5,240.7 L446.2,242.1 L447,242.6 L447.8,244.1 L448.5,246.4 L449.2,248.7 L450,247.6 L450.8,247.4 L451.5,244.4 L452.2,243.8 L453,241.7 L453.8,240.3 L454.5,240 L455.2,240.8 L456,242.6 L456.8,240.1 L457.5,240.3 L458.2,242.1 L459,243.2 L459.8,243.1 L460.5,241.5 L461.2,240.2 L462,239.7 L462.8,239 L463.5,238.1 L464.2,236.4 L465,236 L465.8,237.6 L466.5,239.8 L467.2,239.6 L468,239.9 L468.8,240 L469.5,239.7 L470.2,240.2 L471,237.7 L471.8,239.1 L472.5,236.8 L473.2,237.1 L474,236.3 L474.8,236.9 L475.5,236.4 L476.2,235.9 L477,234.9 L477.8,236.5 L478.5,236.7 L479.2,237.6 L480,237.2 L480.8,236.8 L481.5,237.5 L482.2,237 L483,236.4 L483.8,236.5 L484.5,238.8 L485.2,240.2 L486,240 L486.8,239.9 L487.5,241.1 L488.2,243.4 L489,243.2 L489.8,243.5 L490.5,244.4 L491.2,247.5 L492,245.6 L492.8,245.1 L493.5,245.6 L494.2,244.3 L495,245.3 L495.8,244.1 L496.5,244.3 L497.2,245.3 L498,244.5 L498.8,243.5 L499.5,244 L500.2,242.8 L501,243 L501.8,243.4 L502.5,243.9 L503.2,245.4 L504,240.8 L504.8,242.1 L505.5,241.9 L506.2,240.5 L507,241.8 L507.8,242.4 L508.5,241.2 L509.2,241.2 L510,242.6 L510.8,242.8 L511.5,244.5 L512.2,245.6 L513,246.1 L513.8,246.4 L514.5,245.9 L515.2,246.4 L516,247 L516.8,249.6 L517.5,250.3 L518.2,249.8 L519,250.8 L519.8,252.6 L520.5,251.2 L521.2,250.6 L522,250.8 L522.8,253 L523.5,249 L524.2,250.8 L525,249.8 L525.8,249.9 L526.5,251.1 L527.2,251.4 L528,252.4 L528.8,250.1 L529.5,248.4 L530.2,247 L531,247.9 L531.8,245 L532.5,245.8 L533.2,244 L534,247.5 L534.8,245.5 L535.5,247.7 L536.2,240.7 L537,244.9 L537.8,245.6 L538.5,245.3 L539.2,244.9 L540,247.2 L540.8,247.6 L541.5,245.3 L542.2,243.7 L543,239.1 L543.8,240.1 L544.5,239.4 L545.2,239.6 L546,241.3 L546.8,244.4 L547.5,241.7 L548.2,241.9 L549,241.2 L549.8,241.3 L550.5,240.5 L551.2,239.9 L552,237.5 L552.8,237.2 L553.5,234.1 L554.2,234.4 L555,231.5 L555.8,231.5 L556.5,230.7 L557.2,233.2 L558,234.1 L558.8,234.3 L559.5,235 L560.2,235.8 L561,236.5 L561.8,237.3 L562.5,238.2 L563.2,239.5 L564,237.6 L564.8,237.7 L565.5,238.1 L566.2,237.4 L567,236.9 L567.8,237.3 L568.5,238.8 L569.2,238.8 L570,239 L570.8,238.1 L571.5,236.4 L572.2,236.5 L573,235.9 L573.8,238.2 L574.5,239.4 L575.2,237.8 L576,238.2 L576.8,236.1 L577.5,235.2 L578.2,235.9 L579,236.9 L579.8,235.8 L580.5,237.4 L581.2,235.7 L582,234.6 L582.8,233.6 L583.5,235.5 L584.2,234.8 L585,235.7 L585.8,235.1 L586.5,234.4 L587.2,233.2 L588,232.5 L588.8,233.1 L589.5,234.1 L590.2,235.2 L591,232.7 L591.8,232.5 L592.5,234 L593.2,237.1 L594,237.2 L594.8,237.7 L595.5,238.1 L596.2,238.4 L597,238 L597.8,237.9 L598.5,238.3 L599.2,239.1 L600,239.6 L600.8,238.3 L601.5,238.4 L602.2,239.1 L603,238.8 L603.8,239.1 L604.5,240.4 L605.2,240.7 L606,241.5 L606.8,241.4 L607.5,240.6 L608.2,242 L609,241.3 L609.8,242.9 L610.5,244.7 L611.2,243.4 L612,244.4 L612.8,244.6 L613.5,243.1 L614.2,242.8 L615,242.5 L615.8,240.2 L616.5,243.2 L617.2,241.1 L618,240.8 L618.8,242.6 L619.5,240.9 L620.2,241.7 L621,240.8 L621.8,240.1 L622.5,241.6 L623.2,241.3 L624,240.4 L624.8,237.2 L625.5,242.9 L626.2,243.5 L627,240 L627.8,244.8 L628.5,245.4 L629.2,245.5 L630,244.2 L630.8,244.4 L631.5,243.3 L632.2,240.8 L633,241.8 L633.8,242.3 L634.5,239.8 L635.2,238.5 L636,239.4 L636.8,240.5 L637.5,240.8 L638.2,239.7 L639,241.1 L639.8,238.8 L640.5,241.5 L641.2,239.6 L642,235.7 L642.8,240.1 L643.5,239.4 L644.2,237.7 L645,234.7 L645.8,234.6 L646.5,234.9 L647.2,234.9 L648,235.3 L648.8,234.1 L649.5,235.6 L650.2,236.3 L651,236.1 L651.8,236.6 L652.5,235.4 L653.2,236.6 L654,233.1 L654.8,233.1 L655.5,231.8 L656.2,231.5 L657,229.7 L657.8,226.7 L658.5,225.7 L659.2,226.4 L660,223.3 L660.8,222.3 L661.5,223.4 L662.2,219.4 L663,220.7 L663.8,221.7 L664.5,221.2 L665.2,220.7 L666,223.4 L666.8,224.3 L667.5,226 L668.2,224.1 L669,227.2 L669.8,223.9 L670.5,223 L671.2,221.9 L672,224.9 L672.8,220.4 L673.5,221.5 L674.2,222.6 L675,223.8 L675.8,224.1 L676.5,225.7 L677.2,225.7 L678,224.7 L678.8,223.4 L679.5,221.9 L680.2,223.4 L681,224.2 L681.8,228.2 L682.5,228.6 L683.2,230.4 L684,231.6 L684.8,232.6 L685.5,234.2 L686.2,235.8 L687,235.9 L687.8,235.4 L688.5,236.8 L689.2,238.6 L690,234.9 L690.8,239 L691.5,239.2 L692.2,240.1 L693,239.2 L693.8,238.2 L694.5,238.4 L695.2,238.7 L696,239.8 L696.8,239.6 L697.5,240.5 L698.2,240.2 L699,239.4 L699.8,239.4 L700.5,240 L701.2,237.8 L702,243.2 L702.8,245.1 L703.5,246.3 L704.2,248.8 L705,246.2 L705.8,245.4 L706.5,244.4 L707.2,243.5 L708,242.8 L708.8,239.7 L709.5,240.8 L710.2,239.2 L711,242.8 L711.8,242.9 L712.5,242.1 L713.2,241.2 L714,239.3 L714.8,239.5 L715.5,241.6 L716.2,241.4 L717,239.8 L717.8,242.2 L718.5,242.2 L719.2,244.8 L720,248.4 L720.8,244.6 L721.5,246.7 L722.2,245.8 L723,245.5 L723.8,243.8 L724.5,244.9 L725.2,244 L726,244.4 L726.8,242.3 L727.5,240.8 L728.2,240 L729,237.4 L729.8,234.4 L730.5,233.5 L731.2,229.7 L732,231.1 L732.8,229.4 L733.5,231.1 L734.2,227.5 L735,230.4 L735.8,231.2 L736.5,230.5 L737.2,229.8 L738,233.6 L738.8,229.7 L739.5,230.7 L740.2,229.9 L741,231.9 L741.8,232.7 L742.5,231.2 L743.2,234.1 L744,230.3 L744.8,230.7 L745.5,227.4 L746.2,229.7 L747,231.2 L747.8,230.3 L748.5,230.7 L749.2,229.8 L750,230 L750.8,230.8 L751.5,231.7 L752.2,232.8 L753,232.1 L753.8,233.2 L754.5,234.1 L755.2,235.8 L756,233.9 L756.8,236.5 L757.5,237.7 L758.2,239.4 L759,238.3 L759.8,240.7 L760.5,242 L761.2,240.8 L762,239.2 L762.8,240.2 L763.5,239.3 L764.2,238.6 L765,237.5 L765.8,236.2 L766.5,234 L767.2,232.6 L768,231 L768.8,235.2 L769.5,238.2 L770.2,238.4 L771,238 L771.8,236.9 L772.5,234.4 L773.2,232.6 L774,233.3 L774.8,232.2 L775.5,233.3 L776.2,232.5 L777,231.1 L777.8,229 L778.5,231.7 L779.2,231.7 L780,231.3 L780.8,232.5 L781.5,233.7 L782.2,235.1 L783,235 L783.8,234.3 L784.5,234.1 L785.2,234.4 L786,234.1 L786.8,233.4 L787.5,233.4 L788.2,232.9 L789,234.9 L789.8,235.1 L790.5,235.9 L791.2,236.5 L792,236.7 L792.8,235.4 L793.5,235.7 L794.2,236.3 L795,234.7 L795.8,234.3 L796.5,235.9 L797.2,235.1 L798,236.5 L798.8,235.9 L799.5,235.5 L800.2,236.6 L801,238.2 L801.8,236.5 L802.5,237.6 L803.2,238.4 L804,236.2 L804.8,236.2 L805.5,236.8 L806.2,236.6 L807,237.7 L807.8,236.9 L808.5,236.3 L809.2,236 L810,238 L810.8,237.4 L811.5,237.3 L812.2,237.5 L813,238.5 L813.8,239.5 L814.5,239.6 L815.2,239.3 L816,239.9 L816.8,240.8 L817.5,240.2 L818.2,239.6 L819,239.2 L819.8,238.5 L820.5,238.9 L821.2,238.6 L822,237.3 L822.8,241.3 L823.5,239.2 L824.2,234.4 L825,237.1 L825.8,235.2 L826.5,235.9 L827.2,236.4 L828,236.6 L828.8,238.8 L829.5,238.9 L830.2,239.7 L831,239.5 L831.8,239.1 L832.5,238.1 L833.2,237.3 L834,238.2 L834.8,237.4 L835.5,238 L836.2,236.6 L837,236.6 L837.8,236.2 L838.5,235.2 L839.2,236.4 L840,236.7 L840.8,237.3 L841.5,237.7 L842.2,237.9 L843,237 L843.8,238.2 L844.5,237.4 L845.2,232.9 L846,237.6 L846.8,237.5 L847.5,238.7 L848.2,239.2 L849,238.5 L849.8,237.2 L850.5,239 L851.2,239.2 L852,239.1 L852.8,238.7 L853.5,238.1 L854.2,240.1 L855,240.1 L855.8,240.2 L856.5,239.5 L857.2,239.3 L858,238.7 L858.8,239.2 L859.5,239.4 L860.2,238.3 L861,237.5 L861.8,236.7 L862.5,236 L863.2,236.2 L864,237.1 L864.8,239 L865.5,238.9 L866.2,239.4 L867,239.1 L867.8,239.4 L868.5,238.3 L869.2,241.9 L870,237.9 L870.8,237.9 L871.5,237.2 L872.2,238.4 L873,239.9 L873.8,239.2 L874.5,239.2 L875.2,240.2 L876,239.9 L876.8,241.6 L877.5,242 L878.2,242.9 L879,240.3 L879.8,238.5 L880.5,236 L881.2,236.3 L882,240.2 L882.8,242.9 L883.5,243.8 L884.2,245.4 L885,245.8 L885.8,243.3 L886.5,244 L887.2,244.1 L888,242.8 L888.8,240.5 L889.5,241.5 L890.2,240.6 L891,240.3 L891.8,239.8 L892.5,240.1 L893.2,238.8 L894,239.6 L894.8,239.8 L895.5,241.8 L896.2,240.5 L897,241.5 L897.8,242.5 L898.5,245.3 L899.2,244.1 L900,244.4 L900.8,244.6 L901.5,243.7 L902.2,244 L903,243.3 L903.8,243.3 L904.5,242.3 L905.2,242.9 L906,241.8 L906.8,238.8 L907.5,240.8 L908.2,242.5 L909,241.4 L909.8,243 L910.5,241.5 L911.2,241.8 L912,241.9 L912.8,242.5 L913.5,242.8 L914.2,243.6 L915,245.2 L915.8,243.6 L916.5,245.3 L917.2,243.9 L918,245.4 L918.8,241.6 L919.5,245.3 L920.2,245.4 L921,245.3 L921.8,244 L922.5,245.2 L923.2,245.4 L924,244.1 L924.8,243.7 L925.5,243.1 L926.2,242.3 L927,243.2 L927.8,242.4 L928.5,241.3 L929.2,245.1 L930,240.8 L930.8,241.5 L931.5,241.7 L932.2,240.1 L933,240.1 L933.8,240.7 L934.5,242.9 L935.2,243.9 L936,243.2 L936.8,241.9 L937.5,241.9 L938.2,241 L939,241.9 L939.8,242.2 L940.5,242.4 L941.2,241.9 L942,238.7 L942.8,242.4 L943.5,241.6 L944.2,241.2 L945,242.7 L945.8,242.3 L946.5,245 L947.2,243.2 L948,241.3 L948.8,241.7 L949.5,244.1 L950.2,242.2 L951,243.6 L951.8,242.2 L952.5,242.1 L953.2,242.9 L954,242.3 L954.8,241.9 L955.5,237.3 L956.2,239.5 L957,241 L957.8,241 L958.5,240.1 L959.2,241.7 L960,241 L960.8,240.3 L961.5,239.3 L962.2,238.8 L963,239.7 L963.8,241.4 L964.5,239.1 L965.2,240 L966,241.4 L966.8,242.1 L967.5,240.9 L968.2,242.2 L969,240.5 L969.8,240.1 L970.5,239.8 L971.2,239.6 L972,241.7 L972.8,240 L973.5,241.7 L974.2,239.5 L975,240.7 L975.8,241.9 L976.5,241.7 L977.2,242.8 L978,241.4 L978.8,241.8 L979.5,242.2 L980.2,240.9 L981,239.2 L981.8,239.8 L982.5,239.3 L983.2,239.7 L984,239.7 L984.8,239.8 L985.5,240.7 L986.2,239.7 L987,239.7 L987.8,240.5 L988.5,239.7 L989.2,239.2 L990,238.4 L990.8,238.1 L991.5,239.9 L992.2,238 L993,240.1 L993.8,239.1 L994.5,238.8 L995.2,237.5 L996,237 L996.8,239.2 L997.5,239.8 L998.2,237.5 L999,237.6 L999.8,238.3 L1000.5,236.9 L1001.2,234 L1002,238 L1002.8,237 L1003.5,237.4 L1004.2,238.9 L1005,238.5 L1005.8,238.3 L1006.5,238.1 L1007.2,237.6 L1008,237.3 L1008.8,238.2 L1009.5,238.3 L1010.2,238.1 L1011,238.7 L1011.8,236.2 L1012.5,235 L1013.2,236.7 L1014,240.4 L1014.8,232.9 L1015.5,234 L1016.2,235.3 L1017,234.4 L1017.8,234.9 L1018.5,233.3 L1019.2,232.7 L1020,234.4 L1020.8,234.2 L1021.5,233.4 L1022.2,231.6 L1023,232.1 L1023.8,231.6 L1024.5,228.5 L1025.2,232.8 L1026,231.5 L1026.8,232.2 L1027.5,232.7 L1028.2,231.1 L1029,230.7 L1029.8,232.9 L1030.5,232.4 L1031.2,232.4 L1032,231.1 L1032.8,232.7 L1033.5,230.8 L1034.2,231.3 L1035,232.4 L1035.8,232.8 L1036.5,234 L1037.2,235.5 L1038,235.6 L1038.8,233.3 L1039.5,232.9 L1040.2,232.6 L1041,232.4 L1041.8,231.1 L1042.5,230 L1043.2,231.9 L1044,232.1 L1044.8,235.9 L1045.5,233.3 L1046.2,232.5 L1047,232.6 L1047.8,232.8 L1048.5,232.1 L1049.2,233 L1050,231.9 L1050.8,231 L1051.5,231.2 L1052.2,230.5 L1053,232.4 L1053.8,232 L1054.5,233.6 L1055.2,233.1 L1056,232.1 L1056.8,232.6 L1057.5,231.7 L1058.2,232.3 L1059,232.2 L1059.8,231.6 L1060.5,231 L1061.2,230.8 L1062,230 L1062.8,231.3 L1063.5,231.9 L1064.2,232 L1065,230.9 L1065.8,230.5 L1066.5,231.2 L1067.2,230 L1068,230.4 L1068.8,230.7 L1069.5,231.8 L1070.2,230.4 L1071,231.1 L1071.8,230.6 L1072.5,231.7 L1073.2,227.9 L1074,229.9 L1074.8,229 L1075.5,229.1 L1076.2,230 L1077,230.5 L1077.8,230 L1078.5,228 L1079.2,227 L1080,226.3 L1080.8,226.7 L1081.5,227.5 L1082.2,229.8 L1083,233.3 L1083.8,234.9 L1084.5,239.9 L1085.2,237.1 L1086,236.7 L1086.8,234.4 L1087.5,236.3 L1088.2,235.9 L1089,237.8 L1089.8,235.9 L1090.5,236.8 L1091.2,236.7 L1092,236.7" stroke="#eea43a" stroke-width="2.4" fill="none" stroke-linejoin="round"/>
<path d="M141.0,157.5H1092.0" stroke="#3a78d8" stroke-width="2.2"/>
<path d="M140.7,156.5V603.3H1092.0" stroke="#2a2a2a" stroke-opacity="0.8" stroke-width="1.3" fill="none"/>
<text x="129.5" y="607.3" text-anchor="end" font-family="Liberation Sans, Noto Sans CJK SC, sans-serif" font-size="12" fill="#363636">0%</text>
<text x="129.5" y="518.1" text-anchor="end" font-family="Liberation Sans, Noto Sans CJK SC, sans-serif" font-size="12" fill="#363636">20%</text>
<text x="129.5" y="428.9" text-anchor="end" font-family="Liberation Sans, Noto Sans CJK SC, sans-serif" font-size="12" fill="#363636">40%</text>
<text x="129.5" y="339.7" text-anchor="end" font-family="Liberation Sans, Noto Sans CJK SC, sans-serif" font-size="12" fill="#363636">60%</text>
<text x="129.5" y="250.5" text-anchor="end" font-family="Liberation Sans, Noto Sans CJK SC, sans-serif" font-size="12" fill="#363636">80%</text>
<text x="129.5" y="161.3" text-anchor="end" font-family="Liberation Sans, Noto Sans CJK SC, sans-serif" font-size="12" fill="#363636">100%</text>
<text x="141" y="621.7" text-anchor="middle" font-family="Liberation Sans, Noto Sans CJK SC, sans-serif" font-size="12" fill="#333">Jul 9, 2020</text>
<text x="208.7" y="637.5" text-anchor="middle" font-family="Liberation Sans, Noto Sans CJK SC, sans-serif" font-size="12" fill="#333">Oct 9, 2020</text>
<text x="276.4" y="621.7" text-anchor="middle" font-family="Liberation Sans, Noto Sans CJK SC, sans-serif" font-size="12" fill="#333">Jan 9, 2021</text>
<text x="344.1" y="637.5" text-anchor="middle" font-family="Liberation Sans, Noto Sans CJK SC, sans-serif" font-size="12" fill="#333">Apr 11, 2021</text>
<text x="411.8" y="621.7" text-anchor="middle" font-family="Liberation Sans, Noto Sans CJK SC, sans-serif" font-size="12" fill="#333">Jul 12, 2021</text>
<text x="479.5" y="637.5" text-anchor="middle" font-family="Liberation Sans, Noto Sans CJK SC, sans-serif" font-size="12" fill="#333">Oct 12, 2021</text>
<text x="547.2" y="621.7" text-anchor="middle" font-family="Liberation Sans, Noto Sans CJK SC, sans-serif" font-size="12" fill="#333">Jan 12, 2022</text>
<text x="614.9" y="637.5" text-anchor="middle" font-family="Liberation Sans, Noto Sans CJK SC, sans-serif" font-size="12" fill="#333">Apr 14, 2022</text>
<text x="682.6" y="621.7" text-anchor="middle" font-family="Liberation Sans, Noto Sans CJK SC, sans-serif" font-size="12" fill="#333">Jul 15, 2022</text>
<text x="750.3" y="637.5" text-anchor="middle" font-family="Liberation Sans, Noto Sans CJK SC, sans-serif" font-size="12" fill="#333">Oct 15, 2022</text>
<text x="818" y="621.7" text-anchor="middle" font-family="Liberation Sans, Noto Sans CJK SC, sans-serif" font-size="12" fill="#333">Jan 15, 2023</text>
<text x="885.7" y="637.5" text-anchor="middle" font-family="Liberation Sans, Noto Sans CJK SC, sans-serif" font-size="12" fill="#333">Apr 17, 2023</text>
<text x="953.4" y="621.7" text-anchor="middle" font-family="Liberation Sans, Noto Sans CJK SC, sans-serif" font-size="12" fill="#333">Jul 18, 2023</text>
<text x="1021.1" y="637.5" text-anchor="middle" font-family="Liberation Sans, Noto Sans CJK SC, sans-serif" font-size="12" fill="#333">Oct 18, 2023</text>
<text x="1088.8" y="621.7" text-anchor="middle" font-family="Liberation Sans, Noto Sans CJK SC, sans-serif" font-size="12" fill="#333">Jan 18, 2…</text>
<path d="M773,171V215" stroke="#111" stroke-width="2.6"/><polygon fill="#111" points="773,160 780,172 766,172"/><polygon fill="#111" points="773,226 780,214 766,214"/>
<path d="M773,254V393.7" stroke="#111" stroke-width="2.6"/><polygon fill="#111" points="773,243 780,255 766,255"/><polygon fill="#111" points="773,404.7 780,392.7 766,392.7"/>
<path d="M773,427V462" stroke="#111" stroke-width="2.6"/><polygon fill="#111" points="773,416 780,428 766,428"/><polygon fill="#111" points="773,473 780,461 766,461"/>
<path d="M773,501.7V592" stroke="#111" stroke-width="2.6"/><polygon fill="#111" points="773,490.7 780,502.7 766,502.7"/><polygon fill="#111" points="773,603 780,591 766,591"/>
<path d="M1085,171V215" stroke="#111" stroke-width="2.6"/><polygon fill="#111" points="1085,160 1092,172 1078,172"/><polygon fill="#111" points="1085,226 1092,214 1078,214"/>
<path d="M1085.3,249V442.8" stroke="#111" stroke-width="2.6"/><polygon fill="#111" points="1085.3,238 1092.3,250 1078.3,250"/><polygon fill="#111" points="1085.3,453.8 1092.3,441.8 1078.3,441.8"/>
<path d="M1085.5,475.3V480.5" stroke="#111" stroke-width="2.6"/><polygon fill="#111" points="1085.5,464.3 1092.5,476.3 1078.5,476.3"/><polygon fill="#111" points="1085.5,491.5 1092.5,479.5 1078.5,479.5"/>
<path d="M1086.3,510.1V592.2" stroke="#111" stroke-width="2.6"/><polygon fill="#111" points="1086.3,499.1 1093.3,511.1 1079.3,511.1"/><polygon fill="#111" points="1086.3,603.2 1093.3,591.2 1079.3,591.2"/>
<text x="687" y="179.5" text-anchor="middle" font-family="Liberation Sans, Noto Sans CJK SC, sans-serif" font-weight="bold" font-size="14" fill="#161616" stroke="#161616" stroke-width="0.3">FTX崩溃之前</text>
<text x="687" y="196.5" text-anchor="middle" font-family="Liberation Sans, Noto Sans CJK SC, sans-serif" font-weight="bold" font-size="14" fill="#161616" stroke="#161616" stroke-width="0.3">ETH市值占比:</text>
<text x="669.6" y="214" font-family="Liberation Sans, Noto Sans CJK SC, sans-serif" font-style="italic" font-size="14" fill="#383838" textLength="35.6" lengthAdjust="spacingAndGlyphs">18.9%</text>
<text x="683" y="318" text-anchor="middle" font-family="Liberation Sans, Noto Sans CJK SC, sans-serif" font-weight="bold" font-size="14" fill="#161616" stroke="#161616" stroke-width="0.3">FTX崩溃之前</text>
<text x="683.2" y="335" text-anchor="middle" font-family="Liberation Sans, Noto Sans CJK SC, sans-serif" font-weight="bold" font-size="14" fill="#161616" stroke="#161616" stroke-width="0.3">BTC市值占比:</text>
<text x="663.4" y="352.3" font-family="Liberation Sans, Noto Sans CJK SC, sans-serif" font-style="italic" font-size="14" fill="#383838" textLength="39.4" lengthAdjust="spacingAndGlyphs">38.9%</text>
<text x="675.3" y="441" text-anchor="middle" font-family="Liberation Sans, Noto Sans CJK SC, sans-serif" font-weight="bold" font-size="14" fill="#161616" stroke="#161616" stroke-width="0.3">FTX崩溃之前</text>
<text x="675.8" y="457" text-anchor="middle" font-family="Liberation Sans, Noto Sans CJK SC, sans-serif" font-weight="bold" font-size="14" fill="#161616" stroke="#161616" stroke-width="0.3">稳定币市值占比:</text>
<text x="658.1" y="475.5" font-family="Liberation Sans, Noto Sans CJK SC, sans-serif" font-style="italic" font-size="14" fill="#383838" textLength="35.9" lengthAdjust="spacingAndGlyphs">13.9%</text>
<text x="687.8" y="531" text-anchor="middle" font-family="Liberation Sans, Noto Sans CJK SC, sans-serif" font-weight="bold" font-size="14" fill="#161616" stroke="#161616" stroke-width="0.3">FTX崩溃之前</text>
<text x="688.2" y="548" text-anchor="middle" font-family="Liberation Sans, Noto Sans CJK SC, sans-serif" font-weight="bold" font-size="14" fill="#161616" stroke="#161616" stroke-width="0.3">山寨币市值占比:</text>
<text x="668.7" y="565" font-family="Liberation Sans, Noto Sans CJK SC, sans-serif" font-style="italic" font-size="14" fill="#383838" textLength="39.1" lengthAdjust="spacingAndGlyphs">28.3%</text>
<text x="1000" y="177" text-anchor="middle" font-family="Liberation Sans, Noto Sans CJK SC, sans-serif" font-weight="bold" font-size="14" fill="#161616" stroke="#161616" stroke-width="0.3">当前ETH市值占比:</text>
<text x="982" y="194" font-family="Liberation Sans, Noto Sans CJK SC, sans-serif" font-style="italic" font-size="14" fill="#383838" textLength="35.9" lengthAdjust="spacingAndGlyphs">18.2%</text>
<text x="1005.6" y="278.5" text-anchor="middle" font-family="Liberation Sans, Noto Sans CJK SC, sans-serif" font-weight="bold" font-size="14" fill="#161616" stroke="#161616" stroke-width="0.3">当前BTC市值占比:</text>
<text x="985.8" y="295" font-family="Liberation Sans, Noto Sans CJK SC, sans-serif" font-style="italic" font-size="14" fill="#383838" textLength="39.4" lengthAdjust="spacingAndGlyphs">49.8%</text>
<text x="1008" y="458" text-anchor="middle" font-family="Liberation Sans, Noto Sans CJK SC, sans-serif" font-weight="bold" font-size="14" fill="#161616" stroke="#161616" stroke-width="0.3">当前稳定币市值占比:</text>
<text x="993.7" y="475" font-family="Liberation Sans, Noto Sans CJK SC, sans-serif" font-style="italic" font-size="14" fill="#383838" textLength="28" lengthAdjust="spacingAndGlyphs">7.8%</text>
<text x="1006.5" y="553" text-anchor="middle" font-family="Liberation Sans, Noto Sans CJK SC, sans-serif" font-weight="bold" font-size="14" fill="#161616" stroke="#161616" stroke-width="0.3">当前山寨币市值占比:</text>
<text x="986.1" y="570.5" font-family="Liberation Sans, Noto Sans CJK SC, sans-serif" font-style="italic" font-size="14" fill="#383838" textLength="39.1" lengthAdjust="spacingAndGlyphs">24.2%</text>
<rect x="140.2" y="134.9" width="31" height="6.4" fill="#efb4dc"/>
<rect x="140.2" y="132.9" width="31" height="2.2" fill="#dc3a9a"/>
<text x="178" y="138.8" font-family="Liberation Sans, Noto Sans CJK SC, sans-serif" font-size="14.4" fill="#151515" textLength="54" lengthAdjust="spacingAndGlyphs">Altcoins</text>
<rect x="257.4" y="134.9" width="31" height="6.4" fill="#bfeacb"/>
<rect x="257.4" y="132.9" width="31" height="2.2" fill="#52b85c"/>
<text x="295" y="138.8" font-family="Liberation Sans, Noto Sans CJK SC, sans-serif" font-size="14.4" fill="#151515" textLength="79" lengthAdjust="spacingAndGlyphs">Stablecoins</text>
<rect x="399.7" y="134.9" width="31" height="6.4" fill="#fae5b6"/>
<rect x="399.7" y="132.9" width="31" height="2.2" fill="#eea43a"/>
<text x="437" y="138.8" font-family="Liberation Sans, Noto Sans CJK SC, sans-serif" font-size="14.4" fill="#151515" textLength="27.5" lengthAdjust="spacingAndGlyphs">BTC</text>
<rect x="490" y="134.9" width="31" height="6.4" fill="#b8d3f7"/>
<rect x="490" y="132.9" width="31" height="2.2" fill="#3a78d8"/>
<text x="528" y="138.8" font-family="Liberation Sans, Noto Sans CJK SC, sans-serif" font-size="14.4" fill="#151515" textLength="27.5" lengthAdjust="spacingAndGlyphs">ETH</text>
<text x="148" y="89.7" font-family="Liberation Sans, Noto Sans CJK SC, sans-serif" font-size="50" fill="#0e0e0e" stroke="#0e0e0e" stroke-width="0.5" textLength="516" lengthAdjust="spacingAndGlyphs">Market Cap Dominance</text>
<text x="62" y="720.7" font-family="Liberation Sans, Noto Sans CJK SC, sans-serif" font-size="19" fill="#7d7d7d" textLength="335" lengthAdjust="spacingAndGlyphs">© 2024 Glassnode. All Rights Reserved.</text>
<text x="901" y="719" font-family="Liberation Sans, Noto Sans CJK SC, sans-serif" font-size="50" fill="#141414" stroke="#141414" stroke-width="0.9" textLength="239" lengthAdjust="spacing">glassnode</text>
</svg></body></html>
